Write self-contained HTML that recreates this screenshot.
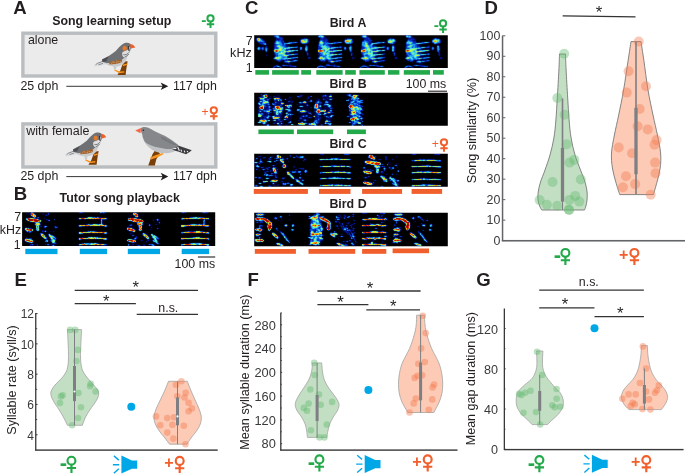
<!DOCTYPE html>
<html lang="en">
<head>
<meta charset="utf-8">
<title>Song learning figure</title>
<style>
html,body{margin:0;padding:0;background:#fff;}
body{width:685px;height:475px;overflow:hidden;font-family:"Liberation Sans", Arial, Helvetica, sans-serif;}
svg{display:block;}
svg text{font-family:"Liberation Sans", Arial, Helvetica, sans-serif;}
</style>
</head>
<body>
<svg width="685" height="475" viewBox="0 0 685 475">
<filter id="jet" filterUnits="userSpaceOnUse" x="0" y="0" width="685" height="475" color-interpolation-filters="sRGB"><feConvolveMatrix in="SourceGraphic" order="3" kernelMatrix="0 1 0 1 10 1 0 1 0" divisor="14" edgeMode="duplicate" preserveAlpha="true" result="i"/><feTurbulence type="fractalNoise" baseFrequency="0.42 0.5" numOctaves="2" seed="4" result="n"/><feColorMatrix in="n" type="matrix" values="1 0 0 0 0 1 0 0 0 0 1 0 0 0 0 0 0 0 0 1" result="ng"/><feComposite in="i" in2="ng" operator="arithmetic" k1="1.7" k2="0.2" k3="0" k4="0" result="t"/><feComponentTransfer><feFuncR type="table" tableValues="0 0 0 0 0.01 0.01 0.02 0.03 0.05 0.06 0.08 0.12 0.16 0.21 0.25 0.34 0.42 0.51 0.6 0.69 0.78 0.86 0.95 0.96 0.97 0.98 0.99 1 0.99 0.98 0.97 0.97 0.96 0.95 0.93 0.91 0.89 0.86 0.84 0.82 0.8 0.78 0.75 0.73 0.7 0.68 0.65 0.63 0.6 0.58 0.55"/><feFuncG type="table" tableValues="0 0 0 0 0.04 0.08 0.12 0.19 0.29 0.4 0.5 0.59 0.69 0.78 0.88 0.91 0.94 0.97 1 0.99 0.97 0.96 0.95 0.88 0.81 0.74 0.67 0.6 0.53 0.47 0.4 0.33 0.27 0.2 0.17 0.14 0.11 0.09 0.06 0.03 0 0 0 0 0 0 0 0 0 0 0"/><feFuncB type="table" tableValues="0 0.07 0.15 0.22 0.37 0.52 0.67 0.78 0.84 0.9 0.96 0.95 0.94 0.93 0.92 0.8 0.69 0.57 0.45 0.36 0.27 0.19 0.1 0.08 0.06 0.04 0.02 0 0 0 0 0 0 0 0 0 0 0 0 0 0 0 0 0 0 0 0 0 0 0 0"/></feComponentTransfer><feConvolveMatrix order="3" kernelMatrix="0 1 0 1 12 1 0 1 0" divisor="16" edgeMode="duplicate" preserveAlpha="true"/></filter><filter id="jets" filterUnits="userSpaceOnUse" x="0" y="0" width="685" height="475" color-interpolation-filters="sRGB"><feConvolveMatrix in="SourceGraphic" order="3" kernelMatrix="0 1 0 1 6 1 0 1 0" divisor="10" edgeMode="duplicate" preserveAlpha="true" result="i"/><feTurbulence type="fractalNoise" baseFrequency="0.35 0.45" numOctaves="2" seed="9" result="n"/><feColorMatrix in="n" type="matrix" values="1 0 0 0 0 1 0 0 0 0 1 0 0 0 0 0 0 0 0 1" result="ng"/><feComposite in="i" in2="ng" operator="arithmetic" k1="1.5" k2="0.3" k3="0" k4="0" result="t"/><feComponentTransfer><feFuncR type="table" tableValues="0 0 0 0 0.01 0.01 0.02 0.03 0.05 0.06 0.08 0.12 0.16 0.21 0.25 0.34 0.42 0.51 0.6 0.69 0.78 0.86 0.95 0.96 0.97 0.98 0.99 1 0.99 0.98 0.97 0.97 0.96 0.95 0.93 0.91 0.89 0.86 0.84 0.82 0.8 0.78 0.75 0.73 0.7 0.68 0.65 0.63 0.6 0.58 0.55"/><feFuncG type="table" tableValues="0 0 0 0 0.04 0.08 0.12 0.19 0.29 0.4 0.5 0.59 0.69 0.78 0.88 0.91 0.94 0.97 1 0.99 0.97 0.96 0.95 0.88 0.81 0.74 0.67 0.6 0.53 0.47 0.4 0.33 0.27 0.2 0.17 0.14 0.11 0.09 0.06 0.03 0 0 0 0 0 0 0 0 0 0 0"/><feFuncB type="table" tableValues="0 0.07 0.15 0.22 0.37 0.52 0.67 0.78 0.84 0.9 0.96 0.95 0.94 0.93 0.92 0.8 0.69 0.57 0.45 0.36 0.27 0.19 0.1 0.08 0.06 0.04 0.02 0 0 0 0 0 0 0 0 0 0 0 0 0 0 0 0 0 0 0 0 0 0 0 0"/></feComponentTransfer><feConvolveMatrix order="3" kernelMatrix="0 1 0 1 8 1 0 1 0" divisor="12" edgeMode="duplicate" preserveAlpha="true"/></filter>
<text x="13.3" y="13.8" font-size="18.6" font-weight="bold" fill="#231f20">A</text>
<text x="52.2" y="24.8" font-size="12.4" font-weight="bold" fill="#231f20">Song learning setup</text>
<rect x="22.9" y="33.2" width="192.9" height="42.8" fill="#ebebeb" stroke="#babdbf" stroke-width="3.4"/>
<rect x="22.9" y="123.9" width="192.9" height="43.1" fill="#ebebeb" stroke="#babdbf" stroke-width="3.4"/>
<text x="27.9" y="44.2" font-size="12.4" fill="#231f20">alone</text>
<text x="26.2" y="135.1" font-size="12.5" fill="#231f20">with female</text>
<text x="20.4" y="90" font-size="12.4" fill="#231f20">25 dph</text>
<text x="173" y="90" font-size="12.4" fill="#231f20">117 dph</text>
<line x1="66.3" y1="86.3" x2="164" y2="86.3" stroke="#231f20" stroke-width="0.9"/>
<path d="M168.3 86.3 l-7.6 -3.8 l1.9 3.8 l-1.9 3.8z" fill="#231f20"/>
<text x="20.4" y="180" font-size="12.4" fill="#231f20">25 dph</text>
<text x="173" y="180" font-size="12.4" fill="#231f20">117 dph</text>
<line x1="66.3" y1="176.6" x2="164" y2="176.6" stroke="#231f20" stroke-width="0.9"/>
<path d="M168.3 176.6 l-7.6 -3.8 l1.9 3.8 l-1.9 3.8z" fill="#231f20"/>
<g transform="translate(0 0)"><path d="M125.2 61.6L127.6 61.2L126.4 68.5L125.6 74.9L117.4 74.9L120.4 70.2L122.4 64.5Z" fill="#7a3f08"/><path d="M114.6 69.4L119.8 71.6L124.2 71.2L124.4 72.6L119.4 73.2L114.2 70.6Z" fill="#f7941d"/><path d="M122.8 64.6L127.4 63.4L127.5 64.8L122.9 66.2Z" fill="#f7941d"/><path d="M104.0 60.6L97.4 62.4L94.6 64.2C93.7 65.2 94.2 66.6 95.6 66.6L100.4 65.8L105.6 64.6Z" fill="#dcdee0"/><path d="M102.6 61.4L97.4 63.4L95.6 64.8M103 63.4L98.4 64.8" stroke="#77787b" stroke-width="0.8" fill="none"/><path d="M103.2 62.6C107 65.6 112 66.8 116.8 66.6C120.8 66.4 124.6 63.6 126.8 58.8L128.6 52.4L122 52L112 60Z" fill="#c9cbcd"/><path d="M113.2 65.4L116.4 65.0L116.0 69.6L114.0 69.2Z" fill="#c9cbcd"/><path d="M102.0 59.6C106.4 57.4 112.0 54.4 116.0 50.8C119.0 47.6 121.6 43.8 125.6 42.8C128.4 42.2 131.0 43.4 131.6 45.8C131.8 48.4 130.4 50.4 129.4 52.2C127.6 54.6 125.8 55.4 124.0 58.0C121.0 61.2 116.0 62.6 110.8 63.0C107.4 63.4 104.2 62.8 102.0 61.6Z" fill="#6f7073"/><path d="M102.0 59.6L108.6 56.4L106.2 61.6L102.8 62Z" fill="#4d4e52"/><path d="M109.2 63.2C110.8 61.2 116.8 60.0 122.2 59.8L121.6 62.2C118.6 63.8 113.0 64.4 109.6 64.4Z" fill="#a5632a"/><path d="M111.4 63.2h0.8M113.6 62.4h0.8M115.8 62.8h0.8M117.8 61.8h0.8M119.8 61.8h0.8M112.6 61.8h0.6M116.6 61.2h0.6" stroke="#e8d6c0" stroke-width="0.7" fill="none"/><path d="M122.6 52.0C121.6 54.0 122.0 56.6 124.6 57.8C126.8 56.8 128.6 54.4 129.6 51.6L128.4 49.6Z" fill="#dcdedf"/><path d="M123.4 54.6C125.4 55.4 127.2 54.4 128.8 52.4M124.6 57.0C126.4 56.4 127.6 55.6 128.8 54.0" stroke="#4d4e52" stroke-width="0.7" fill="none"/><ellipse cx="124.7" cy="48.2" rx="2.2" ry="2.5" fill="#e27a30"/><path d="M128.4 46.0L129.0 51.0" stroke="#2b2b2e" stroke-width="0.9"/><path d="M129.6 47.0L130.2 50.6" stroke="#e8e8e8" stroke-width="0.7"/><path d="M130.0 44.4C132.2 43.6 134.2 45.2 135.2 47.4L130.8 48.6Z" fill="#ee5f2e"/></g>
<g transform="translate(-29 89.8)"><path d="M125.2 61.6L127.6 61.2L126.4 68.5L125.6 74.9L117.4 74.9L120.4 70.2L122.4 64.5Z" fill="#7a3f08"/><path d="M114.6 69.4L119.8 71.6L124.2 71.2L124.4 72.6L119.4 73.2L114.2 70.6Z" fill="#f7941d"/><path d="M122.8 64.6L127.4 63.4L127.5 64.8L122.9 66.2Z" fill="#f7941d"/><path d="M104.0 60.6L97.4 62.4L94.6 64.2C93.7 65.2 94.2 66.6 95.6 66.6L100.4 65.8L105.6 64.6Z" fill="#dcdee0"/><path d="M102.6 61.4L97.4 63.4L95.6 64.8M103 63.4L98.4 64.8" stroke="#77787b" stroke-width="0.8" fill="none"/><path d="M103.2 62.6C107 65.6 112 66.8 116.8 66.6C120.8 66.4 124.6 63.6 126.8 58.8L128.6 52.4L122 52L112 60Z" fill="#c9cbcd"/><path d="M113.2 65.4L116.4 65.0L116.0 69.6L114.0 69.2Z" fill="#c9cbcd"/><path d="M102.0 59.6C106.4 57.4 112.0 54.4 116.0 50.8C119.0 47.6 121.6 43.8 125.6 42.8C128.4 42.2 131.0 43.4 131.6 45.8C131.8 48.4 130.4 50.4 129.4 52.2C127.6 54.6 125.8 55.4 124.0 58.0C121.0 61.2 116.0 62.6 110.8 63.0C107.4 63.4 104.2 62.8 102.0 61.6Z" fill="#6f7073"/><path d="M102.0 59.6L108.6 56.4L106.2 61.6L102.8 62Z" fill="#4d4e52"/><path d="M109.2 63.2C110.8 61.2 116.8 60.0 122.2 59.8L121.6 62.2C118.6 63.8 113.0 64.4 109.6 64.4Z" fill="#a5632a"/><path d="M111.4 63.2h0.8M113.6 62.4h0.8M115.8 62.8h0.8M117.8 61.8h0.8M119.8 61.8h0.8M112.6 61.8h0.6M116.6 61.2h0.6" stroke="#e8d6c0" stroke-width="0.7" fill="none"/><path d="M122.6 52.0C121.6 54.0 122.0 56.6 124.6 57.8C126.8 56.8 128.6 54.4 129.6 51.6L128.4 49.6Z" fill="#dcdedf"/><path d="M123.4 54.6C125.4 55.4 127.2 54.4 128.8 52.4M124.6 57.0C126.4 56.4 127.6 55.6 128.8 54.0" stroke="#4d4e52" stroke-width="0.7" fill="none"/><ellipse cx="124.7" cy="48.2" rx="2.2" ry="2.5" fill="#e27a30"/><path d="M128.4 46.0L129.0 51.0" stroke="#2b2b2e" stroke-width="0.9"/><path d="M129.6 47.0L130.2 50.6" stroke="#e8e8e8" stroke-width="0.7"/><path d="M130.0 44.4C132.2 43.6 134.2 45.2 135.2 47.4L130.8 48.6Z" fill="#ee5f2e"/></g>
<g><path d="M155.0 150.4L158.4 151.2L160.0 154.0L156.4 159.0L154.8 165.6L148.2 165.6L150.4 159.6L152.6 154.0Z" fill="#7a3f08"/><path d="M150.2 157.6L156.0 155.0L162.8 153.0L163.4 154.2L157.6 157.2L151.0 159.4Z" fill="#f7941d"/><path d="M170.0 146.6L178.8 145.8L191.8 150.2L189.6 152.0L186.0 154.2L178.0 151.6L170.4 149.6Z" fill="#3c3d41"/><path d="M172.0 148.6L176.4 148.4M177.6 146.8L179.4 150.8M181.0 149.6L181.6 151.6M184.2 150.6L184.8 152.4M187.2 151.0L187.6 152.2" stroke="#f0f0f0" stroke-width="1.1" fill="none"/><path d="M143.6 140.2C146.4 146.4 152.0 150.6 158.6 152.6C164.0 153.8 170.0 153.2 174.6 151.4L171.0 148.0L150.0 141.0Z" fill="#bfc1c4"/><path d="M140.6 128.4C142.0 126.6 145.4 126.4 148.4 127.8C152.0 129.8 156.4 132.4 160.6 134.0C166.6 136.2 173.6 141.2 178.8 145.4C176.0 148.2 170.6 149.6 165.0 148.8C158.0 147.8 151.0 146.0 147.0 143.6C144.0 141.4 142.4 137.6 142.2 134.2C141.4 132.4 140.6 130.6 140.6 128.4Z" fill="#85878a"/><path d="M160.4 136.0C166.0 138.4 173.0 142.0 178.4 145.6C174.6 145.8 168.0 142.8 162.0 139.0Z" fill="#77797c"/><circle cx="143.4" cy="130.2" r="0.8" fill="#222"/><path d="M140.8 128.0L135.2 130.6L140.4 133.2C141.0 131.4 141.0 129.6 140.8 128.0Z" fill="#f26a4b"/></g>
<text x="201.2" y="25.2" font-size="15.5" font-weight="bold" fill="#22a949">-</text><g fill="none" stroke="#22a949" stroke-width="2"><circle cx="210.5" cy="18.4" r="3.1"/><path d="M210.5 21.5V27.9M206.8 24.35H214.2"/></g>
<text x="205.1" y="116.05" font-size="12.2" text-anchor="middle" fill="#f15f2c">+</text><g fill="none" stroke="#f15f2c" stroke-width="2"><circle cx="213.8" cy="110.35" r="3.1"/><path d="M213.8 113.45V119.85M210.1 116.3H217.5"/></g>
<text x="13.8" y="200.3" font-size="18.6" font-weight="bold" fill="#231f20">B</text>
<text x="59.6" y="201.7" font-size="12.4" font-weight="bold" fill="#231f20">Tutor song playback</text>
<text x="21.2" y="221" font-size="12.4" text-anchor="end" fill="#231f20">7</text>
<text x="21.2" y="234.3" font-size="12.4" text-anchor="end" fill="#231f20">kHz</text>
<text x="20.6" y="249.4" font-size="12.4" text-anchor="end" fill="#231f20">1</text>
<rect x="25.3" y="248.8" width="32.2" height="5.3" fill="#00a7e7"/><rect x="79.8" y="248.8" width="27.2" height="5.3" fill="#00a7e7"/><rect x="127.8" y="248.8" width="32.2" height="5.3" fill="#00a7e7"/><rect x="181.7" y="248.8" width="27.3" height="5.3" fill="#00a7e7"/>
<line x1="197.9" y1="257" x2="215.2" y2="257" stroke="#231f20" stroke-width="1.1"/>
<text x="215.2" y="268.4" font-size="12.4" text-anchor="end" fill="#231f20">100 ms</text>
<clipPath id="c433"><rect x="22.1" y="212.3" width="193.1" height="33.6"/></clipPath><g clip-path="url(#c433)"><g filter="url(#jet)"><rect x="19.1" y="209.3" width="199.1" height="39.6" fill="#000"/><g fill="#fff"><ellipse cx="32.68" cy="229.63" rx="1.04" ry="0.7" opacity="0.2"/><ellipse cx="27.33" cy="213.7" rx="1.6" ry="0.53" opacity="0.14"/><ellipse cx="56.16" cy="227.41" rx="1.6" ry="0.64" opacity="0.2"/><ellipse cx="29.97" cy="232.35" rx="1.64" ry="0.66" opacity="0.22"/><ellipse cx="46.11" cy="215.22" rx="1.51" ry="0.7" opacity="0.15"/><ellipse cx="26.26" cy="239.27" rx="1.17" ry="0.76" opacity="0.24"/><ellipse cx="47.44" cy="240.93" rx="1.07" ry="0.8" opacity="0.17"/><ellipse cx="54.3" cy="239.67" rx="0.72" ry="0.47" opacity="0.13"/><ellipse cx="55.23" cy="226.38" rx="1.35" ry="0.55" opacity="0.18"/><ellipse cx="37.26" cy="223.83" rx="1.3" ry="0.69" opacity="0.24"/><ellipse cx="46.44" cy="241.17" rx="1.63" ry="0.9" opacity="0.21"/><ellipse cx="30.36" cy="239.12" rx="1.76" ry="0.85" opacity="0.19"/><ellipse cx="47.43" cy="219.63" rx="1.6" ry="0.69" opacity="0.15"/><ellipse cx="27.27" cy="238.92" rx="1.79" ry="0.44" opacity="0.23"/><ellipse cx="38.02" cy="217.82" rx="0.95" ry="0.78" opacity="0.24"/><ellipse cx="26.67" cy="231.74" rx="0.65" ry="0.76" opacity="0.15"/><ellipse cx="52.61" cy="242.72" rx="1.21" ry="0.9" opacity="0.15"/><ellipse cx="27.69" cy="231.29" rx="0.64" ry="0.5" opacity="0.17"/><ellipse cx="44.22" cy="217.99" rx="0.65" ry="0.83" opacity="0.15"/><ellipse cx="55.02" cy="240.2" rx="1.05" ry="0.63" opacity="0.18"/><ellipse cx="45.26" cy="231.17" rx="1.27" ry="0.71" opacity="0.25"/><ellipse cx="41.02" cy="226.24" rx="1.46" ry="0.52" opacity="0.15"/><ellipse cx="55.61" cy="228.93" rx="1.26" ry="0.41" opacity="0.17"/><ellipse cx="43.28" cy="213.9" rx="1.34" ry="0.72" opacity="0.11"/><ellipse cx="44.75" cy="227.29" rx="1.42" ry="0.58" opacity="0.21"/><ellipse cx="48.18" cy="213.97" rx="0.67" ry="0.74" opacity="0.25"/><ellipse cx="31.34" cy="244.76" rx="1.19" ry="0.46" opacity="0.2"/><ellipse cx="33.31" cy="244.67" rx="1.2" ry="0.46" opacity="0.2"/><ellipse cx="48.01" cy="244.33" rx="1.17" ry="0.55" opacity="0.19"/><ellipse cx="30.42" cy="245.1" rx="0.84" ry="0.44" opacity="0.22"/><ellipse cx="45.64" cy="244.4" rx="0.92" ry="0.47" opacity="0.3"/><ellipse cx="37.33" cy="245.16" rx="0.77" ry="0.47" opacity="0.26"/><ellipse cx="51.62" cy="244.75" rx="0.83" ry="0.42" opacity="0.24"/><ellipse cx="29.41" cy="245.11" rx="1.44" ry="0.44" opacity="0.18"/><ellipse cx="49.13" cy="244.94" rx="1.41" ry="0.47" opacity="0.15"/><ellipse cx="32.64" cy="245.09" rx="0.87" ry="0.47" opacity="0.21"/><ellipse cx="36.73" cy="244.71" rx="1.52" ry="0.43" opacity="0.12"/><ellipse cx="53.48" cy="245.18" rx="1.59" ry="0.49" opacity="0.33"/><ellipse cx="33.2" cy="214.9" rx="3.36" ry="1.8" opacity="0.17" transform="rotate(36.38 33.2 214.9)"/><ellipse cx="33.2" cy="214.9" rx="2.56" ry="1.1" opacity="0.42" transform="rotate(36.38 33.2 214.9)"/><ellipse cx="32.09" cy="214.45" rx="1.2" ry="0.68" opacity="0.58" transform="rotate(36.38 32.09 214.45)"/><ellipse cx="32.94" cy="214.51" rx="0.74" ry="0.66" opacity="0.48" transform="rotate(36.38 32.94 214.51)"/><ellipse cx="34.43" cy="216.41" rx="1.12" ry="0.77" opacity="0.75" transform="rotate(36.38 34.43 216.41)"/><ellipse cx="33.5" cy="220.25" rx="7.88" ry="2.1" opacity="0.17" transform="rotate(8.78 33.5 220.25)"/><ellipse cx="33.5" cy="220.25" rx="7.08" ry="1.4" opacity="0.44" transform="rotate(8.78 33.5 220.25)"/><ellipse cx="27.75" cy="218.72" rx="1.15" ry="0.66" opacity="0.51" transform="rotate(8.78 27.75 218.72)"/><ellipse cx="28.89" cy="219.42" rx="1.26" ry="0.86" opacity="0.53" transform="rotate(8.78 28.89 219.42)"/><ellipse cx="30.12" cy="219.66" rx="1.17" ry="0.75" opacity="0.46" transform="rotate(8.78 30.12 219.66)"/><ellipse cx="31.68" cy="219.51" rx="1.18" ry="1" opacity="0.75" transform="rotate(8.78 31.68 219.51)"/><ellipse cx="32.79" cy="220.35" rx="1.22" ry="0.61" opacity="0.5" transform="rotate(8.78 32.79 220.35)"/><ellipse cx="34.01" cy="220.23" rx="0.98" ry="0.94" opacity="0.37" transform="rotate(8.78 34.01 220.23)"/><ellipse cx="34.95" cy="220.02" rx="0.74" ry="1.03" opacity="0.77" transform="rotate(8.78 34.95 220.02)"/><ellipse cx="36.56" cy="220.48" rx="0.89" ry="0.74" opacity="0.67" transform="rotate(8.78 36.56 220.48)"/><ellipse cx="38.25" cy="220.59" rx="0.9" ry="0.64" opacity="0.63" transform="rotate(8.78 38.25 220.59)"/><ellipse cx="39.72" cy="220.68" rx="0.81" ry="0.75" opacity="0.65" transform="rotate(8.78 39.72 220.68)"/><ellipse cx="36.9" cy="220.9" rx="3" ry="1.7" opacity="0.18"/><ellipse cx="36.9" cy="220.9" rx="2.3" ry="1.2" opacity="0.46"/><ellipse cx="36.9" cy="220.9" rx="1.8" ry="0.7" opacity="0.83"/><ellipse cx="30.3" cy="219.7" rx="2.6" ry="1.6" opacity="0.18"/><ellipse cx="30.3" cy="219.7" rx="1.9" ry="1.1" opacity="0.38"/><ellipse cx="30.3" cy="219.7" rx="1.4" ry="0.6" opacity="0.68"/><ellipse cx="37.7" cy="224.2" rx="3" ry="1.5" opacity="0.17"/><ellipse cx="37.7" cy="224.2" rx="2.2" ry="0.8" opacity="0.38"/><ellipse cx="36.52" cy="224.41" rx="1.07" ry="0.42" opacity="0.47"/><ellipse cx="37.82" cy="224.14" rx="1.12" ry="0.43" opacity="0.41"/><ellipse cx="39.18" cy="223.9" rx="0.95" ry="0.42" opacity="0.67"/><ellipse cx="37.7" cy="227.1" rx="2" ry="1.8" opacity="0.18"/><ellipse cx="37.7" cy="227.1" rx="1.3" ry="1.3" opacity="0.29"/><ellipse cx="37.7" cy="227.1" rx="0.8" ry="0.8" opacity="0.52"/><ellipse cx="37.7" cy="229.5" rx="1.9" ry="1.6" opacity="0.18"/><ellipse cx="37.7" cy="229.5" rx="1.2" ry="1.1" opacity="0.26"/><ellipse cx="37.7" cy="229.5" rx="0.7" ry="0.6" opacity="0.46"/><ellipse cx="28.8" cy="229.7" rx="4.4" ry="1.8" opacity="0.17" transform="rotate(13.63 28.8 229.7)"/><ellipse cx="28.8" cy="229.7" rx="3.6" ry="1.1" opacity="0.46" transform="rotate(13.63 28.8 229.7)"/><ellipse cx="26.43" cy="229.54" rx="1.17" ry="0.54" opacity="0.61" transform="rotate(13.63 26.43 229.54)"/><ellipse cx="27.37" cy="229.47" rx="1.23" ry="0.73" opacity="0.72" transform="rotate(13.63 27.37 229.47)"/><ellipse cx="29.02" cy="229.35" rx="1.05" ry="0.45" opacity="0.46" transform="rotate(13.63 29.02 229.35)"/><ellipse cx="30.06" cy="229.66" rx="0.76" ry="0.76" opacity="0.47" transform="rotate(13.63 30.06 229.66)"/><ellipse cx="31.27" cy="229.87" rx="1.21" ry="0.69" opacity="0.8" transform="rotate(13.63 31.27 229.87)"/><ellipse cx="29.1" cy="240.8" rx="4.67" ry="1.7" opacity="0.17" transform="rotate(11 29.1 240.8)"/><ellipse cx="29.1" cy="240.8" rx="3.87" ry="1" opacity="0.46" transform="rotate(11 29.1 240.8)"/><ellipse cx="26.66" cy="240.58" rx="0.72" ry="0.65" opacity="0.64" transform="rotate(11 26.66 240.58)"/><ellipse cx="27.61" cy="240.78" rx="1.26" ry="0.42" opacity="0.55" transform="rotate(11 27.61 240.78)"/><ellipse cx="29.35" cy="240.58" rx="0.81" ry="0.48" opacity="0.69" transform="rotate(11 29.35 240.58)"/><ellipse cx="30.7" cy="241" rx="0.94" ry="0.52" opacity="0.59" transform="rotate(11 30.7 241)"/><ellipse cx="31.62" cy="241.72" rx="0.95" ry="0.64" opacity="0.46" transform="rotate(11 31.62 241.72)"/><ellipse cx="43.6" cy="236.2" rx="4.68" ry="1.6" opacity="0.17" transform="rotate(42.8 43.6 236.2)"/><ellipse cx="43.6" cy="236.2" rx="3.88" ry="0.9" opacity="0.29" transform="rotate(42.8 43.6 236.2)"/><ellipse cx="41.72" cy="234.45" rx="1.01" ry="0.5" opacity="0.45" transform="rotate(42.8 41.72 234.45)"/><ellipse cx="42.57" cy="235.12" rx="1.15" ry="0.62" opacity="0.41" transform="rotate(42.8 42.57 235.12)"/><ellipse cx="43.69" cy="235.91" rx="0.86" ry="0.42" opacity="0.43" transform="rotate(42.8 43.69 235.91)"/><ellipse cx="44.4" cy="237.24" rx="1.27" ry="0.44" opacity="0.47" transform="rotate(42.8 44.4 237.24)"/><ellipse cx="45.92" cy="238.22" rx="0.86" ry="0.42" opacity="0.25" transform="rotate(42.8 45.92 238.22)"/><ellipse cx="51.85" cy="238.1" rx="5.53" ry="1.4" opacity="0.17" transform="rotate(52.62 51.85 238.1)"/><ellipse cx="51.85" cy="238.1" rx="4.73" ry="0.7" opacity="0.19" transform="rotate(52.62 51.85 238.1)"/><ellipse cx="49.48" cy="234.89" rx="0.92" ry="0.34" opacity="0.32" transform="rotate(52.62 49.48 234.89)"/><ellipse cx="50.57" cy="236.03" rx="1.06" ry="0.37" opacity="0.33" transform="rotate(52.62 50.57 236.03)"/><ellipse cx="51.6" cy="237.72" rx="1.13" ry="0.45" opacity="0.24" transform="rotate(52.62 51.6 237.72)"/><ellipse cx="52.71" cy="238.85" rx="0.84" ry="0.32" opacity="0.31" transform="rotate(52.62 52.71 238.85)"/><ellipse cx="53.6" cy="240.24" rx="0.85" ry="0.31" opacity="0.21" transform="rotate(52.62 53.6 240.24)"/><ellipse cx="54.09" cy="241.09" rx="1.24" ry="0.32" opacity="0.34" transform="rotate(52.62 54.09 241.09)"/><path d="M51.9 235.7L55.9 238.7" stroke="#fff" stroke-width="1.5" stroke-linecap="round" opacity="0.13" fill="none"/><path d="M51.9 235.7L55.9 238.7" stroke="#fff" stroke-width="0.7" stroke-linecap="round" opacity="0.3" fill="none"/><path d="M50.9 240.9L55.9 243.7" stroke="#fff" stroke-width="1.5" stroke-linecap="round" opacity="0.13" fill="none"/><path d="M50.9 240.9L55.9 243.7" stroke="#fff" stroke-width="0.7" stroke-linecap="round" opacity="0.3" fill="none"/><ellipse cx="46.31" cy="221.92" rx="0.86" ry="0.43" opacity="0.14"/><ellipse cx="54.64" cy="219.55" rx="0.68" ry="0.57" opacity="0.24"/><ellipse cx="41.41" cy="220.33" rx="0.72" ry="0.55" opacity="0.16"/><ellipse cx="50.66" cy="231.5" rx="0.7" ry="0.56" opacity="0.14"/><ellipse cx="45.7" cy="226.28" rx="0.56" ry="0.67" opacity="0.28"/><ellipse cx="42.85" cy="231.24" rx="0.69" ry="0.63" opacity="0.26"/><ellipse cx="46.03" cy="226.47" rx="0.83" ry="0.64" opacity="0.17"/><ellipse cx="53.37" cy="231.6" rx="0.84" ry="0.56" opacity="0.14"/><ellipse cx="49.2" cy="220.64" rx="0.86" ry="0.6" opacity="0.22"/><ellipse cx="44.21" cy="225.92" rx="0.82" ry="0.45" opacity="0.28"/><path d="M79.2 218.84C79.7 218.77 81.2 218.48 82.2 218.44C83.2 218.4 84.2 218.64 85.2 218.59C86.2 218.55 87.2 218.22 88.2 218.15C89.2 218.08 90.2 218.13 91.2 218.16C92.2 218.19 93.2 218.29 94.2 218.32C95.2 218.35 96.2 218.31 97.2 218.33C98.2 218.35 99.2 218.39 100.2 218.44C101.2 218.49 102.2 218.59 103.2 218.65C104.2 218.7 105.7 218.74 106.2 218.76" stroke="#fff" stroke-width="1" stroke-linecap="round" opacity="0.47" fill="none"/><path d="M79.2 218.84L82.2 218.44" stroke="#fff" stroke-width="0.9" stroke-linecap="round" opacity="0.22" fill="none"/><path d="M82.2 218.44L85.2 218.59" stroke="#fff" stroke-width="0.9" stroke-linecap="round" opacity="0.38" fill="none"/><path d="M88.2 218.15L91.2 218.16" stroke="#fff" stroke-width="0.9" stroke-linecap="round" opacity="0.39" fill="none"/><path d="M91.2 218.16L94.2 218.32" stroke="#fff" stroke-width="0.9" stroke-linecap="round" opacity="0.25" fill="none"/><path d="M94.2 218.32L97.2 218.33" stroke="#fff" stroke-width="0.9" stroke-linecap="round" opacity="0.43" fill="none"/><path d="M97.2 218.33L100.2 218.44" stroke="#fff" stroke-width="0.9" stroke-linecap="round" opacity="0.32" fill="none"/><path d="M100.2 218.44L103.2 218.65" stroke="#fff" stroke-width="0.9" stroke-linecap="round" opacity="0.4" fill="none"/><path d="M103.2 218.65L106.2 218.76" stroke="#fff" stroke-width="0.9" stroke-linecap="round" opacity="0.27" fill="none"/><path d="M79.2 225.74C79.7 225.72 81.2 225.64 82.2 225.61C83.2 225.57 84.2 225.59 85.2 225.53C86.2 225.47 87.2 225.26 88.2 225.24C89.2 225.21 90.2 225.39 91.2 225.37C92.2 225.34 93.2 225.1 94.2 225.07C95.2 225.05 96.2 225.17 97.2 225.2C98.2 225.23 99.2 225.22 100.2 225.26C101.2 225.3 102.2 225.33 103.2 225.43C104.2 225.54 105.7 225.82 106.2 225.89" stroke="#fff" stroke-width="1" stroke-linecap="round" opacity="0.47" fill="none"/><path d="M79.2 225.74L82.2 225.61" stroke="#fff" stroke-width="0.9" stroke-linecap="round" opacity="0.22" fill="none"/><path d="M82.2 225.61L85.2 225.53" stroke="#fff" stroke-width="0.9" stroke-linecap="round" opacity="0.29" fill="none"/><path d="M85.2 225.53L88.2 225.24" stroke="#fff" stroke-width="0.9" stroke-linecap="round" opacity="0.41" fill="none"/><path d="M88.2 225.24L91.2 225.37" stroke="#fff" stroke-width="0.9" stroke-linecap="round" opacity="0.35" fill="none"/><path d="M91.2 225.37L94.2 225.07" stroke="#fff" stroke-width="0.9" stroke-linecap="round" opacity="0.29" fill="none"/><path d="M94.2 225.07L97.2 225.2" stroke="#fff" stroke-width="0.9" stroke-linecap="round" opacity="0.33" fill="none"/><path d="M97.2 225.2L100.2 225.26" stroke="#fff" stroke-width="0.9" stroke-linecap="round" opacity="0.23" fill="none"/><path d="M100.2 225.26L103.2 225.43" stroke="#fff" stroke-width="0.9" stroke-linecap="round" opacity="0.4" fill="none"/><path d="M103.2 225.43L106.2 225.89" stroke="#fff" stroke-width="0.9" stroke-linecap="round" opacity="0.41" fill="none"/><path d="M79.2 232.94C79.7 232.91 81.2 232.86 82.2 232.77C83.2 232.67 84.2 232.45 85.2 232.37C86.2 232.3 87.2 232.33 88.2 232.32C89.2 232.3 90.2 232.27 91.2 232.26C92.2 232.26 93.2 232.24 94.2 232.28C95.2 232.32 96.2 232.45 97.2 232.49C98.2 232.52 99.2 232.49 100.2 232.49C101.2 232.5 102.2 232.44 103.2 232.51C104.2 232.58 105.7 232.85 106.2 232.92" stroke="#fff" stroke-width="1" stroke-linecap="round" opacity="0.47" fill="none"/><path d="M79.2 232.94L82.2 232.77" stroke="#fff" stroke-width="0.9" stroke-linecap="round" opacity="0.35" fill="none"/><path d="M82.2 232.77L85.2 232.37" stroke="#fff" stroke-width="0.9" stroke-linecap="round" opacity="0.17" fill="none"/><path d="M88.2 232.32L91.2 232.26" stroke="#fff" stroke-width="0.9" stroke-linecap="round" opacity="0.32" fill="none"/><path d="M91.2 232.26L94.2 232.28" stroke="#fff" stroke-width="0.9" stroke-linecap="round" opacity="0.31" fill="none"/><path d="M94.2 232.28L97.2 232.49" stroke="#fff" stroke-width="0.9" stroke-linecap="round" opacity="0.33" fill="none"/><path d="M97.2 232.49L100.2 232.49" stroke="#fff" stroke-width="0.9" stroke-linecap="round" opacity="0.32" fill="none"/><path d="M100.2 232.49L103.2 232.51" stroke="#fff" stroke-width="0.9" stroke-linecap="round" opacity="0.3" fill="none"/><path d="M103.2 232.51L106.2 232.92" stroke="#fff" stroke-width="0.9" stroke-linecap="round" opacity="0.46" fill="none"/><path d="M79.2 238.94C79.7 238.85 81.2 238.51 82.2 238.44C83.2 238.38 84.2 238.55 85.2 238.54C86.2 238.52 87.2 238.43 88.2 238.34C89.2 238.26 90.2 238.08 91.2 238.05C92.2 238.02 93.2 238.15 94.2 238.17C95.2 238.2 96.2 238.18 97.2 238.19C98.2 238.2 99.2 238.18 100.2 238.25C101.2 238.32 102.2 238.49 103.2 238.6C104.2 238.72 105.7 238.89 106.2 238.95" stroke="#fff" stroke-width="1" stroke-linecap="round" opacity="0.47" fill="none"/><path d="M79.2 238.94L82.2 238.44" stroke="#fff" stroke-width="0.9" stroke-linecap="round" opacity="0.43" fill="none"/><path d="M82.2 238.44L85.2 238.54" stroke="#fff" stroke-width="0.9" stroke-linecap="round" opacity="0.21" fill="none"/><path d="M88.2 238.34L91.2 238.05" stroke="#fff" stroke-width="0.9" stroke-linecap="round" opacity="0.45" fill="none"/><path d="M91.2 238.05L94.2 238.17" stroke="#fff" stroke-width="0.9" stroke-linecap="round" opacity="0.39" fill="none"/><path d="M94.2 238.17L97.2 238.19" stroke="#fff" stroke-width="0.9" stroke-linecap="round" opacity="0.41" fill="none"/><path d="M103.2 238.6L106.2 238.95" stroke="#fff" stroke-width="0.9" stroke-linecap="round" opacity="0.4" fill="none"/><path d="M79.2 244.77C79.7 244.72 81.2 244.52 82.2 244.43C83.2 244.34 84.2 244.29 85.2 244.24C86.2 244.19 87.2 244.15 88.2 244.13C89.2 244.1 90.2 244.11 91.2 244.11C92.2 244.1 93.2 244.06 94.2 244.09C95.2 244.12 96.2 244.23 97.2 244.29C98.2 244.36 99.2 244.45 100.2 244.5C101.2 244.55 102.2 244.56 103.2 244.6C104.2 244.64 105.7 244.72 106.2 244.75" stroke="#fff" stroke-width="1" stroke-linecap="round" opacity="0.47" fill="none"/><path d="M79.2 244.77L82.2 244.43" stroke="#fff" stroke-width="0.9" stroke-linecap="round" opacity="0.26" fill="none"/><path d="M82.2 244.43L85.2 244.24" stroke="#fff" stroke-width="0.9" stroke-linecap="round" opacity="0.4" fill="none"/><path d="M85.2 244.24L88.2 244.13" stroke="#fff" stroke-width="0.9" stroke-linecap="round" opacity="0.22" fill="none"/><path d="M91.2 244.11L94.2 244.09" stroke="#fff" stroke-width="0.9" stroke-linecap="round" opacity="0.28" fill="none"/><path d="M94.2 244.09L97.2 244.29" stroke="#fff" stroke-width="0.9" stroke-linecap="round" opacity="0.33" fill="none"/><path d="M97.2 244.29L100.2 244.5" stroke="#fff" stroke-width="0.9" stroke-linecap="round" opacity="0.24" fill="none"/><path d="M100.2 244.5L103.2 244.6" stroke="#fff" stroke-width="0.9" stroke-linecap="round" opacity="0.23" fill="none"/><path d="M79.2 212.8C79.87 212.77 82.53 212.63 83.2 212.6" stroke="#fff" stroke-width="1" stroke-linecap="round" opacity="0.22" fill="none"/><path d="M100.2 212.7C101.03 212.72 104.37 212.78 105.2 212.8" stroke="#fff" stroke-width="1" stroke-linecap="round" opacity="0.22" fill="none"/><path d="M101.6 220.1L101.6 225.1" stroke="#fff" stroke-width="1.5" stroke-linecap="round" opacity="0.13" fill="none"/><path d="M101.6 220.1L101.6 225.1" stroke="#fff" stroke-width="0.7" stroke-linecap="round" opacity="0.3" fill="none"/><ellipse cx="132.25" cy="227.1" rx="0.83" ry="0.5" opacity="0.13"/><ellipse cx="140.32" cy="218.35" rx="0.63" ry="0.46" opacity="0.13"/><ellipse cx="143" cy="215.09" rx="0.63" ry="0.62" opacity="0.17"/><ellipse cx="149.61" cy="214.83" rx="1.08" ry="0.6" opacity="0.1"/><ellipse cx="157.73" cy="219.87" rx="0.71" ry="0.64" opacity="0.13"/><ellipse cx="147.1" cy="223.69" rx="0.75" ry="0.43" opacity="0.22"/><ellipse cx="136.33" cy="236.94" rx="1.16" ry="0.87" opacity="0.15"/><ellipse cx="135.55" cy="221.27" rx="1.58" ry="0.71" opacity="0.16"/><ellipse cx="130.71" cy="233.77" rx="1.76" ry="0.7" opacity="0.1"/><ellipse cx="128.74" cy="216.02" rx="0.8" ry="0.42" opacity="0.11"/><ellipse cx="148.08" cy="240.31" rx="0.84" ry="0.89" opacity="0.18"/><ellipse cx="152.71" cy="240.82" rx="1.73" ry="0.42" opacity="0.15"/><ellipse cx="146.61" cy="241.7" rx="0.71" ry="0.55" opacity="0.24"/><ellipse cx="131.35" cy="225" rx="1" ry="0.74" opacity="0.25"/><ellipse cx="133.21" cy="235.49" rx="1.48" ry="0.82" opacity="0.19"/><ellipse cx="156.43" cy="224.18" rx="1.1" ry="0.51" opacity="0.22"/><ellipse cx="142.7" cy="221.38" rx="0.8" ry="0.76" opacity="0.2"/><ellipse cx="149.83" cy="224.9" rx="1.18" ry="0.48" opacity="0.21"/><ellipse cx="128.51" cy="227.31" rx="1.51" ry="0.74" opacity="0.12"/><ellipse cx="135.15" cy="238.61" rx="1.37" ry="0.84" opacity="0.24"/><ellipse cx="141.75" cy="240.21" rx="1.48" ry="0.57" opacity="0.16"/><ellipse cx="130.03" cy="225.28" rx="1.75" ry="0.45" opacity="0.19"/><ellipse cx="131.21" cy="215.73" rx="1.38" ry="0.52" opacity="0.11"/><ellipse cx="132.53" cy="232.64" rx="1.3" ry="0.41" opacity="0.14"/><ellipse cx="157.78" cy="219.9" rx="1.27" ry="0.61" opacity="0.22"/><ellipse cx="146.53" cy="236.96" rx="1.24" ry="0.49" opacity="0.13"/><ellipse cx="128.33" cy="245.13" rx="0.71" ry="0.4" opacity="0.33"/><ellipse cx="132.18" cy="245.19" rx="0.69" ry="0.49" opacity="0.17"/><ellipse cx="152.34" cy="244.92" rx="1.24" ry="0.55" opacity="0.31"/><ellipse cx="136.87" cy="244.9" rx="1.05" ry="0.42" opacity="0.3"/><ellipse cx="144.82" cy="245.11" rx="0.81" ry="0.51" opacity="0.22"/><ellipse cx="149.1" cy="244.38" rx="0.95" ry="0.5" opacity="0.14"/><ellipse cx="143.49" cy="245.04" rx="1.02" ry="0.53" opacity="0.25"/><ellipse cx="132.65" cy="244.65" rx="1.6" ry="0.47" opacity="0.21"/><ellipse cx="128.49" cy="244.52" rx="0.77" ry="0.59" opacity="0.28"/><ellipse cx="153.79" cy="245.29" rx="1.21" ry="0.59" opacity="0.24"/><ellipse cx="139.2" cy="245.25" rx="1.5" ry="0.59" opacity="0.23"/><ellipse cx="150.55" cy="244.71" rx="1.6" ry="0.58" opacity="0.18"/><ellipse cx="135.7" cy="214.9" rx="3.36" ry="1.8" opacity="0.17" transform="rotate(36.38 135.7 214.9)"/><ellipse cx="135.7" cy="214.9" rx="2.56" ry="1.1" opacity="0.42" transform="rotate(36.38 135.7 214.9)"/><ellipse cx="134.57" cy="213.81" rx="1.13" ry="0.55" opacity="0.58" transform="rotate(36.38 134.57 213.81)"/><ellipse cx="135.53" cy="215.22" rx="0.87" ry="0.6" opacity="0.51" transform="rotate(36.38 135.53 215.22)"/><ellipse cx="137.3" cy="215.76" rx="0.76" ry="0.55" opacity="0.53" transform="rotate(36.38 137.3 215.76)"/><ellipse cx="136" cy="220.25" rx="7.88" ry="2.1" opacity="0.17" transform="rotate(8.78 136 220.25)"/><ellipse cx="136" cy="220.25" rx="7.08" ry="1.4" opacity="0.44" transform="rotate(8.78 136 220.25)"/><ellipse cx="129.33" cy="219.59" rx="1.12" ry="1.03" opacity="0.83" transform="rotate(8.78 129.33 219.59)"/><ellipse cx="131.47" cy="219.12" rx="0.89" ry="0.8" opacity="0.62" transform="rotate(8.78 131.47 219.12)"/><ellipse cx="132.55" cy="220.19" rx="0.87" ry="0.8" opacity="0.79" transform="rotate(8.78 132.55 220.19)"/><ellipse cx="134.09" cy="219.64" rx="1.18" ry="0.59" opacity="0.43" transform="rotate(8.78 134.09 219.64)"/><ellipse cx="135.37" cy="219.71" rx="0.73" ry="0.68" opacity="0.73" transform="rotate(8.78 135.37 219.71)"/><ellipse cx="136.94" cy="220.72" rx="1.29" ry="0.6" opacity="0.45" transform="rotate(8.78 136.94 220.72)"/><ellipse cx="137.6" cy="220.29" rx="0.73" ry="0.83" opacity="0.41" transform="rotate(8.78 137.6 220.29)"/><ellipse cx="139.09" cy="221.14" rx="0.95" ry="0.7" opacity="0.39" transform="rotate(8.78 139.09 221.14)"/><ellipse cx="140.78" cy="221.2" rx="1.25" ry="0.95" opacity="0.48" transform="rotate(8.78 140.78 221.2)"/><ellipse cx="141.98" cy="221.53" rx="1.01" ry="0.96" opacity="0.63" transform="rotate(8.78 141.98 221.53)"/><ellipse cx="139.4" cy="220.9" rx="3" ry="1.7" opacity="0.18"/><ellipse cx="139.4" cy="220.9" rx="2.3" ry="1.2" opacity="0.46"/><ellipse cx="139.4" cy="220.9" rx="1.8" ry="0.7" opacity="0.83"/><ellipse cx="132.8" cy="219.7" rx="2.6" ry="1.6" opacity="0.18"/><ellipse cx="132.8" cy="219.7" rx="1.9" ry="1.1" opacity="0.38"/><ellipse cx="132.8" cy="219.7" rx="1.4" ry="0.6" opacity="0.68"/><ellipse cx="140.2" cy="224.2" rx="3" ry="1.5" opacity="0.17"/><ellipse cx="140.2" cy="224.2" rx="2.2" ry="0.8" opacity="0.38"/><ellipse cx="138.49" cy="223.86" rx="1.09" ry="0.53" opacity="0.68"/><ellipse cx="140.27" cy="224.5" rx="1.19" ry="0.46" opacity="0.48"/><ellipse cx="141.35" cy="223.98" rx="1.11" ry="0.56" opacity="0.54"/><ellipse cx="140.2" cy="227.1" rx="2" ry="1.8" opacity="0.18"/><ellipse cx="140.2" cy="227.1" rx="1.3" ry="1.3" opacity="0.29"/><ellipse cx="140.2" cy="227.1" rx="0.8" ry="0.8" opacity="0.52"/><ellipse cx="140.2" cy="229.5" rx="1.9" ry="1.6" opacity="0.18"/><ellipse cx="140.2" cy="229.5" rx="1.2" ry="1.1" opacity="0.26"/><ellipse cx="140.2" cy="229.5" rx="0.7" ry="0.6" opacity="0.46"/><ellipse cx="131.3" cy="229.7" rx="4.4" ry="1.8" opacity="0.17" transform="rotate(13.63 131.3 229.7)"/><ellipse cx="131.3" cy="229.7" rx="3.6" ry="1.1" opacity="0.46" transform="rotate(13.63 131.3 229.7)"/><ellipse cx="128.5" cy="229" rx="1.18" ry="0.61" opacity="0.86" transform="rotate(13.63 128.5 229)"/><ellipse cx="129.6" cy="229.34" rx="0.95" ry="0.75" opacity="0.79" transform="rotate(13.63 129.6 229.34)"/><ellipse cx="131.71" cy="229.31" rx="1.04" ry="0.64" opacity="0.63" transform="rotate(13.63 131.71 229.31)"/><ellipse cx="132.57" cy="230.39" rx="0.76" ry="0.68" opacity="0.57" transform="rotate(13.63 132.57 230.39)"/><ellipse cx="134.19" cy="230.8" rx="1.09" ry="0.52" opacity="0.84" transform="rotate(13.63 134.19 230.8)"/><ellipse cx="131.6" cy="240.8" rx="4.67" ry="1.7" opacity="0.17" transform="rotate(11 131.6 240.8)"/><ellipse cx="131.6" cy="240.8" rx="3.87" ry="1" opacity="0.46" transform="rotate(11 131.6 240.8)"/><ellipse cx="128.37" cy="240.48" rx="0.89" ry="0.49" opacity="0.86" transform="rotate(11 128.37 240.48)"/><ellipse cx="130.43" cy="240.5" rx="0.87" ry="0.45" opacity="0.51" transform="rotate(11 130.43 240.5)"/><ellipse cx="131.76" cy="240.64" rx="0.82" ry="0.43" opacity="0.65" transform="rotate(11 131.76 240.64)"/><ellipse cx="133.45" cy="241.24" rx="1.19" ry="0.41" opacity="0.52" transform="rotate(11 133.45 241.24)"/><ellipse cx="134.62" cy="241.23" rx="0.99" ry="0.49" opacity="0.66" transform="rotate(11 134.62 241.23)"/><ellipse cx="146.1" cy="236.2" rx="4.68" ry="1.6" opacity="0.17" transform="rotate(42.8 146.1 236.2)"/><ellipse cx="146.1" cy="236.2" rx="3.88" ry="0.9" opacity="0.29" transform="rotate(42.8 146.1 236.2)"/><ellipse cx="143.49" cy="234.29" rx="0.79" ry="0.61" opacity="0.3" transform="rotate(42.8 143.49 234.29)"/><ellipse cx="145.44" cy="235.61" rx="0.79" ry="0.38" opacity="0.48" transform="rotate(42.8 145.44 235.61)"/><ellipse cx="145.7" cy="236.26" rx="1.22" ry="0.37" opacity="0.55" transform="rotate(42.8 145.7 236.26)"/><ellipse cx="147.13" cy="236.91" rx="0.93" ry="0.64" opacity="0.33" transform="rotate(42.8 147.13 236.91)"/><ellipse cx="147.81" cy="237.68" rx="0.91" ry="0.62" opacity="0.27" transform="rotate(42.8 147.81 237.68)"/><ellipse cx="154.35" cy="238.1" rx="5.53" ry="1.4" opacity="0.17" transform="rotate(52.62 154.35 238.1)"/><ellipse cx="154.35" cy="238.1" rx="4.73" ry="0.7" opacity="0.19" transform="rotate(52.62 154.35 238.1)"/><ellipse cx="152.15" cy="235.18" rx="1.29" ry="0.32" opacity="0.23" transform="rotate(52.62 152.15 235.18)"/><ellipse cx="153.21" cy="236.75" rx="0.89" ry="0.27" opacity="0.23" transform="rotate(52.62 153.21 236.75)"/><ellipse cx="154.2" cy="237.72" rx="0.98" ry="0.38" opacity="0.25" transform="rotate(52.62 154.2 237.72)"/><ellipse cx="155.03" cy="238.55" rx="1.06" ry="0.47" opacity="0.34" transform="rotate(52.62 155.03 238.55)"/><ellipse cx="155.83" cy="239.87" rx="0.8" ry="0.33" opacity="0.2" transform="rotate(52.62 155.83 239.87)"/><ellipse cx="156.68" cy="240.72" rx="1.22" ry="0.29" opacity="0.16" transform="rotate(52.62 156.68 240.72)"/><path d="M154.4 235.7L158.4 238.7" stroke="#fff" stroke-width="1.5" stroke-linecap="round" opacity="0.13" fill="none"/><path d="M154.4 235.7L158.4 238.7" stroke="#fff" stroke-width="0.7" stroke-linecap="round" opacity="0.3" fill="none"/><path d="M153.4 240.9L158.4 243.7" stroke="#fff" stroke-width="1.5" stroke-linecap="round" opacity="0.13" fill="none"/><path d="M153.4 240.9L158.4 243.7" stroke="#fff" stroke-width="0.7" stroke-linecap="round" opacity="0.3" fill="none"/><ellipse cx="157.72" cy="228.59" rx="1" ry="0.61" opacity="0.21"/><ellipse cx="156.06" cy="215.97" rx="0.77" ry="0.53" opacity="0.15"/><ellipse cx="153.41" cy="220.12" rx="0.75" ry="0.51" opacity="0.18"/><ellipse cx="149.54" cy="225.12" rx="0.99" ry="0.68" opacity="0.28"/><ellipse cx="157.16" cy="219.46" rx="0.99" ry="0.48" opacity="0.14"/><ellipse cx="151.81" cy="227.48" rx="0.67" ry="0.59" opacity="0.17"/><ellipse cx="159.27" cy="222.45" rx="0.74" ry="0.56" opacity="0.28"/><ellipse cx="159.58" cy="223.81" rx="0.72" ry="0.59" opacity="0.13"/><ellipse cx="150.61" cy="229.55" rx="0.89" ry="0.42" opacity="0.27"/><ellipse cx="149.94" cy="231.96" rx="0.68" ry="0.46" opacity="0.22"/><path d="M181.7 218.93C182.2 218.87 183.7 218.62 184.7 218.56C185.7 218.5 186.7 218.6 187.7 218.57C188.7 218.54 189.7 218.45 190.7 218.38C191.7 218.31 192.7 218.21 193.7 218.17C194.7 218.13 195.7 218.13 196.7 218.15C197.7 218.17 198.7 218.26 199.7 218.3C200.7 218.34 201.7 218.34 202.7 218.38C203.7 218.42 204.7 218.46 205.7 218.54C206.7 218.61 208.2 218.79 208.7 218.84" stroke="#fff" stroke-width="1" stroke-linecap="round" opacity="0.47" fill="none"/><path d="M184.7 218.56L187.7 218.57" stroke="#fff" stroke-width="0.9" stroke-linecap="round" opacity="0.21" fill="none"/><path d="M187.7 218.57L190.7 218.38" stroke="#fff" stroke-width="0.9" stroke-linecap="round" opacity="0.28" fill="none"/><path d="M190.7 218.38L193.7 218.17" stroke="#fff" stroke-width="0.9" stroke-linecap="round" opacity="0.21" fill="none"/><path d="M193.7 218.17L196.7 218.15" stroke="#fff" stroke-width="0.9" stroke-linecap="round" opacity="0.27" fill="none"/><path d="M196.7 218.15L199.7 218.3" stroke="#fff" stroke-width="0.9" stroke-linecap="round" opacity="0.18" fill="none"/><path d="M199.7 218.3L202.7 218.38" stroke="#fff" stroke-width="0.9" stroke-linecap="round" opacity="0.44" fill="none"/><path d="M202.7 218.38L205.7 218.54" stroke="#fff" stroke-width="0.9" stroke-linecap="round" opacity="0.39" fill="none"/><path d="M181.7 225.92C182.2 225.89 183.7 225.84 184.7 225.75C185.7 225.67 186.7 225.46 187.7 225.4C188.7 225.33 189.7 225.42 190.7 225.37C191.7 225.31 192.7 225.07 193.7 225.08C194.7 225.08 195.7 225.35 196.7 225.38C197.7 225.41 198.7 225.24 199.7 225.25C200.7 225.25 201.7 225.33 202.7 225.41C203.7 225.49 204.7 225.7 205.7 225.74C206.7 225.79 208.2 225.7 208.7 225.69" stroke="#fff" stroke-width="1" stroke-linecap="round" opacity="0.47" fill="none"/><path d="M181.7 225.92L184.7 225.75" stroke="#fff" stroke-width="0.9" stroke-linecap="round" opacity="0.42" fill="none"/><path d="M184.7 225.75L187.7 225.4" stroke="#fff" stroke-width="0.9" stroke-linecap="round" opacity="0.2" fill="none"/><path d="M187.7 225.4L190.7 225.37" stroke="#fff" stroke-width="0.9" stroke-linecap="round" opacity="0.27" fill="none"/><path d="M190.7 225.37L193.7 225.08" stroke="#fff" stroke-width="0.9" stroke-linecap="round" opacity="0.42" fill="none"/><path d="M193.7 225.08L196.7 225.38" stroke="#fff" stroke-width="0.9" stroke-linecap="round" opacity="0.25" fill="none"/><path d="M196.7 225.38L199.7 225.25" stroke="#fff" stroke-width="0.9" stroke-linecap="round" opacity="0.32" fill="none"/><path d="M199.7 225.25L202.7 225.41" stroke="#fff" stroke-width="0.9" stroke-linecap="round" opacity="0.36" fill="none"/><path d="M202.7 225.41L205.7 225.74" stroke="#fff" stroke-width="0.9" stroke-linecap="round" opacity="0.3" fill="none"/><path d="M205.7 225.74L208.7 225.69" stroke="#fff" stroke-width="0.9" stroke-linecap="round" opacity="0.46" fill="none"/><path d="M181.7 232.86C182.2 232.78 183.7 232.5 184.7 232.42C185.7 232.35 186.7 232.4 187.7 232.4C188.7 232.39 189.7 232.39 190.7 232.4C191.7 232.4 192.7 232.48 193.7 232.43C194.7 232.37 195.7 232.11 196.7 232.05C197.7 232 198.7 232.04 199.7 232.1C200.7 232.16 201.7 232.34 202.7 232.41C203.7 232.49 204.7 232.47 205.7 232.56C206.7 232.64 208.2 232.87 208.7 232.94" stroke="#fff" stroke-width="1" stroke-linecap="round" opacity="0.47" fill="none"/><path d="M184.7 232.42L187.7 232.4" stroke="#fff" stroke-width="0.9" stroke-linecap="round" opacity="0.29" fill="none"/><path d="M187.7 232.4L190.7 232.4" stroke="#fff" stroke-width="0.9" stroke-linecap="round" opacity="0.43" fill="none"/><path d="M190.7 232.4L193.7 232.43" stroke="#fff" stroke-width="0.9" stroke-linecap="round" opacity="0.29" fill="none"/><path d="M193.7 232.43L196.7 232.05" stroke="#fff" stroke-width="0.9" stroke-linecap="round" opacity="0.36" fill="none"/><path d="M196.7 232.05L199.7 232.1" stroke="#fff" stroke-width="0.9" stroke-linecap="round" opacity="0.45" fill="none"/><path d="M199.7 232.1L202.7 232.41" stroke="#fff" stroke-width="0.9" stroke-linecap="round" opacity="0.34" fill="none"/><path d="M202.7 232.41L205.7 232.56" stroke="#fff" stroke-width="0.9" stroke-linecap="round" opacity="0.24" fill="none"/><path d="M205.7 232.56L208.7 232.94" stroke="#fff" stroke-width="0.9" stroke-linecap="round" opacity="0.43" fill="none"/><path d="M181.7 238.8C182.2 238.75 183.7 238.53 184.7 238.5C185.7 238.47 186.7 238.64 187.7 238.61C188.7 238.59 189.7 238.42 190.7 238.36C191.7 238.3 192.7 238.28 193.7 238.24C194.7 238.2 195.7 238.11 196.7 238.11C197.7 238.11 198.7 238.14 199.7 238.21C200.7 238.29 201.7 238.54 202.7 238.58C203.7 238.62 204.7 238.41 205.7 238.44C206.7 238.48 208.2 238.73 208.7 238.79" stroke="#fff" stroke-width="1" stroke-linecap="round" opacity="0.47" fill="none"/><path d="M181.7 238.8L184.7 238.5" stroke="#fff" stroke-width="0.9" stroke-linecap="round" opacity="0.28" fill="none"/><path d="M193.7 238.24L196.7 238.11" stroke="#fff" stroke-width="0.9" stroke-linecap="round" opacity="0.23" fill="none"/><path d="M196.7 238.11L199.7 238.21" stroke="#fff" stroke-width="0.9" stroke-linecap="round" opacity="0.3" fill="none"/><path d="M199.7 238.21L202.7 238.58" stroke="#fff" stroke-width="0.9" stroke-linecap="round" opacity="0.23" fill="none"/><path d="M205.7 238.44L208.7 238.79" stroke="#fff" stroke-width="0.9" stroke-linecap="round" opacity="0.41" fill="none"/><path d="M181.7 244.96C182.2 244.87 183.7 244.5 184.7 244.44C185.7 244.37 186.7 244.62 187.7 244.59C188.7 244.56 189.7 244.33 190.7 244.25C191.7 244.18 192.7 244.14 193.7 244.11C194.7 244.09 195.7 244.1 196.7 244.1C197.7 244.1 198.7 244.06 199.7 244.11C200.7 244.16 201.7 244.35 202.7 244.42C203.7 244.49 204.7 244.46 205.7 244.54C206.7 244.63 208.2 244.86 208.7 244.92" stroke="#fff" stroke-width="1" stroke-linecap="round" opacity="0.47" fill="none"/><path d="M184.7 244.44L187.7 244.59" stroke="#fff" stroke-width="0.9" stroke-linecap="round" opacity="0.29" fill="none"/><path d="M187.7 244.59L190.7 244.25" stroke="#fff" stroke-width="0.9" stroke-linecap="round" opacity="0.22" fill="none"/><path d="M190.7 244.25L193.7 244.11" stroke="#fff" stroke-width="0.9" stroke-linecap="round" opacity="0.25" fill="none"/><path d="M193.7 244.11L196.7 244.1" stroke="#fff" stroke-width="0.9" stroke-linecap="round" opacity="0.27" fill="none"/><path d="M196.7 244.1L199.7 244.11" stroke="#fff" stroke-width="0.9" stroke-linecap="round" opacity="0.24" fill="none"/><path d="M199.7 244.11L202.7 244.42" stroke="#fff" stroke-width="0.9" stroke-linecap="round" opacity="0.34" fill="none"/><path d="M202.7 244.42L205.7 244.54" stroke="#fff" stroke-width="0.9" stroke-linecap="round" opacity="0.38" fill="none"/><path d="M205.7 244.54L208.7 244.92" stroke="#fff" stroke-width="0.9" stroke-linecap="round" opacity="0.37" fill="none"/><path d="M181.7 212.8C182.37 212.77 185.03 212.63 185.7 212.6" stroke="#fff" stroke-width="1" stroke-linecap="round" opacity="0.22" fill="none"/><path d="M202.7 212.7C203.53 212.72 206.87 212.78 207.7 212.8" stroke="#fff" stroke-width="1" stroke-linecap="round" opacity="0.22" fill="none"/><path d="M204.1 220.1L204.1 225.1" stroke="#fff" stroke-width="1.5" stroke-linecap="round" opacity="0.13" fill="none"/><path d="M204.1 220.1L204.1 225.1" stroke="#fff" stroke-width="0.7" stroke-linecap="round" opacity="0.3" fill="none"/></g></g></g>
<text x="244.9" y="13.9" font-size="18.6" font-weight="bold" fill="#231f20">C</text>
<text x="348" y="26.8" font-size="12.4" font-weight="bold" text-anchor="middle" fill="#231f20">Bird A</text>
<text x="348" y="88" font-size="12.4" font-weight="bold" text-anchor="middle" fill="#231f20">Bird B</text>
<text x="348" y="147.9" font-size="12.4" font-weight="bold" text-anchor="middle" fill="#231f20">Bird C</text>
<text x="348" y="208.3" font-size="12.4" font-weight="bold" text-anchor="middle" fill="#231f20">Bird D</text>
<text x="252.6" y="45" font-size="12.4" text-anchor="end" fill="#231f20">7</text>
<text x="251.8" y="57.1" font-size="12.6" text-anchor="end" fill="#231f20">kHz</text>
<text x="252.6" y="72.2" font-size="12.4" text-anchor="end" fill="#231f20">1</text>
<rect x="255.3" y="70.1" width="13.7" height="4.6" fill="#22a949"/><rect x="272.1" y="70.1" width="26.7" height="4.6" fill="#22a949"/><rect x="301.2" y="70.1" width="9.8" height="4.6" fill="#22a949"/><rect x="316.3" y="70.1" width="26.3" height="4.6" fill="#22a949"/><rect x="345.2" y="70.1" width="10.6" height="4.6" fill="#22a949"/><rect x="359.4" y="70.1" width="25.4" height="4.6" fill="#22a949"/><rect x="388" y="70.1" width="11.4" height="4.6" fill="#22a949"/><rect x="403.8" y="70.1" width="26.2" height="4.6" fill="#22a949"/><rect x="433" y="70.1" width="10.8" height="4.6" fill="#22a949"/>
<rect x="258.4" y="129.5" width="35.4" height="4.6" fill="#22a949"/><rect x="297" y="129.5" width="36.2" height="4.6" fill="#22a949"/><rect x="347" y="129.5" width="18.9" height="4.6" fill="#22a949"/>
<rect x="253.8" y="189" width="54.1" height="4.9" fill="#f15f2c"/><rect x="319" y="189" width="31.5" height="4.9" fill="#f15f2c"/><rect x="362.1" y="189" width="40" height="4.9" fill="#f15f2c"/><rect x="411.6" y="189" width="30.5" height="4.9" fill="#f15f2c"/>
<rect x="254.8" y="249" width="41.1" height="4.8" fill="#f15f2c"/><rect x="308.5" y="249" width="46.7" height="4.8" fill="#f15f2c"/><rect x="362.1" y="249" width="24.2" height="4.8" fill="#f15f2c"/>
<rect x="392.6" y="248.5" width="36.4" height="4.7" fill="#f15f2c"/>
<line x1="428" y1="91.2" x2="447" y2="91.2" stroke="#231f20" stroke-width="1.1"/>
<text x="446.3" y="88" font-size="12.4" text-anchor="end" fill="#231f20">100 ms</text>
<clipPath id="c2577"><rect x="254.2" y="35.2" width="193.6" height="32.7"/></clipPath><g clip-path="url(#c2577)"><g filter="url(#jets)"><rect x="251.2" y="32.2" width="199.6" height="38.7" fill="#000"/><g fill="#fff"><ellipse cx="260.8" cy="41.2" rx="5.6" ry="2.8" opacity="0.13" transform="rotate(32 260.8 41.2)"/><ellipse cx="259.5" cy="39.8" rx="2.6" ry="1.6" opacity="0.16" transform="rotate(30 259.5 39.8)"/><ellipse cx="258.9" cy="39.5" rx="1.6" ry="1" opacity="0.2" transform="rotate(30 258.9 39.5)"/><ellipse cx="258.9" cy="39.5" rx="1" ry="0.6" opacity="0.22" transform="rotate(30 258.9 39.5)"/><ellipse cx="261.5" cy="41.2" rx="1.2" ry="0.7" opacity="0.2" transform="rotate(30 261.5 41.2)"/><ellipse cx="264.9" cy="43.8" rx="1.8" ry="1" opacity="0.2" transform="rotate(30 264.9 43.8)"/><ellipse cx="259" cy="48.4" rx="1.6" ry="1.8" opacity="0.22"/><ellipse cx="262.7" cy="48.6" rx="1.4" ry="2" opacity="0.2"/><ellipse cx="266.3" cy="49.1" rx="1.2" ry="3" opacity="0.24"/><ellipse cx="266.9" cy="55.2" rx="1" ry="1.2" opacity="0.1"/><ellipse cx="279.6" cy="49.2" rx="6" ry="13" opacity="0.11"/><ellipse cx="283.1" cy="52.2" rx="6.5" ry="9" opacity="0.08" transform="rotate(35 283.1 52.2)"/><ellipse cx="278.1" cy="44.2" rx="3.6" ry="3.4" opacity="0.08"/><ellipse cx="276.8" cy="50.8" rx="3.31" ry="1.4" opacity="0.17" transform="rotate(-4.97 276.8 50.8)"/><ellipse cx="276.8" cy="50.8" rx="2.51" ry="0.7" opacity="0.25" transform="rotate(-4.97 276.8 50.8)"/><ellipse cx="275.52" cy="51.1" rx="1.27" ry="0.43" opacity="0.46" transform="rotate(-4.97 275.52 51.1)"/><ellipse cx="276.35" cy="51.1" rx="1.09" ry="0.46" opacity="0.24" transform="rotate(-4.97 276.35 51.1)"/><ellipse cx="278.15" cy="50.7" rx="1.04" ry="0.27" opacity="0.27" transform="rotate(-4.97 278.15 50.7)"/><ellipse cx="276.5" cy="50.8" rx="2.4" ry="1.3" opacity="0.18"/><ellipse cx="276.5" cy="50.8" rx="1.7" ry="0.8" opacity="0.34"/><ellipse cx="276.5" cy="50.8" rx="1.2" ry="0.4" opacity="0.6"/><ellipse cx="277.1" cy="58.2" rx="4.01" ry="1.3" opacity="0.17" transform="rotate(-3.81 277.1 58.2)"/><ellipse cx="277.1" cy="58.2" rx="3.21" ry="0.6" opacity="0.13" transform="rotate(-3.81 277.1 58.2)"/><ellipse cx="274.9" cy="58.5" rx="0.8" ry="0.44" opacity="0.12" transform="rotate(-3.81 274.9 58.5)"/><ellipse cx="276.23" cy="57.99" rx="1.22" ry="0.31" opacity="0.13" transform="rotate(-3.81 276.23 57.99)"/><ellipse cx="278.51" cy="58.02" rx="1.28" ry="0.38" opacity="0.2" transform="rotate(-3.81 278.51 58.02)"/><ellipse cx="279.35" cy="58.16" rx="1.28" ry="0.46" opacity="0.15" transform="rotate(-3.81 279.35 58.16)"/><ellipse cx="277.1" cy="42.8" rx="2.6" ry="1" opacity="0.16"/><ellipse cx="278.9" cy="46.6" rx="2.4" ry="1" opacity="0.14"/><ellipse cx="281.1" cy="53.6" rx="2.4" ry="1.2" opacity="0.13"/><ellipse cx="280.1" cy="48.8" rx="2" ry="1" opacity="0.13"/><path d="M273.1 67.6C273.7 67.33 275.37 66.03 276.7 66C278.03 65.97 280.37 67.17 281.1 67.4" stroke="#fff" stroke-width="1" stroke-linecap="round" opacity="0.3" fill="none"/><ellipse cx="276.7" cy="36.4" rx="3" ry="1.3" opacity="0.17"/><ellipse cx="276.7" cy="36.4" rx="2.2" ry="0.6" opacity="0.13"/><ellipse cx="275.06" cy="36.22" rx="0.74" ry="0.33" opacity="0.2"/><ellipse cx="276.41" cy="36.32" rx="0.89" ry="0.44" opacity="0.18"/><ellipse cx="277.87" cy="36.5" rx="0.73" ry="0.47" opacity="0.12"/><path d="M284.6 43.7L297.6 42.3" stroke="#fff" stroke-width="0.9" stroke-linecap="round" opacity="0.3" fill="none"/><path d="M287.1 43.4L293.1 42.8" stroke="#fff" stroke-width="0.8" stroke-linecap="round" opacity="0.12" fill="none"/><path d="M284.6 48.4L297.6 47" stroke="#fff" stroke-width="0.9" stroke-linecap="round" opacity="0.34" fill="none"/><path d="M287.1 48.1L293.1 47.5" stroke="#fff" stroke-width="0.8" stroke-linecap="round" opacity="0.14" fill="none"/><path d="M284.6 51.7L297.6 50.3" stroke="#fff" stroke-width="0.9" stroke-linecap="round" opacity="0.42" fill="none"/><path d="M287.1 51.4L293.1 50.8" stroke="#fff" stroke-width="0.8" stroke-linecap="round" opacity="0.17" fill="none"/><path d="M284.6 55.4L297.6 54" stroke="#fff" stroke-width="0.9" stroke-linecap="round" opacity="0.36" fill="none"/><path d="M287.1 55.1L293.1 54.5" stroke="#fff" stroke-width="0.8" stroke-linecap="round" opacity="0.14" fill="none"/><path d="M284.6 58.9L297.6 57.5" stroke="#fff" stroke-width="0.9" stroke-linecap="round" opacity="0.34" fill="none"/><path d="M287.1 58.6L293.1 58" stroke="#fff" stroke-width="0.8" stroke-linecap="round" opacity="0.14" fill="none"/><path d="M284.6 62L297.6 60.6" stroke="#fff" stroke-width="0.9" stroke-linecap="round" opacity="0.3" fill="none"/><path d="M287.1 61.7L293.1 61.1" stroke="#fff" stroke-width="0.8" stroke-linecap="round" opacity="0.12" fill="none"/><path d="M277.1 41.2L284.1 59.2" stroke="#fff" stroke-width="0.8" stroke-linecap="round" opacity="0.12" fill="none"/><path d="M278.7 43.2L285.7 60.8" stroke="#fff" stroke-width="0.8" stroke-linecap="round" opacity="0.12" fill="none"/><path d="M280.3 45.2L287.3 62.4" stroke="#fff" stroke-width="0.8" stroke-linecap="round" opacity="0.12" fill="none"/><path d="M281.9 47.2L288.9 64" stroke="#fff" stroke-width="0.8" stroke-linecap="round" opacity="0.12" fill="none"/><path d="M283.5 49.2L290.5 65.6" stroke="#fff" stroke-width="0.8" stroke-linecap="round" opacity="0.12" fill="none"/><path d="M282.1 65.2L296.1 66.6" stroke="#fff" stroke-width="0.8" stroke-linecap="round" opacity="0.28" fill="none"/><ellipse cx="284.6" cy="60.86" rx="0.62" ry="0.79" opacity="0.09"/><ellipse cx="282.2" cy="37.45" rx="0.65" ry="0.49" opacity="0.15"/><ellipse cx="276.85" cy="58.36" rx="1.53" ry="0.87" opacity="0.09"/><ellipse cx="279.07" cy="51.89" rx="1.38" ry="0.45" opacity="0.13"/><ellipse cx="285.26" cy="61.27" rx="0.64" ry="0.87" opacity="0.07"/><ellipse cx="278.87" cy="54.3" rx="1.52" ry="0.57" opacity="0.14"/><ellipse cx="281.73" cy="45.95" rx="0.92" ry="0.49" opacity="0.07"/><ellipse cx="276.18" cy="56.5" rx="1.6" ry="0.48" opacity="0.06"/><ellipse cx="287.91" cy="52.14" rx="1.01" ry="0.52" opacity="0.11"/><ellipse cx="285.67" cy="49.96" rx="1.02" ry="0.43" opacity="0.14"/><ellipse cx="323.8" cy="49.2" rx="6" ry="13" opacity="0.11"/><ellipse cx="327.3" cy="52.2" rx="6.5" ry="9" opacity="0.08" transform="rotate(35 327.3 52.2)"/><ellipse cx="322.3" cy="44.2" rx="3.6" ry="3.4" opacity="0.08"/><ellipse cx="321" cy="50.8" rx="3.31" ry="1.4" opacity="0.17" transform="rotate(-4.97 321 50.8)"/><ellipse cx="321" cy="50.8" rx="2.51" ry="0.7" opacity="0.25" transform="rotate(-4.97 321 50.8)"/><ellipse cx="319.03" cy="51.17" rx="0.78" ry="0.42" opacity="0.47" transform="rotate(-4.97 319.03 51.17)"/><ellipse cx="321.29" cy="50.55" rx="0.96" ry="0.3" opacity="0.44" transform="rotate(-4.97 321.29 50.55)"/><ellipse cx="322.32" cy="50.98" rx="1.21" ry="0.47" opacity="0.33" transform="rotate(-4.97 322.32 50.98)"/><ellipse cx="320.7" cy="50.8" rx="2.4" ry="1.3" opacity="0.18"/><ellipse cx="320.7" cy="50.8" rx="1.7" ry="0.8" opacity="0.34"/><ellipse cx="320.7" cy="50.8" rx="1.2" ry="0.4" opacity="0.6"/><ellipse cx="321.3" cy="58.2" rx="4.01" ry="1.3" opacity="0.17" transform="rotate(-3.81 321.3 58.2)"/><ellipse cx="321.3" cy="58.2" rx="3.21" ry="0.6" opacity="0.13" transform="rotate(-3.81 321.3 58.2)"/><ellipse cx="319.18" cy="58.34" rx="0.87" ry="0.35" opacity="0.12" transform="rotate(-3.81 319.18 58.34)"/><ellipse cx="320.73" cy="58.49" rx="1.08" ry="0.37" opacity="0.15" transform="rotate(-3.81 320.73 58.49)"/><ellipse cx="321.54" cy="58.32" rx="1.22" ry="0.35" opacity="0.21" transform="rotate(-3.81 321.54 58.32)"/><ellipse cx="323.91" cy="58.12" rx="1.16" ry="0.35" opacity="0.2" transform="rotate(-3.81 323.91 58.12)"/><ellipse cx="321.3" cy="42.8" rx="2.6" ry="1" opacity="0.16"/><ellipse cx="323.1" cy="46.6" rx="2.4" ry="1" opacity="0.14"/><ellipse cx="325.3" cy="53.6" rx="2.4" ry="1.2" opacity="0.13"/><ellipse cx="324.3" cy="48.8" rx="2" ry="1" opacity="0.13"/><path d="M317.3 67.6C317.9 67.33 319.57 66.03 320.9 66C322.23 65.97 324.57 67.17 325.3 67.4" stroke="#fff" stroke-width="1" stroke-linecap="round" opacity="0.3" fill="none"/><ellipse cx="320.9" cy="36.4" rx="3" ry="1.3" opacity="0.17"/><ellipse cx="320.9" cy="36.4" rx="2.2" ry="0.6" opacity="0.13"/><ellipse cx="319.38" cy="36.53" rx="1.11" ry="0.33" opacity="0.25"/><ellipse cx="321.07" cy="36.16" rx="1.03" ry="0.32" opacity="0.21"/><ellipse cx="322.39" cy="36.47" rx="1.18" ry="0.34" opacity="0.2"/><path d="M328.8 43.7L341.8 42.3" stroke="#fff" stroke-width="0.9" stroke-linecap="round" opacity="0.3" fill="none"/><path d="M331.3 43.4L337.3 42.8" stroke="#fff" stroke-width="0.8" stroke-linecap="round" opacity="0.12" fill="none"/><path d="M328.8 48.4L341.8 47" stroke="#fff" stroke-width="0.9" stroke-linecap="round" opacity="0.34" fill="none"/><path d="M331.3 48.1L337.3 47.5" stroke="#fff" stroke-width="0.8" stroke-linecap="round" opacity="0.14" fill="none"/><path d="M328.8 51.7L341.8 50.3" stroke="#fff" stroke-width="0.9" stroke-linecap="round" opacity="0.42" fill="none"/><path d="M331.3 51.4L337.3 50.8" stroke="#fff" stroke-width="0.8" stroke-linecap="round" opacity="0.17" fill="none"/><path d="M328.8 55.4L341.8 54" stroke="#fff" stroke-width="0.9" stroke-linecap="round" opacity="0.36" fill="none"/><path d="M331.3 55.1L337.3 54.5" stroke="#fff" stroke-width="0.8" stroke-linecap="round" opacity="0.14" fill="none"/><path d="M328.8 58.9L341.8 57.5" stroke="#fff" stroke-width="0.9" stroke-linecap="round" opacity="0.34" fill="none"/><path d="M331.3 58.6L337.3 58" stroke="#fff" stroke-width="0.8" stroke-linecap="round" opacity="0.14" fill="none"/><path d="M328.8 62L341.8 60.6" stroke="#fff" stroke-width="0.9" stroke-linecap="round" opacity="0.3" fill="none"/><path d="M331.3 61.7L337.3 61.1" stroke="#fff" stroke-width="0.8" stroke-linecap="round" opacity="0.12" fill="none"/><path d="M321.3 41.2L328.3 59.2" stroke="#fff" stroke-width="0.8" stroke-linecap="round" opacity="0.12" fill="none"/><path d="M322.9 43.2L329.9 60.8" stroke="#fff" stroke-width="0.8" stroke-linecap="round" opacity="0.12" fill="none"/><path d="M324.5 45.2L331.5 62.4" stroke="#fff" stroke-width="0.8" stroke-linecap="round" opacity="0.12" fill="none"/><path d="M326.1 47.2L333.1 64" stroke="#fff" stroke-width="0.8" stroke-linecap="round" opacity="0.12" fill="none"/><path d="M327.7 49.2L334.7 65.6" stroke="#fff" stroke-width="0.8" stroke-linecap="round" opacity="0.12" fill="none"/><path d="M326.3 65.2L340.3 66.6" stroke="#fff" stroke-width="0.8" stroke-linecap="round" opacity="0.28" fill="none"/><ellipse cx="328.63" cy="60.39" rx="0.95" ry="0.82" opacity="0.14"/><ellipse cx="327.94" cy="64.53" rx="1.56" ry="0.66" opacity="0.11"/><ellipse cx="320.63" cy="60.63" rx="1.54" ry="0.64" opacity="0.12"/><ellipse cx="328.38" cy="57.65" rx="0.77" ry="0.79" opacity="0.11"/><ellipse cx="327.62" cy="48.98" rx="1.22" ry="0.79" opacity="0.12"/><ellipse cx="328.39" cy="37.97" rx="0.76" ry="0.62" opacity="0.12"/><ellipse cx="321.37" cy="56.41" rx="1.23" ry="0.42" opacity="0.1"/><ellipse cx="321.47" cy="38.72" rx="0.73" ry="0.56" opacity="0.08"/><ellipse cx="321.01" cy="38.2" rx="1.07" ry="0.59" opacity="0.12"/><ellipse cx="326.56" cy="43.86" rx="1.5" ry="0.4" opacity="0.1"/><ellipse cx="366.9" cy="49.2" rx="6" ry="13" opacity="0.11"/><ellipse cx="370.4" cy="52.2" rx="6.5" ry="9" opacity="0.08" transform="rotate(35 370.4 52.2)"/><ellipse cx="365.4" cy="44.2" rx="3.6" ry="3.4" opacity="0.08"/><ellipse cx="364.1" cy="50.8" rx="3.31" ry="1.4" opacity="0.17" transform="rotate(-4.97 364.1 50.8)"/><ellipse cx="364.1" cy="50.8" rx="2.51" ry="0.7" opacity="0.25" transform="rotate(-4.97 364.1 50.8)"/><ellipse cx="362.31" cy="50.72" rx="1.2" ry="0.35" opacity="0.22" transform="rotate(-4.97 362.31 50.72)"/><ellipse cx="363.96" cy="50.82" rx="0.9" ry="0.39" opacity="0.47" transform="rotate(-4.97 363.96 50.82)"/><ellipse cx="365.88" cy="50.83" rx="1.09" ry="0.35" opacity="0.25" transform="rotate(-4.97 365.88 50.83)"/><ellipse cx="363.8" cy="50.8" rx="2.4" ry="1.3" opacity="0.18"/><ellipse cx="363.8" cy="50.8" rx="1.7" ry="0.8" opacity="0.34"/><ellipse cx="363.8" cy="50.8" rx="1.2" ry="0.4" opacity="0.6"/><ellipse cx="364.4" cy="58.2" rx="4.01" ry="1.3" opacity="0.17" transform="rotate(-3.81 364.4 58.2)"/><ellipse cx="364.4" cy="58.2" rx="3.21" ry="0.6" opacity="0.13" transform="rotate(-3.81 364.4 58.2)"/><ellipse cx="362.27" cy="58.57" rx="1.28" ry="0.4" opacity="0.15" transform="rotate(-3.81 362.27 58.57)"/><ellipse cx="363.7" cy="58.03" rx="1.04" ry="0.4" opacity="0.12" transform="rotate(-3.81 363.7 58.03)"/><ellipse cx="365.5" cy="58.08" rx="0.96" ry="0.32" opacity="0.14" transform="rotate(-3.81 365.5 58.08)"/><ellipse cx="367" cy="58.25" rx="1.25" ry="0.4" opacity="0.14" transform="rotate(-3.81 367 58.25)"/><ellipse cx="364.4" cy="42.8" rx="2.6" ry="1" opacity="0.16"/><ellipse cx="366.2" cy="46.6" rx="2.4" ry="1" opacity="0.14"/><ellipse cx="368.4" cy="53.6" rx="2.4" ry="1.2" opacity="0.13"/><ellipse cx="367.4" cy="48.8" rx="2" ry="1" opacity="0.13"/><path d="M360.4 67.6C361 67.33 362.67 66.03 364 66C365.33 65.97 367.67 67.17 368.4 67.4" stroke="#fff" stroke-width="1" stroke-linecap="round" opacity="0.3" fill="none"/><ellipse cx="364" cy="36.4" rx="3" ry="1.3" opacity="0.17"/><ellipse cx="364" cy="36.4" rx="2.2" ry="0.6" opacity="0.13"/><ellipse cx="363.05" cy="36.36" rx="0.89" ry="0.48" opacity="0.18"/><ellipse cx="363.82" cy="36.21" rx="1.07" ry="0.36" opacity="0.15"/><ellipse cx="365.75" cy="36.16" rx="1.02" ry="0.33" opacity="0.25"/><path d="M371.9 43.7L384.9 42.3" stroke="#fff" stroke-width="0.9" stroke-linecap="round" opacity="0.3" fill="none"/><path d="M374.4 43.4L380.4 42.8" stroke="#fff" stroke-width="0.8" stroke-linecap="round" opacity="0.12" fill="none"/><path d="M371.9 48.4L384.9 47" stroke="#fff" stroke-width="0.9" stroke-linecap="round" opacity="0.34" fill="none"/><path d="M374.4 48.1L380.4 47.5" stroke="#fff" stroke-width="0.8" stroke-linecap="round" opacity="0.14" fill="none"/><path d="M371.9 51.7L384.9 50.3" stroke="#fff" stroke-width="0.9" stroke-linecap="round" opacity="0.42" fill="none"/><path d="M374.4 51.4L380.4 50.8" stroke="#fff" stroke-width="0.8" stroke-linecap="round" opacity="0.17" fill="none"/><path d="M371.9 55.4L384.9 54" stroke="#fff" stroke-width="0.9" stroke-linecap="round" opacity="0.36" fill="none"/><path d="M374.4 55.1L380.4 54.5" stroke="#fff" stroke-width="0.8" stroke-linecap="round" opacity="0.14" fill="none"/><path d="M371.9 58.9L384.9 57.5" stroke="#fff" stroke-width="0.9" stroke-linecap="round" opacity="0.34" fill="none"/><path d="M374.4 58.6L380.4 58" stroke="#fff" stroke-width="0.8" stroke-linecap="round" opacity="0.14" fill="none"/><path d="M371.9 62L384.9 60.6" stroke="#fff" stroke-width="0.9" stroke-linecap="round" opacity="0.3" fill="none"/><path d="M374.4 61.7L380.4 61.1" stroke="#fff" stroke-width="0.8" stroke-linecap="round" opacity="0.12" fill="none"/><path d="M364.4 41.2L371.4 59.2" stroke="#fff" stroke-width="0.8" stroke-linecap="round" opacity="0.12" fill="none"/><path d="M366 43.2L373 60.8" stroke="#fff" stroke-width="0.8" stroke-linecap="round" opacity="0.12" fill="none"/><path d="M367.6 45.2L374.6 62.4" stroke="#fff" stroke-width="0.8" stroke-linecap="round" opacity="0.12" fill="none"/><path d="M369.2 47.2L376.2 64" stroke="#fff" stroke-width="0.8" stroke-linecap="round" opacity="0.12" fill="none"/><path d="M370.8 49.2L377.8 65.6" stroke="#fff" stroke-width="0.8" stroke-linecap="round" opacity="0.12" fill="none"/><path d="M369.4 65.2L383.4 66.6" stroke="#fff" stroke-width="0.8" stroke-linecap="round" opacity="0.28" fill="none"/><ellipse cx="372.35" cy="44.08" rx="0.87" ry="0.48" opacity="0.15"/><ellipse cx="365.5" cy="54.23" rx="1.07" ry="0.72" opacity="0.11"/><ellipse cx="371.81" cy="40.51" rx="1.36" ry="0.55" opacity="0.11"/><ellipse cx="366.11" cy="45.51" rx="1.13" ry="0.63" opacity="0.09"/><ellipse cx="371.83" cy="53.74" rx="0.64" ry="0.53" opacity="0.1"/><ellipse cx="374.23" cy="62.06" rx="1.15" ry="0.41" opacity="0.13"/><ellipse cx="367.39" cy="53.32" rx="1.31" ry="0.72" opacity="0.1"/><ellipse cx="374.16" cy="47.99" rx="0.99" ry="0.83" opacity="0.08"/><ellipse cx="365.55" cy="60.44" rx="0.67" ry="0.82" opacity="0.12"/><ellipse cx="367.46" cy="45.22" rx="1.38" ry="0.86" opacity="0.07"/><ellipse cx="411.3" cy="49.2" rx="6" ry="13" opacity="0.11"/><ellipse cx="414.8" cy="52.2" rx="6.5" ry="9" opacity="0.08" transform="rotate(35 414.8 52.2)"/><ellipse cx="409.8" cy="44.2" rx="3.6" ry="3.4" opacity="0.08"/><ellipse cx="408.5" cy="50.8" rx="3.31" ry="1.4" opacity="0.17" transform="rotate(-4.97 408.5 50.8)"/><ellipse cx="408.5" cy="50.8" rx="2.51" ry="0.7" opacity="0.25" transform="rotate(-4.97 408.5 50.8)"/><ellipse cx="406.98" cy="50.93" rx="0.9" ry="0.3" opacity="0.37" transform="rotate(-4.97 406.98 50.93)"/><ellipse cx="408.53" cy="50.61" rx="1.19" ry="0.44" opacity="0.39" transform="rotate(-4.97 408.53 50.61)"/><ellipse cx="409.73" cy="50.99" rx="1.3" ry="0.42" opacity="0.22" transform="rotate(-4.97 409.73 50.99)"/><ellipse cx="408.2" cy="50.8" rx="2.4" ry="1.3" opacity="0.18"/><ellipse cx="408.2" cy="50.8" rx="1.7" ry="0.8" opacity="0.34"/><ellipse cx="408.2" cy="50.8" rx="1.2" ry="0.4" opacity="0.6"/><ellipse cx="408.8" cy="58.2" rx="4.01" ry="1.3" opacity="0.17" transform="rotate(-3.81 408.8 58.2)"/><ellipse cx="408.8" cy="58.2" rx="3.21" ry="0.6" opacity="0.13" transform="rotate(-3.81 408.8 58.2)"/><ellipse cx="406.69" cy="58.4" rx="1.27" ry="0.42" opacity="0.12" transform="rotate(-3.81 406.69 58.4)"/><ellipse cx="408.11" cy="58.09" rx="1.07" ry="0.36" opacity="0.13" transform="rotate(-3.81 408.11 58.09)"/><ellipse cx="409.39" cy="57.95" rx="0.93" ry="0.29" opacity="0.11" transform="rotate(-3.81 409.39 57.95)"/><ellipse cx="411.26" cy="58.23" rx="0.78" ry="0.36" opacity="0.15" transform="rotate(-3.81 411.26 58.23)"/><ellipse cx="408.8" cy="42.8" rx="2.6" ry="1" opacity="0.16"/><ellipse cx="410.6" cy="46.6" rx="2.4" ry="1" opacity="0.14"/><ellipse cx="412.8" cy="53.6" rx="2.4" ry="1.2" opacity="0.13"/><ellipse cx="411.8" cy="48.8" rx="2" ry="1" opacity="0.13"/><path d="M404.8 67.6C405.4 67.33 407.07 66.03 408.4 66C409.73 65.97 412.07 67.17 412.8 67.4" stroke="#fff" stroke-width="1" stroke-linecap="round" opacity="0.3" fill="none"/><ellipse cx="408.4" cy="36.4" rx="3" ry="1.3" opacity="0.17"/><ellipse cx="408.4" cy="36.4" rx="2.2" ry="0.6" opacity="0.13"/><ellipse cx="407.14" cy="36.62" rx="0.92" ry="0.28" opacity="0.21"/><ellipse cx="408.2" cy="36.4" rx="1.25" ry="0.39" opacity="0.2"/><ellipse cx="409.57" cy="36.28" rx="1.15" ry="0.38" opacity="0.13"/><path d="M416.3 43.7L429.3 42.3" stroke="#fff" stroke-width="0.9" stroke-linecap="round" opacity="0.3" fill="none"/><path d="M418.8 43.4L424.8 42.8" stroke="#fff" stroke-width="0.8" stroke-linecap="round" opacity="0.12" fill="none"/><path d="M416.3 48.4L429.3 47" stroke="#fff" stroke-width="0.9" stroke-linecap="round" opacity="0.34" fill="none"/><path d="M418.8 48.1L424.8 47.5" stroke="#fff" stroke-width="0.8" stroke-linecap="round" opacity="0.14" fill="none"/><path d="M416.3 51.7L429.3 50.3" stroke="#fff" stroke-width="0.9" stroke-linecap="round" opacity="0.42" fill="none"/><path d="M418.8 51.4L424.8 50.8" stroke="#fff" stroke-width="0.8" stroke-linecap="round" opacity="0.17" fill="none"/><path d="M416.3 55.4L429.3 54" stroke="#fff" stroke-width="0.9" stroke-linecap="round" opacity="0.36" fill="none"/><path d="M418.8 55.1L424.8 54.5" stroke="#fff" stroke-width="0.8" stroke-linecap="round" opacity="0.14" fill="none"/><path d="M416.3 58.9L429.3 57.5" stroke="#fff" stroke-width="0.9" stroke-linecap="round" opacity="0.34" fill="none"/><path d="M418.8 58.6L424.8 58" stroke="#fff" stroke-width="0.8" stroke-linecap="round" opacity="0.14" fill="none"/><path d="M416.3 62L429.3 60.6" stroke="#fff" stroke-width="0.9" stroke-linecap="round" opacity="0.3" fill="none"/><path d="M418.8 61.7L424.8 61.1" stroke="#fff" stroke-width="0.8" stroke-linecap="round" opacity="0.12" fill="none"/><path d="M408.8 41.2L415.8 59.2" stroke="#fff" stroke-width="0.8" stroke-linecap="round" opacity="0.12" fill="none"/><path d="M410.4 43.2L417.4 60.8" stroke="#fff" stroke-width="0.8" stroke-linecap="round" opacity="0.12" fill="none"/><path d="M412 45.2L419 62.4" stroke="#fff" stroke-width="0.8" stroke-linecap="round" opacity="0.12" fill="none"/><path d="M413.6 47.2L420.6 64" stroke="#fff" stroke-width="0.8" stroke-linecap="round" opacity="0.12" fill="none"/><path d="M415.2 49.2L422.2 65.6" stroke="#fff" stroke-width="0.8" stroke-linecap="round" opacity="0.12" fill="none"/><path d="M413.8 65.2L427.8 66.6" stroke="#fff" stroke-width="0.8" stroke-linecap="round" opacity="0.28" fill="none"/><ellipse cx="409.08" cy="47.59" rx="1.34" ry="0.49" opacity="0.12"/><ellipse cx="414.97" cy="39.59" rx="1.27" ry="0.45" opacity="0.07"/><ellipse cx="414.12" cy="43.88" rx="1.48" ry="0.64" opacity="0.09"/><ellipse cx="416.95" cy="38.02" rx="1.33" ry="0.43" opacity="0.07"/><ellipse cx="419.13" cy="56.27" rx="0.82" ry="0.46" opacity="0.15"/><ellipse cx="415.11" cy="60.18" rx="0.74" ry="0.71" opacity="0.09"/><ellipse cx="409.09" cy="46.53" rx="1.21" ry="0.57" opacity="0.09"/><ellipse cx="407.71" cy="60.47" rx="1.25" ry="0.8" opacity="0.1"/><ellipse cx="417.72" cy="51.69" rx="1.19" ry="0.69" opacity="0.13"/><ellipse cx="411.34" cy="39.92" rx="0.63" ry="0.5" opacity="0.06"/><ellipse cx="304.6" cy="41.2" rx="4.6" ry="3" opacity="0.16"/><ellipse cx="304.2" cy="41.4" rx="3" ry="1.8" opacity="0.16"/><ellipse cx="303.4" cy="41.6" rx="1.8" ry="1" opacity="0.22"/><ellipse cx="303.4" cy="41.6" rx="1.1" ry="0.6" opacity="0.28"/><ellipse cx="306.6" cy="40" rx="1.2" ry="0.8" opacity="0.2"/><ellipse cx="301" cy="48.6" rx="1.3" ry="1.8" opacity="0.22"/><ellipse cx="306.4" cy="48.6" rx="1.4" ry="3.4" opacity="0.24"/><ellipse cx="307.6" cy="54" rx="1" ry="2" opacity="0.16"/><ellipse cx="309.2" cy="58" rx="1.6" ry="1.2" opacity="0.12"/><ellipse cx="348.6" cy="41.2" rx="4.6" ry="3" opacity="0.16"/><ellipse cx="348.2" cy="41.4" rx="3" ry="1.8" opacity="0.16"/><ellipse cx="347.4" cy="41.6" rx="1.8" ry="1" opacity="0.22"/><ellipse cx="347.4" cy="41.6" rx="1.1" ry="0.6" opacity="0.28"/><ellipse cx="350.6" cy="40" rx="1.2" ry="0.8" opacity="0.2"/><ellipse cx="345" cy="48.6" rx="1.3" ry="1.8" opacity="0.22"/><ellipse cx="350.4" cy="48.6" rx="1.4" ry="3.4" opacity="0.24"/><ellipse cx="351.6" cy="54" rx="1" ry="2" opacity="0.16"/><ellipse cx="353.2" cy="58" rx="1.6" ry="1.2" opacity="0.12"/><ellipse cx="391.4" cy="41.2" rx="4.6" ry="3" opacity="0.16"/><ellipse cx="391" cy="41.4" rx="3" ry="1.8" opacity="0.16"/><ellipse cx="390.2" cy="41.6" rx="1.8" ry="1" opacity="0.22"/><ellipse cx="390.2" cy="41.6" rx="1.1" ry="0.6" opacity="0.28"/><ellipse cx="393.4" cy="40" rx="1.2" ry="0.8" opacity="0.2"/><ellipse cx="387.8" cy="48.6" rx="1.3" ry="1.8" opacity="0.22"/><ellipse cx="393.2" cy="48.6" rx="1.4" ry="3.4" opacity="0.24"/><ellipse cx="394.4" cy="54" rx="1" ry="2" opacity="0.16"/><ellipse cx="396" cy="58" rx="1.6" ry="1.2" opacity="0.12"/><ellipse cx="436.4" cy="41.2" rx="4.6" ry="3" opacity="0.16"/><ellipse cx="436" cy="41.4" rx="3" ry="1.8" opacity="0.16"/><ellipse cx="435.2" cy="41.6" rx="1.8" ry="1" opacity="0.22"/><ellipse cx="435.2" cy="41.6" rx="1.1" ry="0.6" opacity="0.28"/><ellipse cx="438.4" cy="40" rx="1.2" ry="0.8" opacity="0.2"/><ellipse cx="432.8" cy="48.6" rx="1.3" ry="1.8" opacity="0.22"/><ellipse cx="438.2" cy="48.6" rx="1.4" ry="3.4" opacity="0.24"/><ellipse cx="439.4" cy="54" rx="1" ry="2" opacity="0.16"/><ellipse cx="441" cy="58" rx="1.6" ry="1.2" opacity="0.12"/></g></g></g>
<clipPath id="c2634"><rect x="254.2" y="92.7" width="193.6" height="33.1"/></clipPath><g clip-path="url(#c2634)"><g filter="url(#jet)"><rect x="251.2" y="89.7" width="199.6" height="39.1" fill="#000"/><g fill="#fff"><ellipse cx="264" cy="109.7" rx="6" ry="15" opacity="0.08"/><ellipse cx="278" cy="109.7" rx="5" ry="15" opacity="0.08"/><ellipse cx="289" cy="110.7" rx="3.5" ry="14" opacity="0.05"/><ellipse cx="262.29" cy="99.35" rx="1.55" ry="0.37" opacity="0.3"/><ellipse cx="262.77" cy="96.49" rx="1.36" ry="0.36" opacity="0.27"/><ellipse cx="259.4" cy="97.49" rx="1.25" ry="0.6" opacity="0.18"/><ellipse cx="261.14" cy="114.02" rx="1.93" ry="0.52" opacity="0.26"/><ellipse cx="269.73" cy="96.13" rx="1.82" ry="0.44" opacity="0.18"/><ellipse cx="259.94" cy="104.2" rx="1.76" ry="0.4" opacity="0.31"/><ellipse cx="265.88" cy="106.17" rx="1.41" ry="0.37" opacity="0.16"/><ellipse cx="260.95" cy="115.66" rx="1.26" ry="0.44" opacity="0.32"/><ellipse cx="263.77" cy="103.93" rx="1.73" ry="0.56" opacity="0.21"/><ellipse cx="265.15" cy="110.88" rx="1.84" ry="0.57" opacity="0.23"/><ellipse cx="269.77" cy="98.34" rx="1.24" ry="0.58" opacity="0.19"/><ellipse cx="264.17" cy="95.91" rx="1.57" ry="0.58" opacity="0.31"/><ellipse cx="268.58" cy="104.36" rx="1.6" ry="0.53" opacity="0.31"/><ellipse cx="263.8" cy="120.57" rx="1.93" ry="0.49" opacity="0.34"/><ellipse cx="259.29" cy="116.31" rx="1.54" ry="0.65" opacity="0.39"/><ellipse cx="261.84" cy="106.58" rx="1.57" ry="0.36" opacity="0.28"/><ellipse cx="260.52" cy="98.31" rx="0.78" ry="0.58" opacity="0.18"/><ellipse cx="261.42" cy="106.74" rx="1.83" ry="0.37" opacity="0.27"/><ellipse cx="264.86" cy="121.91" rx="1.77" ry="0.61" opacity="0.22"/><ellipse cx="263.33" cy="105.75" rx="1.85" ry="0.64" opacity="0.19"/><ellipse cx="260.61" cy="101.84" rx="1" ry="0.5" opacity="0.32"/><ellipse cx="261.6" cy="94.83" rx="1.24" ry="0.46" opacity="0.31"/><ellipse cx="269.47" cy="115.97" rx="1.37" ry="0.54" opacity="0.34"/><ellipse cx="259.22" cy="122.41" rx="1.71" ry="0.61" opacity="0.38"/><ellipse cx="263.07" cy="106.99" rx="0.83" ry="0.54" opacity="0.16"/><ellipse cx="259.37" cy="101.13" rx="0.91" ry="0.45" opacity="0.16"/><ellipse cx="258.6" cy="99.36" rx="0.83" ry="0.46" opacity="0.15"/><ellipse cx="268.57" cy="113.61" rx="0.89" ry="0.43" opacity="0.24"/><ellipse cx="262.75" cy="98.48" rx="1.8" ry="0.65" opacity="0.28"/><ellipse cx="264.12" cy="97.35" rx="0.83" ry="0.45" opacity="0.22"/><ellipse cx="268.05" cy="99.67" rx="0.73" ry="0.64" opacity="0.3"/><ellipse cx="260.27" cy="111.43" rx="0.74" ry="0.51" opacity="0.43"/><ellipse cx="268.44" cy="116.14" rx="1.04" ry="0.46" opacity="0.19"/><ellipse cx="267.4" cy="111.1" rx="1.71" ry="0.45" opacity="0.21"/><ellipse cx="267.85" cy="125.04" rx="1.81" ry="0.59" opacity="0.39"/><ellipse cx="267.03" cy="101.68" rx="1.37" ry="0.46" opacity="0.15"/><ellipse cx="258.92" cy="103.31" rx="1.04" ry="0.56" opacity="0.43"/><ellipse cx="263.7" cy="123.56" rx="1.98" ry="0.64" opacity="0.25"/><ellipse cx="261.11" cy="101.69" rx="0.96" ry="0.41" opacity="0.33"/><ellipse cx="268.86" cy="120.59" rx="1.32" ry="0.55" opacity="0.38"/><ellipse cx="259.57" cy="115.05" rx="1.88" ry="0.58" opacity="0.37"/><ellipse cx="264.05" cy="100.2" rx="1.73" ry="0.45" opacity="0.38"/><ellipse cx="269.68" cy="106.89" rx="1.22" ry="0.63" opacity="0.36"/><ellipse cx="260.54" cy="98.61" rx="0.9" ry="0.62" opacity="0.38"/><ellipse cx="274.03" cy="120.5" rx="1.97" ry="0.55" opacity="0.25"/><ellipse cx="278.26" cy="100.47" rx="0.72" ry="0.64" opacity="0.33"/><ellipse cx="278.03" cy="123.59" rx="1.26" ry="0.61" opacity="0.39"/><ellipse cx="274.72" cy="103.95" rx="1.08" ry="0.42" opacity="0.32"/><ellipse cx="275.22" cy="108.77" rx="0.87" ry="0.62" opacity="0.25"/><ellipse cx="277.31" cy="113.5" rx="1.88" ry="0.48" opacity="0.42"/><ellipse cx="277.77" cy="112.02" rx="1.38" ry="0.36" opacity="0.27"/><ellipse cx="274.42" cy="96.81" rx="1.74" ry="0.4" opacity="0.28"/><ellipse cx="280.11" cy="112.73" rx="1.12" ry="0.51" opacity="0.31"/><ellipse cx="280.73" cy="99.76" rx="1.43" ry="0.42" opacity="0.22"/><ellipse cx="280.61" cy="111.32" rx="1.43" ry="0.58" opacity="0.41"/><ellipse cx="277.15" cy="114.34" rx="1.36" ry="0.5" opacity="0.35"/><ellipse cx="277.25" cy="112.06" rx="1.32" ry="0.63" opacity="0.35"/><ellipse cx="281.7" cy="123.83" rx="1.04" ry="0.52" opacity="0.42"/><ellipse cx="281.32" cy="100.65" rx="0.86" ry="0.48" opacity="0.16"/><ellipse cx="275.03" cy="98.81" rx="1.57" ry="0.59" opacity="0.41"/><ellipse cx="274.12" cy="117.32" rx="1.56" ry="0.39" opacity="0.4"/><ellipse cx="282.66" cy="103.02" rx="1.94" ry="0.47" opacity="0.29"/><ellipse cx="282.89" cy="120.67" rx="0.91" ry="0.48" opacity="0.29"/><ellipse cx="276.06" cy="102.34" rx="1.11" ry="0.57" opacity="0.15"/><ellipse cx="278.32" cy="109.39" rx="0.72" ry="0.45" opacity="0.33"/><ellipse cx="277.88" cy="98.55" rx="1.98" ry="0.59" opacity="0.43"/><ellipse cx="273.6" cy="104.35" rx="0.75" ry="0.58" opacity="0.22"/><ellipse cx="273.86" cy="108.86" rx="1.88" ry="0.6" opacity="0.22"/><ellipse cx="274.07" cy="123.17" rx="1.44" ry="0.56" opacity="0.17"/><ellipse cx="273.1" cy="116.52" rx="1.25" ry="0.37" opacity="0.42"/><ellipse cx="279.16" cy="119.79" rx="0.81" ry="0.61" opacity="0.16"/><ellipse cx="281.56" cy="109.77" rx="1.14" ry="0.52" opacity="0.42"/><ellipse cx="275.31" cy="100.42" rx="1.38" ry="0.42" opacity="0.17"/><ellipse cx="274.2" cy="98.15" rx="0.96" ry="0.44" opacity="0.23"/><ellipse cx="280.47" cy="105.05" rx="1.35" ry="0.4" opacity="0.24"/><ellipse cx="272.69" cy="103.91" rx="0.72" ry="0.57" opacity="0.31"/><ellipse cx="274.49" cy="110.37" rx="1.92" ry="0.38" opacity="0.39"/><ellipse cx="277.04" cy="110.96" rx="1.78" ry="0.47" opacity="0.29"/><ellipse cx="279.72" cy="124.99" rx="1.15" ry="0.6" opacity="0.35"/><ellipse cx="279.18" cy="108.36" rx="1.15" ry="0.37" opacity="0.18"/><ellipse cx="273.24" cy="118.04" rx="1.03" ry="0.4" opacity="0.17"/><ellipse cx="281.33" cy="121.77" rx="1.57" ry="0.43" opacity="0.21"/><ellipse cx="287.34" cy="109.39" rx="0.9" ry="0.48" opacity="0.22"/><ellipse cx="292.69" cy="124.68" rx="1.41" ry="0.42" opacity="0.43"/><ellipse cx="287.48" cy="106.33" rx="0.7" ry="0.46" opacity="0.28"/><ellipse cx="289.02" cy="101.69" rx="1.36" ry="0.35" opacity="0.22"/><ellipse cx="285.72" cy="107.61" rx="0.75" ry="0.36" opacity="0.23"/><ellipse cx="286.86" cy="113.15" rx="1.39" ry="0.58" opacity="0.34"/><ellipse cx="290.73" cy="121.9" rx="1.21" ry="0.45" opacity="0.44"/><ellipse cx="286.2" cy="117.28" rx="1.54" ry="0.36" opacity="0.39"/><ellipse cx="292.14" cy="114.39" rx="1.65" ry="0.59" opacity="0.18"/><ellipse cx="289.19" cy="110.73" rx="1.79" ry="0.59" opacity="0.39"/><ellipse cx="289.67" cy="122.31" rx="1.59" ry="0.56" opacity="0.21"/><ellipse cx="285.25" cy="99.67" rx="1.17" ry="0.38" opacity="0.39"/><ellipse cx="289.47" cy="114.41" rx="1.51" ry="0.55" opacity="0.29"/><ellipse cx="285.03" cy="119.47" rx="1.67" ry="0.5" opacity="0.3"/><ellipse cx="290.27" cy="97.67" rx="1.66" ry="0.43" opacity="0.16"/><ellipse cx="287.12" cy="117.43" rx="0.97" ry="0.57" opacity="0.43"/><ellipse cx="288.95" cy="107.1" rx="1.32" ry="0.56" opacity="0.37"/><ellipse cx="289.94" cy="114.85" rx="0.8" ry="0.39" opacity="0.22"/><ellipse cx="290.95" cy="104.77" rx="1.44" ry="0.35" opacity="0.16"/><ellipse cx="287.15" cy="115.73" rx="1.6" ry="0.55" opacity="0.23"/><ellipse cx="289.13" cy="109.55" rx="1.31" ry="0.39" opacity="0.41"/><ellipse cx="286.59" cy="124.85" rx="1.92" ry="0.36" opacity="0.28"/><ellipse cx="291.56" cy="124.55" rx="1.28" ry="0.43" opacity="0.2"/><ellipse cx="292.56" cy="101.98" rx="1.46" ry="0.39" opacity="0.3"/><ellipse cx="290.44" cy="105.72" rx="1.77" ry="0.5" opacity="0.53"/><ellipse cx="282.21" cy="107.98" rx="1.87" ry="0.5" opacity="0.4"/><ellipse cx="259.12" cy="113.91" rx="1.29" ry="0.44" opacity="0.42"/><ellipse cx="270.35" cy="109.91" rx="1.79" ry="0.35" opacity="0.51"/><ellipse cx="286.69" cy="105.44" rx="1.9" ry="0.56" opacity="0.54"/><ellipse cx="268.56" cy="111.19" rx="1.21" ry="0.65" opacity="0.49"/><ellipse cx="270.9" cy="112.46" rx="1.06" ry="0.36" opacity="0.42"/><ellipse cx="286.54" cy="109.21" rx="1.92" ry="0.42" opacity="0.44"/><ellipse cx="275.86" cy="107.03" rx="1.19" ry="0.64" opacity="0.53"/><ellipse cx="285.79" cy="117.08" rx="1.89" ry="0.63" opacity="0.48"/><ellipse cx="282.75" cy="103.83" rx="1.65" ry="0.49" opacity="0.51"/><ellipse cx="280.27" cy="109.23" rx="0.76" ry="0.63" opacity="0.42"/><ellipse cx="274.58" cy="110.54" rx="1.09" ry="0.57" opacity="0.55"/><ellipse cx="267.59" cy="117.66" rx="1.09" ry="0.52" opacity="0.46"/><ellipse cx="261.6" cy="107.8" rx="2.5" ry="2" opacity="0.18"/><ellipse cx="261.6" cy="107.8" rx="1.8" ry="1.5" opacity="0.42"/><ellipse cx="261.6" cy="107.8" rx="1.3" ry="1" opacity="0.75"/><ellipse cx="278" cy="107.8" rx="2.5" ry="2" opacity="0.18"/><ellipse cx="278" cy="107.8" rx="1.8" ry="1.5" opacity="0.38"/><ellipse cx="278" cy="107.8" rx="1.3" ry="1" opacity="0.68"/><ellipse cx="265.8" cy="96.1" rx="2" ry="2.1" opacity="0.18"/><ellipse cx="265.8" cy="96.1" rx="1.3" ry="1.6" opacity="0.29"/><ellipse cx="265.8" cy="96.1" rx="0.8" ry="1.1" opacity="0.52"/><ellipse cx="263" cy="120.9" rx="4.01" ry="1.4" opacity="0.17" transform="rotate(3.81 263 120.9)"/><ellipse cx="263" cy="120.9" rx="3.21" ry="0.7" opacity="0.25" transform="rotate(3.81 263 120.9)"/><ellipse cx="260.25" cy="120.55" rx="1.24" ry="0.37" opacity="0.27" transform="rotate(3.81 260.25 120.55)"/><ellipse cx="262.91" cy="120.84" rx="0.78" ry="0.31" opacity="0.23" transform="rotate(3.81 262.91 120.84)"/><ellipse cx="263.36" cy="120.78" rx="0.86" ry="0.39" opacity="0.45" transform="rotate(3.81 263.36 120.78)"/><ellipse cx="265.42" cy="121.01" rx="1.01" ry="0.35" opacity="0.3" transform="rotate(3.81 265.42 121.01)"/><ellipse cx="276" cy="117.7" rx="4" ry="1.4" opacity="0.17"/><ellipse cx="276" cy="117.7" rx="3.2" ry="0.7" opacity="0.25"/><ellipse cx="273.22" cy="117.98" rx="0.78" ry="0.38" opacity="0.38"/><ellipse cx="275.41" cy="117.56" rx="0.85" ry="0.35" opacity="0.33"/><ellipse cx="277.37" cy="117.92" rx="0.71" ry="0.28" opacity="0.4"/><ellipse cx="278.59" cy="117.75" rx="0.7" ry="0.35" opacity="0.46"/><ellipse cx="265.5" cy="102.3" rx="3.5" ry="1.3" opacity="0.17"/><ellipse cx="265.5" cy="102.3" rx="2.7" ry="0.6" opacity="0.19"/><ellipse cx="264.37" cy="102.54" rx="0.85" ry="0.29" opacity="0.19"/><ellipse cx="265.63" cy="102.52" rx="1.13" ry="0.41" opacity="0.31"/><ellipse cx="267.15" cy="102.07" rx="1.17" ry="0.32" opacity="0.34"/><ellipse cx="318" cy="110.7" rx="4" ry="13" opacity="0.08"/><ellipse cx="328" cy="109.7" rx="4.5" ry="15" opacity="0.06"/><ellipse cx="304" cy="112.7" rx="6" ry="12" opacity="0.04"/><ellipse cx="306.68" cy="104.75" rx="0.87" ry="0.43" opacity="0.24"/><ellipse cx="307.48" cy="99.04" rx="0.79" ry="0.51" opacity="0.23"/><ellipse cx="302.82" cy="102.36" rx="1.48" ry="0.35" opacity="0.17"/><ellipse cx="303.91" cy="124.28" rx="1.54" ry="0.62" opacity="0.2"/><ellipse cx="300.52" cy="103.06" rx="1.95" ry="0.56" opacity="0.17"/><ellipse cx="297.33" cy="110.55" rx="1.58" ry="0.48" opacity="0.16"/><ellipse cx="307.01" cy="123.27" rx="0.99" ry="0.36" opacity="0.17"/><ellipse cx="303.31" cy="116.04" rx="0.96" ry="0.59" opacity="0.26"/><ellipse cx="304.57" cy="101.82" rx="1.96" ry="0.44" opacity="0.28"/><ellipse cx="300.46" cy="102.3" rx="1.69" ry="0.44" opacity="0.31"/><ellipse cx="304.44" cy="101.28" rx="0.99" ry="0.48" opacity="0.25"/><ellipse cx="311.23" cy="100.06" rx="1.21" ry="0.41" opacity="0.31"/><ellipse cx="299.13" cy="97.24" rx="0.78" ry="0.47" opacity="0.3"/><ellipse cx="310.25" cy="117.54" rx="2" ry="0.63" opacity="0.17"/><ellipse cx="299.78" cy="123.59" rx="1.67" ry="0.36" opacity="0.25"/><ellipse cx="302.68" cy="106.84" rx="1.13" ry="0.4" opacity="0.1"/><ellipse cx="301.2" cy="106.17" rx="1.94" ry="0.39" opacity="0.31"/><ellipse cx="300.11" cy="106.33" rx="1.77" ry="0.6" opacity="0.2"/><ellipse cx="297.74" cy="109.81" rx="1.18" ry="0.63" opacity="0.14"/><ellipse cx="302.46" cy="122.43" rx="0.74" ry="0.47" opacity="0.28"/><ellipse cx="308.5" cy="96.91" rx="0.75" ry="0.37" opacity="0.3"/><ellipse cx="300.86" cy="117.97" rx="1.87" ry="0.45" opacity="0.16"/><ellipse cx="311.37" cy="114.09" rx="1.04" ry="0.56" opacity="0.17"/><ellipse cx="301.13" cy="95.81" rx="1.68" ry="0.62" opacity="0.24"/><ellipse cx="311.15" cy="96.42" rx="1" ry="0.49" opacity="0.31"/><ellipse cx="311.31" cy="107.22" rx="1.03" ry="0.48" opacity="0.21"/><ellipse cx="310.92" cy="101.15" rx="1.74" ry="0.57" opacity="0.28"/><ellipse cx="308.59" cy="113.8" rx="1.13" ry="0.45" opacity="0.18"/><ellipse cx="308.73" cy="98.05" rx="0.96" ry="0.58" opacity="0.15"/><ellipse cx="297.97" cy="96.71" rx="1.42" ry="0.45" opacity="0.32"/><ellipse cx="310.25" cy="125.14" rx="1.04" ry="0.38" opacity="0.12"/><ellipse cx="304.48" cy="116.85" rx="1.28" ry="0.42" opacity="0.19"/><ellipse cx="306.3" cy="115.79" rx="1.67" ry="0.6" opacity="0.25"/><ellipse cx="298.82" cy="120.76" rx="1.08" ry="0.52" opacity="0.18"/><ellipse cx="308.07" cy="101.64" rx="1.02" ry="0.42" opacity="0.13"/><ellipse cx="310.26" cy="112.93" rx="1.12" ry="0.47" opacity="0.32"/><ellipse cx="304.61" cy="102.6" rx="1.75" ry="0.55" opacity="0.32"/><ellipse cx="298.53" cy="109.85" rx="1.76" ry="0.6" opacity="0.3"/><ellipse cx="297.61" cy="104.45" rx="0.85" ry="0.41" opacity="0.31"/><ellipse cx="305.75" cy="123.42" rx="1.18" ry="0.61" opacity="0.2"/><ellipse cx="300.9" cy="118.88" rx="1.93" ry="0.38" opacity="0.23"/><ellipse cx="306.3" cy="102.19" rx="1.18" ry="0.39" opacity="0.14"/><ellipse cx="300.82" cy="113.56" rx="1.55" ry="0.41" opacity="0.1"/><ellipse cx="301.91" cy="115.91" rx="0.94" ry="0.44" opacity="0.14"/><ellipse cx="320.36" cy="114.29" rx="0.78" ry="0.38" opacity="0.26"/><ellipse cx="318.4" cy="116.55" rx="0.82" ry="0.4" opacity="0.35"/><ellipse cx="317.28" cy="107.73" rx="1.1" ry="0.64" opacity="0.23"/><ellipse cx="318.53" cy="109.56" rx="1.24" ry="0.61" opacity="0.44"/><ellipse cx="316.91" cy="105.59" rx="1.65" ry="0.41" opacity="0.14"/><ellipse cx="321.21" cy="111.21" rx="1.77" ry="0.47" opacity="0.4"/><ellipse cx="317.69" cy="104.73" rx="0.72" ry="0.52" opacity="0.33"/><ellipse cx="321.28" cy="102.91" rx="1.51" ry="0.46" opacity="0.29"/><ellipse cx="315.17" cy="107.73" rx="1.38" ry="0.63" opacity="0.17"/><ellipse cx="317.92" cy="120.66" rx="1.96" ry="0.41" opacity="0.18"/><ellipse cx="321.54" cy="124.89" rx="1.33" ry="0.37" opacity="0.42"/><ellipse cx="317.1" cy="123.12" rx="1.51" ry="0.6" opacity="0.19"/><ellipse cx="320.29" cy="106.21" rx="1.23" ry="0.6" opacity="0.39"/><ellipse cx="315.46" cy="106.11" rx="1.22" ry="0.51" opacity="0.26"/><ellipse cx="314.98" cy="106.83" rx="1.64" ry="0.62" opacity="0.15"/><ellipse cx="318.5" cy="119.49" rx="0.75" ry="0.6" opacity="0.18"/><ellipse cx="318.8" cy="114.34" rx="1.52" ry="0.44" opacity="0.27"/><ellipse cx="318.66" cy="111.26" rx="1.56" ry="0.48" opacity="0.27"/><ellipse cx="314.19" cy="116.05" rx="1.34" ry="0.42" opacity="0.37"/><ellipse cx="320.24" cy="112.07" rx="0.93" ry="0.49" opacity="0.17"/><ellipse cx="315.03" cy="111.38" rx="0.82" ry="0.48" opacity="0.29"/><ellipse cx="314.33" cy="116.48" rx="0.81" ry="0.57" opacity="0.37"/><ellipse cx="318.09" cy="102.05" rx="1.36" ry="0.46" opacity="0.43"/><ellipse cx="315.09" cy="121.96" rx="1.99" ry="0.57" opacity="0.38"/><ellipse cx="315.55" cy="125.05" rx="1.34" ry="0.64" opacity="0.41"/><ellipse cx="315.32" cy="120.25" rx="1.91" ry="0.37" opacity="0.25"/><ellipse cx="330.68" cy="99.59" rx="1.87" ry="0.43" opacity="0.38"/><ellipse cx="324.86" cy="110.17" rx="1.9" ry="0.41" opacity="0.22"/><ellipse cx="328.31" cy="104.53" rx="0.75" ry="0.4" opacity="0.19"/><ellipse cx="332.4" cy="115.63" rx="1.86" ry="0.4" opacity="0.38"/><ellipse cx="324.59" cy="111.05" rx="1.53" ry="0.46" opacity="0.4"/><ellipse cx="328.77" cy="112.57" rx="1.85" ry="0.38" opacity="0.44"/><ellipse cx="329.48" cy="106.84" rx="1.74" ry="0.43" opacity="0.44"/><ellipse cx="328.98" cy="105.8" rx="1.69" ry="0.48" opacity="0.19"/><ellipse cx="330.56" cy="96.19" rx="1.77" ry="0.43" opacity="0.33"/><ellipse cx="332.85" cy="112.74" rx="1.56" ry="0.44" opacity="0.14"/><ellipse cx="323.82" cy="99.3" rx="1.5" ry="0.48" opacity="0.29"/><ellipse cx="332.01" cy="98.77" rx="1" ry="0.55" opacity="0.15"/><ellipse cx="323.52" cy="105.63" rx="0.84" ry="0.46" opacity="0.21"/><ellipse cx="329.04" cy="112.84" rx="0.97" ry="0.54" opacity="0.28"/><ellipse cx="324.78" cy="123.55" rx="1.02" ry="0.39" opacity="0.17"/><ellipse cx="329.56" cy="121.54" rx="1.72" ry="0.47" opacity="0.22"/><ellipse cx="323.61" cy="114.56" rx="1.43" ry="0.46" opacity="0.33"/><ellipse cx="327.72" cy="123.56" rx="1.65" ry="0.42" opacity="0.41"/><ellipse cx="323.92" cy="111.07" rx="1.23" ry="0.42" opacity="0.16"/><ellipse cx="330.9" cy="95.08" rx="1.42" ry="0.63" opacity="0.18"/><ellipse cx="325.4" cy="113.43" rx="1.36" ry="0.54" opacity="0.38"/><ellipse cx="325.16" cy="104.23" rx="1.09" ry="0.36" opacity="0.41"/><ellipse cx="330.94" cy="116.73" rx="0.71" ry="0.6" opacity="0.36"/><ellipse cx="327.92" cy="117.55" rx="1.29" ry="0.42" opacity="0.17"/><ellipse cx="325.71" cy="95.9" rx="1.14" ry="0.57" opacity="0.35"/><ellipse cx="331.53" cy="116.62" rx="1.05" ry="0.52" opacity="0.27"/><ellipse cx="330.99" cy="110.82" rx="1.04" ry="0.54" opacity="0.43"/><ellipse cx="325.56" cy="121.81" rx="0.72" ry="0.43" opacity="0.21"/><ellipse cx="330.57" cy="123.8" rx="1.67" ry="0.45" opacity="0.4"/><ellipse cx="326.62" cy="102.07" rx="1.88" ry="0.54" opacity="0.35"/><ellipse cx="329.82" cy="124.85" rx="1.31" ry="0.6" opacity="0.35"/><ellipse cx="331.65" cy="108.17" rx="1.64" ry="0.52" opacity="0.23"/><ellipse cx="325.51" cy="113.88" rx="0.8" ry="0.62" opacity="0.18"/><ellipse cx="323.76" cy="97.99" rx="1.91" ry="0.45" opacity="0.18"/><ellipse cx="323.77" cy="95.98" rx="1.6" ry="0.54" opacity="0.35"/><ellipse cx="330.5" cy="96.73" rx="1.47" ry="0.46" opacity="0.39"/><ellipse cx="325.87" cy="123.02" rx="0.79" ry="0.61" opacity="0.54"/><ellipse cx="330.11" cy="105.14" rx="0.97" ry="0.38" opacity="0.41"/><ellipse cx="326.82" cy="121.21" rx="1.52" ry="0.6" opacity="0.49"/><ellipse cx="307.77" cy="104.98" rx="0.83" ry="0.58" opacity="0.43"/><ellipse cx="308.85" cy="112.36" rx="0.73" ry="0.43" opacity="0.44"/><ellipse cx="322.34" cy="111.09" rx="1.12" ry="0.64" opacity="0.48"/><ellipse cx="326.95" cy="116.8" rx="0.74" ry="0.47" opacity="0.47"/><ellipse cx="324.28" cy="110.61" rx="1.62" ry="0.51" opacity="0.43"/><ellipse cx="327.32" cy="104.77" rx="1.77" ry="0.4" opacity="0.4"/><ellipse cx="304.87" cy="120.08" rx="1.97" ry="0.35" opacity="0.47"/><ellipse cx="318.4" cy="111.5" rx="2.3" ry="1.9" opacity="0.18"/><ellipse cx="318.4" cy="111.5" rx="1.6" ry="1.4" opacity="0.42"/><ellipse cx="318.4" cy="111.5" rx="1.1" ry="0.9" opacity="0.75"/><ellipse cx="316.4" cy="106.1" rx="1.9" ry="2.6" opacity="0.18"/><ellipse cx="316.4" cy="106.1" rx="1.2" ry="2.1" opacity="0.27"/><ellipse cx="316.4" cy="106.1" rx="0.7" ry="1.6" opacity="0.49"/><ellipse cx="303.2" cy="111.3" rx="3.8" ry="1.3" opacity="0.17"/><ellipse cx="303.2" cy="111.3" rx="3" ry="0.6" opacity="0.23"/><ellipse cx="301.27" cy="111.14" rx="1" ry="0.34" opacity="0.4"/><ellipse cx="302.57" cy="111.19" rx="0.83" ry="0.42" opacity="0.32"/><ellipse cx="303.65" cy="111.09" rx="1.17" ry="0.42" opacity="0.39"/><ellipse cx="305.32" cy="111.25" rx="0.94" ry="0.46" opacity="0.21"/><ellipse cx="301.3" cy="123.7" rx="3.7" ry="1.3" opacity="0.17"/><ellipse cx="301.3" cy="123.7" rx="2.9" ry="0.6" opacity="0.25"/><ellipse cx="299.3" cy="123.55" rx="0.86" ry="0.46" opacity="0.35"/><ellipse cx="300.76" cy="123.57" rx="0.98" ry="0.38" opacity="0.41"/><ellipse cx="302.27" cy="123.62" rx="0.9" ry="0.3" opacity="0.44"/><ellipse cx="303.6" cy="123.53" rx="0.96" ry="0.43" opacity="0.37"/><ellipse cx="312" cy="124.1" rx="4" ry="1.3" opacity="0.17"/><ellipse cx="312" cy="124.1" rx="3.2" ry="0.6" opacity="0.21"/><ellipse cx="309.39" cy="124.29" rx="0.84" ry="0.31" opacity="0.24"/><ellipse cx="311.64" cy="123.93" rx="0.79" ry="0.32" opacity="0.25"/><ellipse cx="312.57" cy="124.01" rx="0.81" ry="0.47" opacity="0.34"/><ellipse cx="314.17" cy="123.9" rx="0.93" ry="0.48" opacity="0.35"/><ellipse cx="355" cy="109.7" rx="6" ry="15" opacity="0.12"/><ellipse cx="358.87" cy="108.1" rx="0.96" ry="0.54" opacity="0.15"/><ellipse cx="350.7" cy="106.66" rx="0.74" ry="0.47" opacity="0.31"/><ellipse cx="358.25" cy="110.11" rx="1.52" ry="0.49" opacity="0.15"/><ellipse cx="356.86" cy="107.17" rx="1.66" ry="0.62" opacity="0.22"/><ellipse cx="356.4" cy="117.77" rx="1.25" ry="0.42" opacity="0.29"/><ellipse cx="361.14" cy="118.54" rx="1.61" ry="0.61" opacity="0.28"/><ellipse cx="357.44" cy="108.68" rx="1.11" ry="0.54" opacity="0.14"/><ellipse cx="354" cy="118.8" rx="1.63" ry="0.54" opacity="0.18"/><ellipse cx="354.07" cy="108.72" rx="1.51" ry="0.47" opacity="0.28"/><ellipse cx="361.92" cy="100.34" rx="1.55" ry="0.58" opacity="0.21"/><ellipse cx="355.09" cy="124.72" rx="0.75" ry="0.51" opacity="0.16"/><ellipse cx="359.62" cy="123.67" rx="1.37" ry="0.38" opacity="0.26"/><ellipse cx="355.89" cy="116.79" rx="1.37" ry="0.54" opacity="0.32"/><ellipse cx="355.59" cy="107.34" rx="1.93" ry="0.41" opacity="0.28"/><ellipse cx="353.58" cy="118.19" rx="0.86" ry="0.65" opacity="0.21"/><ellipse cx="348.38" cy="103.15" rx="1.22" ry="0.35" opacity="0.22"/><ellipse cx="354.02" cy="116.21" rx="1.16" ry="0.43" opacity="0.17"/><ellipse cx="358.99" cy="123.65" rx="1.39" ry="0.42" opacity="0.31"/><ellipse cx="353.58" cy="101.23" rx="0.87" ry="0.58" opacity="0.31"/><ellipse cx="357.33" cy="109.15" rx="1.43" ry="0.42" opacity="0.35"/><ellipse cx="352.97" cy="114.37" rx="1.76" ry="0.59" opacity="0.23"/><ellipse cx="352.06" cy="111.59" rx="0.86" ry="0.6" opacity="0.21"/><ellipse cx="360.69" cy="102.94" rx="1.19" ry="0.43" opacity="0.22"/><ellipse cx="350.38" cy="94.78" rx="1.64" ry="0.43" opacity="0.18"/><ellipse cx="352.18" cy="109.47" rx="1.26" ry="0.54" opacity="0.28"/><ellipse cx="353.12" cy="123.3" rx="1.81" ry="0.37" opacity="0.32"/><ellipse cx="361.54" cy="118.85" rx="0.88" ry="0.6" opacity="0.27"/><ellipse cx="347.73" cy="95.05" rx="1.94" ry="0.55" opacity="0.18"/><ellipse cx="349.07" cy="99.1" rx="1" ry="0.58" opacity="0.2"/><ellipse cx="349.87" cy="122.55" rx="1.73" ry="0.4" opacity="0.33"/><ellipse cx="356.93" cy="118.76" rx="1.57" ry="0.62" opacity="0.31"/><ellipse cx="360.5" cy="100.78" rx="1.6" ry="0.51" opacity="0.3"/><ellipse cx="354.3" cy="121.89" rx="1.42" ry="0.43" opacity="0.18"/><ellipse cx="349.66" cy="109.89" rx="0.78" ry="0.49" opacity="0.15"/><ellipse cx="355.12" cy="110.04" rx="1.4" ry="0.61" opacity="0.12"/><ellipse cx="360.53" cy="109.11" rx="1.43" ry="0.55" opacity="0.32"/><ellipse cx="353.31" cy="107.6" rx="1.95" ry="0.37" opacity="0.27"/><ellipse cx="357.36" cy="95.58" rx="1.49" ry="0.55" opacity="0.34"/><ellipse cx="352.62" cy="124.94" rx="1.36" ry="0.5" opacity="0.34"/><ellipse cx="348.03" cy="116.82" rx="1.51" ry="0.45" opacity="0.33"/><ellipse cx="353.18" cy="109.32" rx="1.38" ry="0.58" opacity="0.17"/><ellipse cx="354.25" cy="107.71" rx="1.42" ry="0.6" opacity="0.19"/><ellipse cx="360.33" cy="107.13" rx="1.35" ry="0.43" opacity="0.24"/><ellipse cx="362.61" cy="114.86" rx="1.73" ry="0.45" opacity="0.2"/><ellipse cx="352.14" cy="112.76" rx="1.53" ry="0.59" opacity="0.13"/><ellipse cx="358.7" cy="121.98" rx="1.41" ry="0.36" opacity="0.19"/><ellipse cx="347.6" cy="100.55" rx="1.9" ry="0.53" opacity="0.28"/><ellipse cx="359.73" cy="122.72" rx="1.5" ry="0.54" opacity="0.27"/><ellipse cx="358.29" cy="113.07" rx="1.59" ry="0.41" opacity="0.28"/><ellipse cx="354.6" cy="118.19" rx="0.83" ry="0.4" opacity="0.13"/><ellipse cx="359.51" cy="122.85" rx="1.55" ry="0.46" opacity="0.32"/><ellipse cx="359.69" cy="112.01" rx="1.04" ry="0.44" opacity="0.22"/><ellipse cx="352.44" cy="107.96" rx="1.53" ry="0.63" opacity="0.13"/><ellipse cx="356.3" cy="95.91" rx="0.85" ry="0.59" opacity="0.26"/><ellipse cx="361.74" cy="108.45" rx="0.72" ry="0.47" opacity="0.26"/><ellipse cx="362.03" cy="124.91" rx="1.32" ry="0.47" opacity="0.14"/><ellipse cx="357.49" cy="101.24" rx="0.9" ry="0.35" opacity="0.12"/><ellipse cx="358.1" cy="98.45" rx="1.96" ry="0.38" opacity="0.33"/><ellipse cx="349.5" cy="95.25" rx="1.64" ry="0.42" opacity="0.3"/><ellipse cx="350.4" cy="96.24" rx="1.71" ry="0.56" opacity="0.33"/><path d="M351 98.7L363 102.7" stroke="#fff" stroke-width="0.7" stroke-linecap="round" opacity="0.26" fill="none"/><path d="M351.5 102.3L363 106.5" stroke="#fff" stroke-width="0.7" stroke-linecap="round" opacity="0.26" fill="none"/><path d="M352 105.9L363 110.3" stroke="#fff" stroke-width="0.7" stroke-linecap="round" opacity="0.26" fill="none"/><path d="M352.5 109.5L363 114.1" stroke="#fff" stroke-width="0.7" stroke-linecap="round" opacity="0.26" fill="none"/><path d="M353 113.1L363 117.9" stroke="#fff" stroke-width="0.7" stroke-linecap="round" opacity="0.26" fill="none"/><path d="M353.5 116.7L363 121.7" stroke="#fff" stroke-width="0.7" stroke-linecap="round" opacity="0.26" fill="none"/><path d="M354 120.3L363 125.5" stroke="#fff" stroke-width="0.7" stroke-linecap="round" opacity="0.26" fill="none"/><ellipse cx="350.8" cy="106.3" rx="2.7" ry="2.1" opacity="0.18"/><ellipse cx="350.8" cy="106.3" rx="2" ry="1.6" opacity="0.4"/><ellipse cx="350.8" cy="106.3" rx="1.5" ry="1.1" opacity="0.71"/><ellipse cx="352.6" cy="119.3" rx="2.7" ry="1.7" opacity="0.18"/><ellipse cx="352.6" cy="119.3" rx="2" ry="1.2" opacity="0.36"/><ellipse cx="352.6" cy="119.3" rx="1.5" ry="0.7" opacity="0.64"/><ellipse cx="353.5" cy="112.3" rx="2.3" ry="1.7" opacity="0.18"/><ellipse cx="353.5" cy="112.3" rx="1.6" ry="1.2" opacity="0.27"/><ellipse cx="353.5" cy="112.3" rx="1.1" ry="0.7" opacity="0.49"/><ellipse cx="354.5" cy="96.7" rx="2" ry="2.2" opacity="0.18"/><ellipse cx="354.5" cy="96.7" rx="1.3" ry="1.7" opacity="0.19"/><ellipse cx="354.5" cy="96.7" rx="0.8" ry="1.2" opacity="0.34"/></g></g></g>
<clipPath id="c2695"><rect x="254.2" y="153.7" width="193.6" height="33.1"/></clipPath><g clip-path="url(#c2695)"><g filter="url(#jet)"><rect x="251.2" y="150.7" width="199.6" height="39.1" fill="#000"/><g fill="#fff"><ellipse cx="265.4" cy="172.89" rx="1.9" ry="0.49" opacity="0.24"/><ellipse cx="268.51" cy="161.37" rx="1.37" ry="0.54" opacity="0.31"/><ellipse cx="257.16" cy="165.01" rx="0.82" ry="0.59" opacity="0.29"/><ellipse cx="255.96" cy="185.85" rx="1.95" ry="0.55" opacity="0.27"/><ellipse cx="258.62" cy="156.16" rx="1.39" ry="0.37" opacity="0.17"/><ellipse cx="260.56" cy="156.62" rx="1.3" ry="0.48" opacity="0.32"/><ellipse cx="266.94" cy="175.36" rx="1.35" ry="0.55" opacity="0.23"/><ellipse cx="261.4" cy="186.33" rx="1.99" ry="0.6" opacity="0.29"/><ellipse cx="262.25" cy="162.75" rx="1.08" ry="0.37" opacity="0.3"/><ellipse cx="264.21" cy="181.69" rx="1.2" ry="0.64" opacity="0.32"/><ellipse cx="255.01" cy="162.14" rx="1.88" ry="0.49" opacity="0.36"/><ellipse cx="264.14" cy="157.94" rx="1.52" ry="0.58" opacity="0.18"/><ellipse cx="257" cy="165.91" rx="1.95" ry="0.58" opacity="0.15"/><ellipse cx="260.67" cy="158.8" rx="0.78" ry="0.59" opacity="0.16"/><ellipse cx="267.86" cy="169.44" rx="0.95" ry="0.57" opacity="0.15"/><ellipse cx="269.81" cy="159.28" rx="1.25" ry="0.41" opacity="0.18"/><ellipse cx="277.33" cy="180.36" rx="1.1" ry="0.62" opacity="0.17"/><ellipse cx="264.07" cy="181.93" rx="1.53" ry="0.38" opacity="0.36"/><ellipse cx="259.9" cy="163.63" rx="1.7" ry="0.45" opacity="0.19"/><ellipse cx="256.69" cy="158.47" rx="1.46" ry="0.42" opacity="0.26"/><ellipse cx="263.55" cy="169.61" rx="1.95" ry="0.5" opacity="0.26"/><ellipse cx="274.93" cy="161.31" rx="0.9" ry="0.62" opacity="0.32"/><ellipse cx="260.74" cy="161.53" rx="1.66" ry="0.63" opacity="0.17"/><ellipse cx="276.85" cy="182.78" rx="1.48" ry="0.48" opacity="0.14"/><ellipse cx="255.89" cy="185.25" rx="1.01" ry="0.56" opacity="0.18"/><ellipse cx="273.95" cy="174.01" rx="1.08" ry="0.4" opacity="0.29"/><ellipse cx="256.58" cy="162.71" rx="1.43" ry="0.61" opacity="0.27"/><ellipse cx="261.45" cy="183.86" rx="0.97" ry="0.35" opacity="0.18"/><ellipse cx="265.25" cy="157.56" rx="0.93" ry="0.46" opacity="0.26"/><ellipse cx="258.03" cy="166.82" rx="1.86" ry="0.64" opacity="0.28"/><ellipse cx="270.9" cy="173.64" rx="0.88" ry="0.36" opacity="0.12"/><ellipse cx="275.93" cy="177.22" rx="1.95" ry="0.36" opacity="0.27"/><ellipse cx="266.09" cy="178.13" rx="1.11" ry="0.65" opacity="0.14"/><ellipse cx="267.56" cy="178.33" rx="1.87" ry="0.57" opacity="0.29"/><ellipse cx="273.25" cy="183.79" rx="1.16" ry="0.56" opacity="0.34"/><ellipse cx="275.04" cy="168.51" rx="1.73" ry="0.61" opacity="0.26"/><ellipse cx="269.37" cy="167.44" rx="1.46" ry="0.53" opacity="0.14"/><ellipse cx="269.71" cy="186.19" rx="1.84" ry="0.57" opacity="0.21"/><ellipse cx="271.91" cy="173.54" rx="1.27" ry="0.6" opacity="0.14"/><ellipse cx="272.25" cy="156.61" rx="1.48" ry="0.49" opacity="0.18"/><ellipse cx="271.06" cy="170.97" rx="1.5" ry="0.63" opacity="0.18"/><ellipse cx="255.26" cy="164.94" rx="1.58" ry="0.41" opacity="0.16"/><ellipse cx="275.83" cy="175.96" rx="1.27" ry="0.62" opacity="0.2"/><ellipse cx="270.32" cy="161.79" rx="1.26" ry="0.59" opacity="0.34"/><ellipse cx="275.25" cy="167.5" rx="1.46" ry="0.44" opacity="0.15"/><ellipse cx="266.42" cy="181.4" rx="1.8" ry="0.56" opacity="0.35"/><ellipse cx="261.37" cy="160.89" rx="1.29" ry="0.43" opacity="0.17"/><ellipse cx="264.52" cy="174.91" rx="1.34" ry="0.44" opacity="0.32"/><ellipse cx="277.59" cy="169.59" rx="0.8" ry="0.36" opacity="0.33"/><ellipse cx="255.95" cy="177.45" rx="1.44" ry="0.44" opacity="0.31"/><ellipse cx="255.44" cy="159.87" rx="1.29" ry="0.36" opacity="0.32"/><ellipse cx="260.46" cy="160.02" rx="0.76" ry="0.54" opacity="0.23"/><ellipse cx="269.49" cy="175.81" rx="1.75" ry="0.64" opacity="0.28"/><ellipse cx="259.58" cy="170.29" rx="0.93" ry="0.35" opacity="0.23"/><ellipse cx="271.43" cy="161.2" rx="1.05" ry="0.45" opacity="0.29"/><ellipse cx="266.97" cy="174.56" rx="1.68" ry="0.47" opacity="0.31"/><ellipse cx="275.84" cy="158.38" rx="1.91" ry="0.57" opacity="0.15"/><ellipse cx="265.43" cy="174.9" rx="1.88" ry="0.46" opacity="0.26"/><ellipse cx="275.22" cy="180.16" rx="1.93" ry="0.49" opacity="0.28"/><ellipse cx="259.71" cy="177.86" rx="1.76" ry="0.54" opacity="0.29"/><ellipse cx="259.91" cy="183.33" rx="1.97" ry="0.64" opacity="0.25"/><ellipse cx="273.19" cy="165.54" rx="1.88" ry="0.61" opacity="0.2"/><ellipse cx="256.9" cy="169.24" rx="1.42" ry="0.58" opacity="0.24"/><ellipse cx="255.65" cy="180.54" rx="0.78" ry="0.59" opacity="0.16"/><ellipse cx="262.71" cy="179.89" rx="0.88" ry="0.39" opacity="0.24"/><ellipse cx="271.64" cy="181.49" rx="1.6" ry="0.63" opacity="0.24"/><ellipse cx="276.83" cy="158.34" rx="0.99" ry="0.51" opacity="0.19"/><ellipse cx="271.76" cy="175.31" rx="1.38" ry="0.6" opacity="0.25"/><ellipse cx="262.17" cy="167.4" rx="1.8" ry="0.62" opacity="0.17"/><ellipse cx="274.57" cy="185.43" rx="1.38" ry="0.52" opacity="0.17"/><ellipse cx="267.33" cy="171.15" rx="1.49" ry="0.36" opacity="0.35"/><ellipse cx="266.87" cy="168" rx="1.74" ry="0.52" opacity="0.24"/><ellipse cx="270.89" cy="157.72" rx="1.4" ry="0.47" opacity="0.35"/><ellipse cx="276.24" cy="163.96" rx="1.32" ry="0.39" opacity="0.22"/><ellipse cx="273.76" cy="183.35" rx="1.32" ry="0.45" opacity="0.17"/><ellipse cx="269.21" cy="184.11" rx="0.87" ry="0.58" opacity="0.13"/><ellipse cx="259.46" cy="162.68" rx="1.59" ry="0.45" opacity="0.21"/><ellipse cx="269.25" cy="158.92" rx="1.65" ry="0.39" opacity="0.24"/><ellipse cx="260.76" cy="161.77" rx="1.39" ry="0.48" opacity="0.21"/><ellipse cx="264.51" cy="171.95" rx="0.91" ry="0.41" opacity="0.27"/><ellipse cx="295.15" cy="171.96" rx="1.62" ry="0.71" opacity="0.27"/><ellipse cx="282.98" cy="178.44" rx="1.57" ry="0.85" opacity="0.16"/><ellipse cx="285.45" cy="184.03" rx="0.86" ry="0.9" opacity="0.28"/><ellipse cx="280.02" cy="163.05" rx="1.47" ry="0.53" opacity="0.12"/><ellipse cx="300.97" cy="168.64" rx="1.55" ry="0.46" opacity="0.18"/><ellipse cx="296.56" cy="156.25" rx="0.84" ry="0.74" opacity="0.28"/><ellipse cx="305.05" cy="159.24" rx="1.21" ry="0.78" opacity="0.2"/><ellipse cx="296.57" cy="161.5" rx="0.68" ry="0.45" opacity="0.11"/><ellipse cx="292.55" cy="171.51" rx="1.28" ry="0.47" opacity="0.14"/><ellipse cx="282.12" cy="181.49" rx="1.79" ry="0.86" opacity="0.12"/><ellipse cx="277.86" cy="184.91" rx="1.15" ry="0.78" opacity="0.17"/><ellipse cx="290.01" cy="171.52" rx="1.12" ry="0.7" opacity="0.1"/><ellipse cx="297.03" cy="181.62" rx="0.82" ry="0.63" opacity="0.25"/><ellipse cx="288.16" cy="161.69" rx="0.8" ry="0.66" opacity="0.1"/><ellipse cx="302.8" cy="180.31" rx="1.45" ry="0.83" opacity="0.23"/><ellipse cx="288.14" cy="174.11" rx="1.21" ry="0.89" opacity="0.26"/><ellipse cx="283.75" cy="183.68" rx="1.49" ry="0.79" opacity="0.26"/><ellipse cx="288.17" cy="183.22" rx="1.66" ry="0.75" opacity="0.25"/><ellipse cx="298.96" cy="168.16" rx="1.47" ry="0.44" opacity="0.17"/><ellipse cx="290.07" cy="156.03" rx="1.03" ry="0.72" opacity="0.22"/><ellipse cx="282.96" cy="184.7" rx="1.4" ry="0.57" opacity="0.23"/><ellipse cx="293.09" cy="172.07" rx="1.07" ry="0.9" opacity="0.23"/><ellipse cx="297.04" cy="179.09" rx="1.78" ry="0.41" opacity="0.22"/><ellipse cx="298.16" cy="163.58" rx="1.08" ry="0.43" opacity="0.14"/><ellipse cx="287.27" cy="158.72" rx="0.9" ry="0.85" opacity="0.21"/><ellipse cx="291.23" cy="185.39" rx="1.28" ry="0.9" opacity="0.23"/><ellipse cx="300.29" cy="158.04" rx="1.32" ry="0.78" opacity="0.11"/><ellipse cx="303.9" cy="160.61" rx="1.17" ry="0.48" opacity="0.2"/><ellipse cx="294.34" cy="157.5" rx="1.73" ry="0.61" opacity="0.21"/><ellipse cx="293.93" cy="166.92" rx="0.94" ry="0.73" opacity="0.21"/><ellipse cx="284.51" cy="177.7" rx="0.96" ry="0.41" opacity="0.15"/><ellipse cx="277.28" cy="160.51" rx="1.51" ry="0.59" opacity="0.28"/><ellipse cx="298.45" cy="157.24" rx="1.79" ry="0.87" opacity="0.11"/><ellipse cx="303.17" cy="168.89" rx="1.17" ry="0.89" opacity="0.15"/><ellipse cx="291.7" cy="184.47" rx="1.47" ry="0.63" opacity="0.3"/><ellipse cx="300.5" cy="174.23" rx="0.74" ry="0.71" opacity="0.19"/><ellipse cx="282.11" cy="157.3" rx="1.23" ry="0.46" opacity="0.19"/><ellipse cx="296.04" cy="169.69" rx="0.91" ry="0.69" opacity="0.18"/><ellipse cx="299.34" cy="171.99" rx="1.8" ry="0.88" opacity="0.25"/><ellipse cx="283.15" cy="159.2" rx="1.67" ry="0.79" opacity="0.22"/><ellipse cx="278.8" cy="156.7" rx="2.52" ry="1.7" opacity="0.17" transform="rotate(23.2 278.8 156.7)"/><ellipse cx="278.8" cy="156.7" rx="1.72" ry="1" opacity="0.42" transform="rotate(23.2 278.8 156.7)"/><ellipse cx="277.84" cy="156.52" rx="1.04" ry="0.59" opacity="0.63" transform="rotate(23.2 277.84 156.52)"/><ellipse cx="279.53" cy="156.87" rx="1.29" ry="0.69" opacity="0.75" transform="rotate(23.2 279.53 156.87)"/><ellipse cx="282" cy="161.2" rx="3.05" ry="1.6" opacity="0.17" transform="rotate(46.97 282 161.2)"/><ellipse cx="282" cy="161.2" rx="2.25" ry="0.9" opacity="0.23" transform="rotate(46.97 282 161.2)"/><ellipse cx="280.55" cy="159.74" rx="0.96" ry="0.53" opacity="0.22" transform="rotate(46.97 280.55 159.74)"/><ellipse cx="281.77" cy="160.89" rx="1.11" ry="0.51" opacity="0.35" transform="rotate(46.97 281.77 160.89)"/><ellipse cx="282.85" cy="161.89" rx="0.91" ry="0.57" opacity="0.4" transform="rotate(46.97 282.85 161.89)"/><ellipse cx="284.4" cy="166.1" rx="2.3" ry="2.1" opacity="0.18"/><ellipse cx="284.4" cy="166.1" rx="1.6" ry="1.6" opacity="0.29"/><ellipse cx="284.4" cy="166.1" rx="1.1" ry="1.1" opacity="0.52"/><ellipse cx="274.7" cy="170.6" rx="3.82" ry="1.7" opacity="0.17" transform="rotate(62.53 274.7 170.6)"/><ellipse cx="274.7" cy="170.6" rx="3.02" ry="1" opacity="0.21" transform="rotate(62.53 274.7 170.6)"/><ellipse cx="273.33" cy="168.68" rx="1.07" ry="0.65" opacity="0.22" transform="rotate(62.53 273.33 168.68)"/><ellipse cx="274.2" cy="170.2" rx="0.92" ry="0.61" opacity="0.4" transform="rotate(62.53 274.2 170.2)"/><ellipse cx="274.99" cy="171.32" rx="1.25" ry="0.54" opacity="0.26" transform="rotate(62.53 274.99 171.32)"/><ellipse cx="275.74" cy="171.79" rx="0.75" ry="0.58" opacity="0.28" transform="rotate(62.53 275.74 171.79)"/><ellipse cx="274.1" cy="180.8" rx="3.5" ry="1.3" opacity="0.17" transform="rotate(2.29 274.1 180.8)"/><ellipse cx="274.1" cy="180.8" rx="2.7" ry="0.6" opacity="0.27" transform="rotate(2.29 274.1 180.8)"/><ellipse cx="272.5" cy="180.88" rx="0.75" ry="0.31" opacity="0.42" transform="rotate(2.29 272.5 180.88)"/><ellipse cx="273.56" cy="180.9" rx="1.12" ry="0.33" opacity="0.27" transform="rotate(2.29 273.56 180.9)"/><ellipse cx="275.76" cy="180.79" rx="0.77" ry="0.42" opacity="0.39" transform="rotate(2.29 275.76 180.79)"/><ellipse cx="290.5" cy="175.2" rx="5.95" ry="1.3" opacity="0.17" transform="rotate(45 290.5 175.2)"/><ellipse cx="290.5" cy="175.2" rx="5.15" ry="0.6" opacity="0.17" transform="rotate(45 290.5 175.2)"/><ellipse cx="288.02" cy="172.66" rx="0.96" ry="0.44" opacity="0.19" transform="rotate(45 288.02 172.66)"/><ellipse cx="288.33" cy="173.31" rx="1.24" ry="0.32" opacity="0.21" transform="rotate(45 288.33 173.31)"/><ellipse cx="289.34" cy="174.07" rx="0.93" ry="0.31" opacity="0.24" transform="rotate(45 289.34 174.07)"/><ellipse cx="290.7" cy="175.55" rx="1.04" ry="0.31" opacity="0.28" transform="rotate(45 290.7 175.55)"/><ellipse cx="291.6" cy="176.19" rx="1.01" ry="0.38" opacity="0.24" transform="rotate(45 291.6 176.19)"/><ellipse cx="292.87" cy="177.63" rx="0.74" ry="0.38" opacity="0.28" transform="rotate(45 292.87 177.63)"/><ellipse cx="293" cy="178.07" rx="1.24" ry="0.29" opacity="0.25" transform="rotate(45 293 178.07)"/><ellipse cx="299.5" cy="182.2" rx="5.3" ry="1.2" opacity="0.17" transform="rotate(35.54 299.5 182.2)"/><ellipse cx="299.5" cy="182.2" rx="4.5" ry="0.5" opacity="0.15" transform="rotate(35.54 299.5 182.2)"/><ellipse cx="296.48" cy="180" rx="0.85" ry="0.32" opacity="0.25" transform="rotate(35.54 296.48 180)"/><ellipse cx="297.92" cy="180.92" rx="0.9" ry="0.47" opacity="0.23" transform="rotate(35.54 297.92 180.92)"/><ellipse cx="298.93" cy="181.87" rx="1.12" ry="0.46" opacity="0.19" transform="rotate(35.54 298.93 181.87)"/><ellipse cx="300.41" cy="182.92" rx="1.18" ry="0.45" opacity="0.27" transform="rotate(35.54 300.41 182.92)"/><ellipse cx="301.65" cy="183.69" rx="1.13" ry="0.44" opacity="0.19" transform="rotate(35.54 301.65 183.69)"/><ellipse cx="302.15" cy="184.34" rx="1.29" ry="0.35" opacity="0.15" transform="rotate(35.54 302.15 184.34)"/><ellipse cx="302" cy="156.9" rx="2.2" ry="1" opacity="0.26"/><ellipse cx="305.6" cy="171.3" rx="1.2" ry="1.6" opacity="0.26"/><ellipse cx="300" cy="177.7" rx="1.4" ry="0.9" opacity="0.24"/><path d="M320 159.66C320.5 159.65 322.02 159.63 323.03 159.58C324.04 159.53 325.05 159.38 326.06 159.37C327.07 159.36 328.08 159.56 329.09 159.51C330.1 159.47 331.11 159.13 332.12 159.07C333.13 159.01 334.14 159.14 335.15 159.14C336.16 159.15 337.17 159.05 338.18 159.09C339.19 159.13 340.2 159.31 341.21 159.39C342.22 159.46 343.23 159.55 344.24 159.56C345.25 159.58 346.26 159.47 347.27 159.48C348.28 159.49 349.8 159.58 350.3 159.6" stroke="#fff" stroke-width="1" stroke-linecap="round" opacity="0.29" fill="none"/><path d="M320 159.66L323.03 159.58" stroke="#fff" stroke-width="0.9" stroke-linecap="round" opacity="0.21" fill="none"/><path d="M326.06 159.37L329.09 159.51" stroke="#fff" stroke-width="0.9" stroke-linecap="round" opacity="0.12" fill="none"/><path d="M329.09 159.51L332.12 159.07" stroke="#fff" stroke-width="0.9" stroke-linecap="round" opacity="0.14" fill="none"/><path d="M332.12 159.07L335.15 159.14" stroke="#fff" stroke-width="0.9" stroke-linecap="round" opacity="0.23" fill="none"/><path d="M335.15 159.14L338.18 159.09" stroke="#fff" stroke-width="0.9" stroke-linecap="round" opacity="0.14" fill="none"/><path d="M338.18 159.09L341.21 159.39" stroke="#fff" stroke-width="0.9" stroke-linecap="round" opacity="0.16" fill="none"/><path d="M341.21 159.39L344.24 159.56" stroke="#fff" stroke-width="0.9" stroke-linecap="round" opacity="0.24" fill="none"/><path d="M344.24 159.56L347.27 159.48" stroke="#fff" stroke-width="0.9" stroke-linecap="round" opacity="0.2" fill="none"/><path d="M320 166.77C320.5 166.73 322.02 166.54 323.03 166.51C324.04 166.48 325.05 166.61 326.06 166.61C327.07 166.6 328.08 166.56 329.09 166.49C330.1 166.42 331.11 166.23 332.12 166.18C333.13 166.14 334.14 166.2 335.15 166.24C336.16 166.28 337.17 166.42 338.18 166.43C339.19 166.44 340.2 166.34 341.21 166.32C342.22 166.3 343.23 166.32 344.24 166.34C345.25 166.36 346.26 166.32 347.27 166.43C348.28 166.53 349.8 166.87 350.3 166.96" stroke="#fff" stroke-width="1" stroke-linecap="round" opacity="0.29" fill="none"/><path d="M323.03 166.51L326.06 166.61" stroke="#fff" stroke-width="0.9" stroke-linecap="round" opacity="0.2" fill="none"/><path d="M326.06 166.61L329.09 166.49" stroke="#fff" stroke-width="0.9" stroke-linecap="round" opacity="0.15" fill="none"/><path d="M332.12 166.18L335.15 166.24" stroke="#fff" stroke-width="0.9" stroke-linecap="round" opacity="0.15" fill="none"/><path d="M335.15 166.24L338.18 166.43" stroke="#fff" stroke-width="0.9" stroke-linecap="round" opacity="0.19" fill="none"/><path d="M338.18 166.43L341.21 166.32" stroke="#fff" stroke-width="0.9" stroke-linecap="round" opacity="0.25" fill="none"/><path d="M341.21 166.32L344.24 166.34" stroke="#fff" stroke-width="0.9" stroke-linecap="round" opacity="0.21" fill="none"/><path d="M344.24 166.34L347.27 166.43" stroke="#fff" stroke-width="0.9" stroke-linecap="round" opacity="0.13" fill="none"/><path d="M347.27 166.43L350.3 166.96" stroke="#fff" stroke-width="0.9" stroke-linecap="round" opacity="0.15" fill="none"/><path d="M320 172.93C320.5 172.88 322.02 172.68 323.03 172.61C324.04 172.54 325.05 172.52 326.06 172.51C327.07 172.49 328.08 172.58 329.09 172.52C330.1 172.47 331.11 172.2 332.12 172.15C333.13 172.11 334.14 172.24 335.15 172.23C336.16 172.23 337.17 172.07 338.18 172.11C339.19 172.14 340.2 172.41 341.21 172.44C342.22 172.46 343.23 172.2 344.24 172.25C345.25 172.3 346.26 172.62 347.27 172.74C348.28 172.85 349.8 172.89 350.3 172.92" stroke="#fff" stroke-width="1" stroke-linecap="round" opacity="0.29" fill="none"/><path d="M323.03 172.61L326.06 172.51" stroke="#fff" stroke-width="0.9" stroke-linecap="round" opacity="0.15" fill="none"/><path d="M326.06 172.51L329.09 172.52" stroke="#fff" stroke-width="0.9" stroke-linecap="round" opacity="0.12" fill="none"/><path d="M329.09 172.52L332.12 172.15" stroke="#fff" stroke-width="0.9" stroke-linecap="round" opacity="0.19" fill="none"/><path d="M335.15 172.23L338.18 172.11" stroke="#fff" stroke-width="0.9" stroke-linecap="round" opacity="0.26" fill="none"/><path d="M338.18 172.11L341.21 172.44" stroke="#fff" stroke-width="0.9" stroke-linecap="round" opacity="0.25" fill="none"/><path d="M341.21 172.44L344.24 172.25" stroke="#fff" stroke-width="0.9" stroke-linecap="round" opacity="0.27" fill="none"/><path d="M344.24 172.25L347.27 172.74" stroke="#fff" stroke-width="0.9" stroke-linecap="round" opacity="0.25" fill="none"/><path d="M347.27 172.74L350.3 172.92" stroke="#fff" stroke-width="0.9" stroke-linecap="round" opacity="0.2" fill="none"/><path d="M320 178.79C320.5 178.74 322.02 178.5 323.03 178.47C324.04 178.44 325.05 178.62 326.06 178.58C327.07 178.55 328.08 178.32 329.09 178.25C330.1 178.18 331.11 178.21 332.12 178.17C333.13 178.14 334.14 178.05 335.15 178.05C336.16 178.05 337.17 178.13 338.18 178.17C339.19 178.21 340.2 178.25 341.21 178.31C342.22 178.38 343.23 178.5 344.24 178.54C345.25 178.58 346.26 178.5 347.27 178.55C348.28 178.6 349.8 178.8 350.3 178.85" stroke="#fff" stroke-width="1" stroke-linecap="round" opacity="0.29" fill="none"/><path d="M320 178.79L323.03 178.47" stroke="#fff" stroke-width="0.9" stroke-linecap="round" opacity="0.18" fill="none"/><path d="M323.03 178.47L326.06 178.58" stroke="#fff" stroke-width="0.9" stroke-linecap="round" opacity="0.28" fill="none"/><path d="M329.09 178.25L332.12 178.17" stroke="#fff" stroke-width="0.9" stroke-linecap="round" opacity="0.11" fill="none"/><path d="M332.12 178.17L335.15 178.05" stroke="#fff" stroke-width="0.9" stroke-linecap="round" opacity="0.23" fill="none"/><path d="M335.15 178.05L338.18 178.17" stroke="#fff" stroke-width="0.9" stroke-linecap="round" opacity="0.21" fill="none"/><path d="M338.18 178.17L341.21 178.31" stroke="#fff" stroke-width="0.9" stroke-linecap="round" opacity="0.11" fill="none"/><path d="M347.27 178.55L350.3 178.85" stroke="#fff" stroke-width="0.9" stroke-linecap="round" opacity="0.22" fill="none"/><path d="M320 185.7C320.5 185.67 322.02 185.6 323.03 185.56C324.04 185.52 325.05 185.52 326.06 185.47C327.07 185.41 328.08 185.29 329.09 185.25C330.1 185.2 331.11 185.19 332.12 185.18C333.13 185.17 334.14 185.15 335.15 185.18C336.16 185.2 337.17 185.31 338.18 185.31C339.19 185.32 340.2 185.23 341.21 185.23C342.22 185.23 343.23 185.25 344.24 185.33C345.25 185.41 346.26 185.64 347.27 185.7C348.28 185.76 349.8 185.71 350.3 185.71" stroke="#fff" stroke-width="1" stroke-linecap="round" opacity="0.29" fill="none"/><path d="M323.03 185.56L326.06 185.47" stroke="#fff" stroke-width="0.9" stroke-linecap="round" opacity="0.24" fill="none"/><path d="M326.06 185.47L329.09 185.25" stroke="#fff" stroke-width="0.9" stroke-linecap="round" opacity="0.25" fill="none"/><path d="M329.09 185.25L332.12 185.18" stroke="#fff" stroke-width="0.9" stroke-linecap="round" opacity="0.13" fill="none"/><path d="M332.12 185.18L335.15 185.18" stroke="#fff" stroke-width="0.9" stroke-linecap="round" opacity="0.23" fill="none"/><path d="M335.15 185.18L338.18 185.31" stroke="#fff" stroke-width="0.9" stroke-linecap="round" opacity="0.14" fill="none"/><path d="M338.18 185.31L341.21 185.23" stroke="#fff" stroke-width="0.9" stroke-linecap="round" opacity="0.26" fill="none"/><path d="M341.21 185.23L344.24 185.33" stroke="#fff" stroke-width="0.9" stroke-linecap="round" opacity="0.12" fill="none"/><path d="M344.24 185.33L347.27 185.7" stroke="#fff" stroke-width="0.9" stroke-linecap="round" opacity="0.13" fill="none"/><path d="M347.27 185.7L350.3 185.71" stroke="#fff" stroke-width="0.9" stroke-linecap="round" opacity="0.18" fill="none"/><path d="M320 154.2C320.67 154.17 323.33 154.03 324 154" stroke="#fff" stroke-width="1" stroke-linecap="round" opacity="0.22" fill="none"/><path d="M344.3 154.1C345.13 154.12 348.47 154.18 349.3 154.2" stroke="#fff" stroke-width="1" stroke-linecap="round" opacity="0.22" fill="none"/><ellipse cx="366.12" cy="183.52" rx="1.11" ry="0.66" opacity="0.2"/><ellipse cx="390.23" cy="180.53" rx="1.06" ry="0.57" opacity="0.17"/><ellipse cx="364.14" cy="167.92" rx="1.44" ry="0.89" opacity="0.23"/><ellipse cx="386.52" cy="174.16" rx="0.62" ry="0.57" opacity="0.15"/><ellipse cx="386.19" cy="159.09" rx="1.05" ry="0.65" opacity="0.23"/><ellipse cx="392.25" cy="174.24" rx="0.79" ry="0.78" opacity="0.24"/><ellipse cx="382.64" cy="166.48" rx="1.2" ry="0.47" opacity="0.21"/><ellipse cx="397.86" cy="171.38" rx="1.46" ry="0.82" opacity="0.13"/><ellipse cx="396.41" cy="174.71" rx="0.84" ry="0.44" opacity="0.14"/><ellipse cx="383.62" cy="176.81" rx="1" ry="0.86" opacity="0.16"/><ellipse cx="379.68" cy="159.62" rx="1.77" ry="0.47" opacity="0.24"/><ellipse cx="382.47" cy="172.72" rx="1.27" ry="0.53" opacity="0.25"/><ellipse cx="398.05" cy="180.43" rx="1.32" ry="0.46" opacity="0.23"/><ellipse cx="373.62" cy="182.81" rx="0.89" ry="0.69" opacity="0.23"/><ellipse cx="370.04" cy="172.34" rx="0.69" ry="0.42" opacity="0.13"/><ellipse cx="397.87" cy="184.08" rx="1.39" ry="0.55" opacity="0.21"/><ellipse cx="389.21" cy="167.35" rx="1.31" ry="0.8" opacity="0.1"/><ellipse cx="370.53" cy="169.94" rx="0.77" ry="0.59" opacity="0.19"/><ellipse cx="369.63" cy="171.49" rx="0.92" ry="0.68" opacity="0.15"/><ellipse cx="385.88" cy="157.04" rx="1.41" ry="0.47" opacity="0.25"/><ellipse cx="384.44" cy="170" rx="1.09" ry="0.71" opacity="0.21"/><ellipse cx="389.92" cy="178.45" rx="1.18" ry="0.9" opacity="0.23"/><ellipse cx="393.29" cy="168.17" rx="1.12" ry="0.68" opacity="0.24"/><ellipse cx="381.86" cy="171.65" rx="1.12" ry="0.85" opacity="0.15"/><ellipse cx="365.5" cy="177.67" rx="1.68" ry="0.77" opacity="0.2"/><ellipse cx="389.71" cy="165.04" rx="1.31" ry="0.43" opacity="0.12"/><ellipse cx="377.38" cy="187.4" rx="1" ry="0.41" opacity="0.27"/><ellipse cx="380.22" cy="187.14" rx="0.91" ry="0.48" opacity="0.17"/><ellipse cx="363.81" cy="187.81" rx="1.57" ry="0.53" opacity="0.31"/><ellipse cx="376.46" cy="187.71" rx="0.82" ry="0.55" opacity="0.24"/><ellipse cx="393.74" cy="187" rx="1.39" ry="0.42" opacity="0.24"/><ellipse cx="395.44" cy="186.9" rx="0.84" ry="0.46" opacity="0.19"/><ellipse cx="363.6" cy="187.8" rx="1.42" ry="0.48" opacity="0.2"/><ellipse cx="382.34" cy="186.95" rx="0.63" ry="0.58" opacity="0.19"/><ellipse cx="379.22" cy="187.83" rx="1.58" ry="0.49" opacity="0.17"/><ellipse cx="371.95" cy="187.82" rx="1.5" ry="0.44" opacity="0.3"/><ellipse cx="374.05" cy="187.37" rx="0.77" ry="0.58" opacity="0.34"/><ellipse cx="368.6" cy="187.53" rx="0.79" ry="0.58" opacity="0.13"/><ellipse cx="372.45" cy="157.5" rx="3.55" ry="1.8" opacity="0.17" transform="rotate(33.34 372.45 157.5)"/><ellipse cx="372.45" cy="157.5" rx="2.75" ry="1.1" opacity="0.26" transform="rotate(33.34 372.45 157.5)"/><ellipse cx="370.83" cy="156.16" rx="1.24" ry="0.75" opacity="0.42" transform="rotate(33.34 370.83 156.16)"/><ellipse cx="372.25" cy="157.73" rx="0.97" ry="0.48" opacity="0.28" transform="rotate(33.34 372.25 157.73)"/><ellipse cx="373.83" cy="158.02" rx="0.81" ry="0.53" opacity="0.4" transform="rotate(33.34 373.83 158.02)"/><ellipse cx="372.78" cy="162.85" rx="8.69" ry="2.1" opacity="0.17" transform="rotate(7.85 372.78 162.85)"/><ellipse cx="372.78" cy="162.85" rx="7.89" ry="1.4" opacity="0.27" transform="rotate(7.85 372.78 162.85)"/><ellipse cx="366.03" cy="162.14" rx="1.23" ry="0.85" opacity="0.29" transform="rotate(7.85 366.03 162.14)"/><ellipse cx="367.34" cy="162.28" rx="0.87" ry="0.88" opacity="0.25" transform="rotate(7.85 367.34 162.28)"/><ellipse cx="369" cy="162.37" rx="1.02" ry="0.61" opacity="0.4" transform="rotate(7.85 369 162.37)"/><ellipse cx="369.69" cy="162.84" rx="0.75" ry="0.71" opacity="0.45" transform="rotate(7.85 369.69 162.84)"/><ellipse cx="371.06" cy="162.69" rx="0.81" ry="0.99" opacity="0.52" transform="rotate(7.85 371.06 162.69)"/><ellipse cx="372.37" cy="163.12" rx="0.93" ry="1.01" opacity="0.37" transform="rotate(7.85 372.37 163.12)"/><ellipse cx="373.94" cy="163.19" rx="0.92" ry="0.88" opacity="0.46" transform="rotate(7.85 373.94 163.19)"/><ellipse cx="375.57" cy="163.68" rx="1.11" ry="0.82" opacity="0.51" transform="rotate(7.85 375.57 163.68)"/><ellipse cx="376.84" cy="162.95" rx="1.06" ry="0.69" opacity="0.36" transform="rotate(7.85 376.84 162.95)"/><ellipse cx="378.72" cy="164.02" rx="0.84" ry="0.81" opacity="0.29" transform="rotate(7.85 378.72 164.02)"/><ellipse cx="379.77" cy="163.21" rx="1.06" ry="0.91" opacity="0.4" transform="rotate(7.85 379.77 163.21)"/><ellipse cx="376.59" cy="163.5" rx="3" ry="1.7" opacity="0.18"/><ellipse cx="376.59" cy="163.5" rx="2.3" ry="1.2" opacity="0.29"/><ellipse cx="376.59" cy="163.5" rx="1.8" ry="0.7" opacity="0.51"/><ellipse cx="369.2" cy="162.3" rx="2.6" ry="1.6" opacity="0.18"/><ellipse cx="369.2" cy="162.3" rx="1.9" ry="1.1" opacity="0.23"/><ellipse cx="369.2" cy="162.3" rx="1.4" ry="0.6" opacity="0.42"/><ellipse cx="377.49" cy="166.8" rx="3.24" ry="1.5" opacity="0.17"/><ellipse cx="377.49" cy="166.8" rx="2.44" ry="0.8" opacity="0.23"/><ellipse cx="376.14" cy="166.56" rx="0.71" ry="0.44" opacity="0.3"/><ellipse cx="377.29" cy="167.01" rx="0.74" ry="0.54" opacity="0.34"/><ellipse cx="379.2" cy="166.62" rx="0.79" ry="0.39" opacity="0.21"/><ellipse cx="377.49" cy="169.7" rx="2" ry="1.8" opacity="0.18"/><ellipse cx="377.49" cy="169.7" rx="1.3" ry="1.3" opacity="0.18"/><ellipse cx="377.49" cy="169.7" rx="0.8" ry="0.8" opacity="0.33"/><ellipse cx="377.49" cy="172.1" rx="1.9" ry="1.6" opacity="0.18"/><ellipse cx="377.49" cy="172.1" rx="1.2" ry="1.1" opacity="0.16"/><ellipse cx="377.49" cy="172.1" rx="0.7" ry="0.6" opacity="0.29"/><ellipse cx="367.52" cy="172.3" rx="4.78" ry="1.8" opacity="0.17" transform="rotate(12.21 367.52 172.3)"/><ellipse cx="367.52" cy="172.3" rx="3.98" ry="1.1" opacity="0.29" transform="rotate(12.21 367.52 172.3)"/><ellipse cx="364.47" cy="171.65" rx="0.86" ry="0.66" opacity="0.27" transform="rotate(12.21 364.47 171.65)"/><ellipse cx="366.13" cy="171.8" rx="0.8" ry="0.69" opacity="0.49" transform="rotate(12.21 366.13 171.8)"/><ellipse cx="367.51" cy="172.27" rx="0.92" ry="0.53" opacity="0.54" transform="rotate(12.21 367.51 172.27)"/><ellipse cx="368.59" cy="172.79" rx="1.29" ry="0.5" opacity="0.38" transform="rotate(12.21 368.59 172.79)"/><ellipse cx="370.42" cy="172.73" rx="1.23" ry="0.5" opacity="0.36" transform="rotate(12.21 370.42 172.73)"/><ellipse cx="367.86" cy="183.4" rx="5.09" ry="1.7" opacity="0.17" transform="rotate(9.85 367.86 183.4)"/><ellipse cx="367.86" cy="183.4" rx="4.29" ry="1" opacity="0.29" transform="rotate(9.85 367.86 183.4)"/><ellipse cx="364.29" cy="182.41" rx="0.72" ry="0.72" opacity="0.47" transform="rotate(9.85 364.29 182.41)"/><ellipse cx="365.87" cy="182.86" rx="1.03" ry="0.48" opacity="0.38" transform="rotate(9.85 365.87 182.86)"/><ellipse cx="367.45" cy="183.2" rx="1.29" ry="0.6" opacity="0.25" transform="rotate(9.85 367.45 183.2)"/><ellipse cx="368.54" cy="183.11" rx="0.91" ry="0.62" opacity="0.5" transform="rotate(9.85 368.54 183.11)"/><ellipse cx="370.18" cy="183.73" rx="0.94" ry="0.67" opacity="0.36" transform="rotate(9.85 370.18 183.73)"/><ellipse cx="371.27" cy="183.89" rx="0.81" ry="0.58" opacity="0.29" transform="rotate(9.85 371.27 183.89)"/><ellipse cx="384.1" cy="178.8" rx="4.92" ry="1.6" opacity="0.17" transform="rotate(39.58 384.1 178.8)"/><ellipse cx="384.1" cy="178.8" rx="4.12" ry="0.9" opacity="0.18" transform="rotate(39.58 384.1 178.8)"/><ellipse cx="381.23" cy="176.54" rx="0.89" ry="0.49" opacity="0.35" transform="rotate(39.58 381.23 176.54)"/><ellipse cx="382.91" cy="177.4" rx="0.93" ry="0.38" opacity="0.29" transform="rotate(39.58 382.91 177.4)"/><ellipse cx="383.37" cy="177.93" rx="0.81" ry="0.43" opacity="0.23" transform="rotate(39.58 383.37 177.93)"/><ellipse cx="384.99" cy="179.24" rx="0.92" ry="0.4" opacity="0.33" transform="rotate(39.58 384.99 179.24)"/><ellipse cx="385.68" cy="180.16" rx="1.24" ry="0.37" opacity="0.21" transform="rotate(39.58 385.68 180.16)"/><ellipse cx="386.3" cy="181.13" rx="0.9" ry="0.58" opacity="0.25" transform="rotate(39.58 386.3 181.13)"/><ellipse cx="393.34" cy="180.7" rx="5.74" ry="1.4" opacity="0.17" transform="rotate(49.45 393.34 180.7)"/><ellipse cx="393.34" cy="180.7" rx="4.94" ry="0.7" opacity="0.12" transform="rotate(49.45 393.34 180.7)"/><ellipse cx="390.4" cy="177.18" rx="0.72" ry="0.3" opacity="0.18" transform="rotate(49.45 390.4 177.18)"/><ellipse cx="391.22" cy="178.31" rx="1.03" ry="0.3" opacity="0.19" transform="rotate(49.45 391.22 178.31)"/><ellipse cx="392.46" cy="179.62" rx="0.79" ry="0.31" opacity="0.14" transform="rotate(49.45 392.46 179.62)"/><ellipse cx="393.39" cy="180.76" rx="1.22" ry="0.32" opacity="0.14" transform="rotate(49.45 393.39 180.76)"/><ellipse cx="393.96" cy="181.36" rx="0.71" ry="0.4" opacity="0.17" transform="rotate(49.45 393.96 181.36)"/><ellipse cx="395.54" cy="182.83" rx="1.1" ry="0.46" opacity="0.13" transform="rotate(49.45 395.54 182.83)"/><ellipse cx="396.18" cy="184.18" rx="1.22" ry="0.32" opacity="0.18" transform="rotate(49.45 396.18 184.18)"/><path d="M393.39 178.3L397.87 181.3" stroke="#fff" stroke-width="1.5" stroke-linecap="round" opacity="0.13" fill="none"/><path d="M393.39 178.3L397.87 181.3" stroke="#fff" stroke-width="0.7" stroke-linecap="round" opacity="0.19" fill="none"/><path d="M392.27 183.5L397.87 186.3" stroke="#fff" stroke-width="1.5" stroke-linecap="round" opacity="0.13" fill="none"/><path d="M392.27 183.5L397.87 186.3" stroke="#fff" stroke-width="0.7" stroke-linecap="round" opacity="0.19" fill="none"/><ellipse cx="383.13" cy="164.6" rx="0.7" ry="0.42" opacity="0.19"/><ellipse cx="387.4" cy="165.85" rx="0.64" ry="0.45" opacity="0.19"/><ellipse cx="390.04" cy="159.9" rx="0.83" ry="0.47" opacity="0.14"/><ellipse cx="387.65" cy="164.5" rx="0.58" ry="0.57" opacity="0.25"/><ellipse cx="391.43" cy="169.5" rx="0.51" ry="0.52" opacity="0.19"/><ellipse cx="382.65" cy="164.18" rx="0.53" ry="0.55" opacity="0.23"/><ellipse cx="389.92" cy="162.76" rx="0.63" ry="0.41" opacity="0.18"/><ellipse cx="397.5" cy="167.08" rx="0.63" ry="0.6" opacity="0.15"/><ellipse cx="389.93" cy="167.97" rx="0.98" ry="0.51" opacity="0.22"/><ellipse cx="398.41" cy="170.79" rx="0.81" ry="0.59" opacity="0.19"/><ellipse cx="370.6" cy="156.6" rx="2.3" ry="1.8" opacity="0.18"/><ellipse cx="370.6" cy="156.6" rx="1.6" ry="1.3" opacity="0.42"/><ellipse cx="370.6" cy="156.6" rx="1.1" ry="0.8" opacity="0.75"/><ellipse cx="378.96" cy="164.18" rx="1.78" ry="0.61" opacity="0.18"/><ellipse cx="396.75" cy="156.87" rx="0.88" ry="0.5" opacity="0.16"/><ellipse cx="376.97" cy="185.69" rx="0.89" ry="0.41" opacity="0.15"/><ellipse cx="388.49" cy="162.9" rx="0.7" ry="0.51" opacity="0.18"/><ellipse cx="372.62" cy="170.85" rx="1.55" ry="0.51" opacity="0.22"/><ellipse cx="384.19" cy="181.21" rx="1.96" ry="0.45" opacity="0.17"/><ellipse cx="395.91" cy="165.32" rx="1.63" ry="0.56" opacity="0.24"/><ellipse cx="398.7" cy="181.01" rx="0.91" ry="0.54" opacity="0.2"/><ellipse cx="384.3" cy="167.04" rx="1.07" ry="0.57" opacity="0.21"/><ellipse cx="372.53" cy="163.35" rx="1.12" ry="0.4" opacity="0.2"/><ellipse cx="368.54" cy="157.64" rx="0.79" ry="0.38" opacity="0.24"/><ellipse cx="368.06" cy="169.56" rx="1.7" ry="0.49" opacity="0.13"/><ellipse cx="395.19" cy="182.4" rx="0.77" ry="0.43" opacity="0.2"/><ellipse cx="392.67" cy="167.74" rx="1.63" ry="0.43" opacity="0.24"/><ellipse cx="375.77" cy="165.95" rx="1.69" ry="0.6" opacity="0.27"/><ellipse cx="384.43" cy="168.61" rx="1.62" ry="0.54" opacity="0.27"/><ellipse cx="392.84" cy="159.54" rx="1.19" ry="0.55" opacity="0.15"/><ellipse cx="370.65" cy="156.12" rx="1.46" ry="0.63" opacity="0.29"/><ellipse cx="368.81" cy="176.81" rx="1.25" ry="0.54" opacity="0.18"/><ellipse cx="397.6" cy="186.06" rx="0.76" ry="0.56" opacity="0.12"/><ellipse cx="365.53" cy="164.48" rx="1.65" ry="0.65" opacity="0.12"/><ellipse cx="375.88" cy="156.51" rx="1.41" ry="0.49" opacity="0.17"/><ellipse cx="375.13" cy="180.27" rx="1.79" ry="0.44" opacity="0.18"/><ellipse cx="386.24" cy="179.2" rx="1.98" ry="0.47" opacity="0.24"/><ellipse cx="383.65" cy="180.27" rx="0.89" ry="0.4" opacity="0.12"/><ellipse cx="397.61" cy="163.42" rx="1.33" ry="0.39" opacity="0.16"/><ellipse cx="364.69" cy="173.07" rx="0.89" ry="0.54" opacity="0.15"/><ellipse cx="372.19" cy="170.5" rx="1.18" ry="0.43" opacity="0.11"/><ellipse cx="366.32" cy="183.1" rx="1.1" ry="0.37" opacity="0.14"/><ellipse cx="381.4" cy="186.31" rx="0.96" ry="0.61" opacity="0.2"/><path d="M412 160.75C412.53 160.74 414.11 160.77 415.17 160.71C416.22 160.65 417.28 160.48 418.33 160.38C419.39 160.28 420.44 160.14 421.5 160.12C422.56 160.1 423.61 160.22 424.67 160.25C425.72 160.28 426.78 160.28 427.83 160.29C428.89 160.31 429.94 160.34 431 160.34C432.06 160.35 433.11 160.26 434.17 160.33C435.22 160.4 436.28 160.66 437.33 160.76C438.39 160.86 439.97 160.9 440.5 160.93" stroke="#fff" stroke-width="1" stroke-linecap="round" opacity="0.32" fill="none"/><path d="M415.17 160.71L418.33 160.38" stroke="#fff" stroke-width="0.9" stroke-linecap="round" opacity="0.29" fill="none"/><path d="M418.33 160.38L421.5 160.12" stroke="#fff" stroke-width="0.9" stroke-linecap="round" opacity="0.15" fill="none"/><path d="M421.5 160.12L424.67 160.25" stroke="#fff" stroke-width="0.9" stroke-linecap="round" opacity="0.15" fill="none"/><path d="M424.67 160.25L427.83 160.29" stroke="#fff" stroke-width="0.9" stroke-linecap="round" opacity="0.13" fill="none"/><path d="M427.83 160.29L431 160.34" stroke="#fff" stroke-width="0.9" stroke-linecap="round" opacity="0.27" fill="none"/><path d="M431 160.34L434.17 160.33" stroke="#fff" stroke-width="0.9" stroke-linecap="round" opacity="0.22" fill="none"/><path d="M434.17 160.33L437.33 160.76" stroke="#fff" stroke-width="0.9" stroke-linecap="round" opacity="0.16" fill="none"/><path d="M412 166.58C412.53 166.59 414.11 166.61 415.17 166.6C416.22 166.59 417.28 166.58 418.33 166.54C419.39 166.51 420.44 166.45 421.5 166.41C422.56 166.38 423.61 166.36 424.67 166.32C425.72 166.29 426.78 166.17 427.83 166.19C428.89 166.2 429.94 166.36 431 166.42C432.06 166.48 433.11 166.5 434.17 166.55C435.22 166.6 436.28 166.63 437.33 166.7C438.39 166.77 439.97 166.93 440.5 166.97" stroke="#fff" stroke-width="1" stroke-linecap="round" opacity="0.32" fill="none"/><path d="M412 166.58L415.17 166.6" stroke="#fff" stroke-width="0.9" stroke-linecap="round" opacity="0.31" fill="none"/><path d="M415.17 166.6L418.33 166.54" stroke="#fff" stroke-width="0.9" stroke-linecap="round" opacity="0.26" fill="none"/><path d="M418.33 166.54L421.5 166.41" stroke="#fff" stroke-width="0.9" stroke-linecap="round" opacity="0.3" fill="none"/><path d="M421.5 166.41L424.67 166.32" stroke="#fff" stroke-width="0.9" stroke-linecap="round" opacity="0.23" fill="none"/><path d="M424.67 166.32L427.83 166.19" stroke="#fff" stroke-width="0.9" stroke-linecap="round" opacity="0.19" fill="none"/><path d="M427.83 166.19L431 166.42" stroke="#fff" stroke-width="0.9" stroke-linecap="round" opacity="0.25" fill="none"/><path d="M434.17 166.55L437.33 166.7" stroke="#fff" stroke-width="0.9" stroke-linecap="round" opacity="0.25" fill="none"/><path d="M437.33 166.7L440.5 166.97" stroke="#fff" stroke-width="0.9" stroke-linecap="round" opacity="0.17" fill="none"/><path d="M412 172.94C412.53 172.87 414.11 172.63 415.17 172.52C416.22 172.4 417.28 172.31 418.33 172.26C419.39 172.21 420.44 172.22 421.5 172.23C422.56 172.24 423.61 172.34 424.67 172.33C425.72 172.31 426.78 172.1 427.83 172.11C428.89 172.12 429.94 172.34 431 172.39C432.06 172.45 433.11 172.39 434.17 172.44C435.22 172.48 436.28 172.63 437.33 172.66C438.39 172.7 439.97 172.65 440.5 172.65" stroke="#fff" stroke-width="1" stroke-linecap="round" opacity="0.32" fill="none"/><path d="M412 172.94L415.17 172.52" stroke="#fff" stroke-width="0.9" stroke-linecap="round" opacity="0.15" fill="none"/><path d="M415.17 172.52L418.33 172.26" stroke="#fff" stroke-width="0.9" stroke-linecap="round" opacity="0.2" fill="none"/><path d="M418.33 172.26L421.5 172.23" stroke="#fff" stroke-width="0.9" stroke-linecap="round" opacity="0.22" fill="none"/><path d="M421.5 172.23L424.67 172.33" stroke="#fff" stroke-width="0.9" stroke-linecap="round" opacity="0.18" fill="none"/><path d="M424.67 172.33L427.83 172.11" stroke="#fff" stroke-width="0.9" stroke-linecap="round" opacity="0.31" fill="none"/><path d="M427.83 172.11L431 172.39" stroke="#fff" stroke-width="0.9" stroke-linecap="round" opacity="0.29" fill="none"/><path d="M431 172.39L434.17 172.44" stroke="#fff" stroke-width="0.9" stroke-linecap="round" opacity="0.27" fill="none"/><path d="M434.17 172.44L437.33 172.66" stroke="#fff" stroke-width="0.9" stroke-linecap="round" opacity="0.32" fill="none"/><path d="M437.33 172.66L440.5 172.65" stroke="#fff" stroke-width="0.9" stroke-linecap="round" opacity="0.31" fill="none"/><path d="M412 179.67C412.53 179.65 414.11 179.58 415.17 179.55C416.22 179.52 417.28 179.57 418.33 179.5C419.39 179.44 420.44 179.23 421.5 179.17C422.56 179.11 423.61 179.12 424.67 179.14C425.72 179.16 426.78 179.24 427.83 179.3C428.89 179.36 429.94 179.47 431 179.47C432.06 179.48 433.11 179.35 434.17 179.35C435.22 179.35 436.28 179.4 437.33 179.46C438.39 179.52 439.97 179.68 440.5 179.72" stroke="#fff" stroke-width="1" stroke-linecap="round" opacity="0.32" fill="none"/><path d="M415.17 179.55L418.33 179.5" stroke="#fff" stroke-width="0.9" stroke-linecap="round" opacity="0.24" fill="none"/><path d="M418.33 179.5L421.5 179.17" stroke="#fff" stroke-width="0.9" stroke-linecap="round" opacity="0.25" fill="none"/><path d="M421.5 179.17L424.67 179.14" stroke="#fff" stroke-width="0.9" stroke-linecap="round" opacity="0.24" fill="none"/><path d="M431 179.47L434.17 179.35" stroke="#fff" stroke-width="0.9" stroke-linecap="round" opacity="0.22" fill="none"/><path d="M434.17 179.35L437.33 179.46" stroke="#fff" stroke-width="0.9" stroke-linecap="round" opacity="0.14" fill="none"/><path d="M412 185.86C412.53 185.81 414.11 185.63 415.17 185.57C416.22 185.51 417.28 185.54 418.33 185.49C419.39 185.44 420.44 185.31 421.5 185.26C422.56 185.21 423.61 185.21 424.67 185.18C425.72 185.16 426.78 185.1 427.83 185.12C428.89 185.15 429.94 185.28 431 185.34C432.06 185.39 433.11 185.41 434.17 185.45C435.22 185.49 436.28 185.57 437.33 185.59C438.39 185.62 439.97 185.59 440.5 185.59" stroke="#fff" stroke-width="1" stroke-linecap="round" opacity="0.32" fill="none"/><path d="M412 185.86L415.17 185.57" stroke="#fff" stroke-width="0.9" stroke-linecap="round" opacity="0.21" fill="none"/><path d="M415.17 185.57L418.33 185.49" stroke="#fff" stroke-width="0.9" stroke-linecap="round" opacity="0.24" fill="none"/><path d="M421.5 185.26L424.67 185.18" stroke="#fff" stroke-width="0.9" stroke-linecap="round" opacity="0.21" fill="none"/><path d="M427.83 185.12L431 185.34" stroke="#fff" stroke-width="0.9" stroke-linecap="round" opacity="0.18" fill="none"/><path d="M431 185.34L434.17 185.45" stroke="#fff" stroke-width="0.9" stroke-linecap="round" opacity="0.32" fill="none"/><path d="M434.17 185.45L437.33 185.59" stroke="#fff" stroke-width="0.9" stroke-linecap="round" opacity="0.29" fill="none"/><path d="M437.33 185.59L440.5 185.59" stroke="#fff" stroke-width="0.9" stroke-linecap="round" opacity="0.32" fill="none"/><path d="M412 154.2C412.67 154.17 415.33 154.03 416 154" stroke="#fff" stroke-width="1" stroke-linecap="round" opacity="0.22" fill="none"/><path d="M434.5 154.1C435.33 154.12 438.67 154.18 439.5 154.2" stroke="#fff" stroke-width="1" stroke-linecap="round" opacity="0.22" fill="none"/></g></g></g>
<clipPath id="c2754"><rect x="254.2" y="212.7" width="193.6" height="33.6"/></clipPath><g clip-path="url(#c2754)"><g filter="url(#jet)"><rect x="251.2" y="209.7" width="199.6" height="39.6" fill="#000"/><g fill="#fff"><ellipse cx="257.07" cy="235.83" rx="1.59" ry="0.6" opacity="0.16"/><ellipse cx="256.84" cy="218.45" rx="0.99" ry="0.57" opacity="0.15"/><ellipse cx="259.25" cy="220.61" rx="1.08" ry="0.48" opacity="0.32"/><ellipse cx="259.87" cy="214.17" rx="1.06" ry="0.39" opacity="0.33"/><ellipse cx="261.48" cy="239.74" rx="1.77" ry="0.57" opacity="0.35"/><ellipse cx="261.35" cy="221.99" rx="1.8" ry="0.5" opacity="0.3"/><ellipse cx="259.51" cy="227.58" rx="1.17" ry="0.48" opacity="0.2"/><ellipse cx="255.94" cy="240.17" rx="1.74" ry="0.65" opacity="0.29"/><ellipse cx="259.43" cy="237.87" rx="0.88" ry="0.55" opacity="0.23"/><ellipse cx="256.41" cy="220.24" rx="1.38" ry="0.43" opacity="0.23"/><ellipse cx="259.84" cy="226.48" rx="0.87" ry="0.5" opacity="0.18"/><ellipse cx="256.89" cy="219.98" rx="1.18" ry="0.37" opacity="0.28"/><ellipse cx="262.63" cy="226.29" rx="1.63" ry="0.63" opacity="0.13"/><ellipse cx="256.13" cy="239.74" rx="1.79" ry="0.54" opacity="0.16"/><ellipse cx="258.31" cy="241.74" rx="1.85" ry="0.59" opacity="0.17"/><ellipse cx="261.83" cy="225.8" rx="1.63" ry="0.39" opacity="0.35"/><ellipse cx="259.83" cy="237.04" rx="0.98" ry="0.54" opacity="0.26"/><ellipse cx="259.73" cy="225.31" rx="1.65" ry="0.45" opacity="0.19"/><ellipse cx="256.32" cy="235.79" rx="0.85" ry="0.42" opacity="0.14"/><ellipse cx="260.15" cy="231.66" rx="1.41" ry="0.36" opacity="0.23"/><ellipse cx="257.74" cy="216.69" rx="0.7" ry="0.65" opacity="0.15"/><ellipse cx="257.41" cy="222.39" rx="1.48" ry="0.37" opacity="0.23"/><ellipse cx="260.3" cy="214.6" rx="4.7" ry="1.4" opacity="0.17"/><ellipse cx="260.3" cy="214.6" rx="3.9" ry="0.7" opacity="0.25"/><ellipse cx="257.42" cy="214.3" rx="0.9" ry="0.37" opacity="0.47"/><ellipse cx="258.82" cy="214.7" rx="0.88" ry="0.28" opacity="0.35"/><ellipse cx="260.81" cy="214.45" rx="1.11" ry="0.45" opacity="0.28"/><ellipse cx="261.77" cy="214.45" rx="0.87" ry="0.31" opacity="0.3"/><ellipse cx="262.79" cy="214.35" rx="1.15" ry="0.4" opacity="0.21"/><ellipse cx="260.2" cy="219" rx="5.4" ry="1.9" opacity="0.17"/><ellipse cx="260.2" cy="219" rx="4.6" ry="1.2" opacity="0.48"/><ellipse cx="256.59" cy="218.98" rx="1.03" ry="0.62" opacity="0.55"/><ellipse cx="257.72" cy="219.4" rx="0.77" ry="0.81" opacity="0.52"/><ellipse cx="259.23" cy="218.49" rx="0.78" ry="0.63" opacity="0.63"/><ellipse cx="261.56" cy="218.5" rx="1.02" ry="0.54" opacity="0.82"/><ellipse cx="262.48" cy="219.05" rx="0.78" ry="0.5" opacity="0.53"/><ellipse cx="263.98" cy="218.98" rx="0.92" ry="0.63" opacity="0.82"/><ellipse cx="267.5" cy="221.3" rx="4.52" ry="2" opacity="0.17" transform="rotate(34.59 267.5 221.3)"/><ellipse cx="267.5" cy="221.3" rx="3.72" ry="1.3" opacity="0.5" transform="rotate(34.59 267.5 221.3)"/><ellipse cx="265.11" cy="219.76" rx="1.26" ry="0.76" opacity="0.92" transform="rotate(34.59 265.11 219.76)"/><ellipse cx="266.34" cy="220.62" rx="1.2" ry="0.92" opacity="0.48" transform="rotate(34.59 266.34 220.62)"/><ellipse cx="267.27" cy="221.5" rx="1.02" ry="0.67" opacity="0.94" transform="rotate(34.59 267.27 221.5)"/><ellipse cx="268.27" cy="221.47" rx="0.72" ry="0.85" opacity="0.48" transform="rotate(34.59 268.27 221.47)"/><ellipse cx="270.19" cy="223.6" rx="1.19" ry="0.72" opacity="0.76" transform="rotate(34.59 270.19 223.6)"/><ellipse cx="270" cy="226.3" rx="4.06" ry="2.2" opacity="0.17" transform="rotate(101.31 270 226.3)"/><ellipse cx="270" cy="226.3" rx="3.26" ry="1.5" opacity="0.53" transform="rotate(101.31 270 226.3)"/><ellipse cx="270.52" cy="224.06" rx="1.16" ry="0.68" opacity="0.61" transform="rotate(101.31 270.52 224.06)"/><ellipse cx="270.04" cy="225.67" rx="1.17" ry="0.85" opacity="0.44" transform="rotate(101.31 270.04 225.67)"/><ellipse cx="269.79" cy="226.39" rx="1.26" ry="0.75" opacity="0.92" transform="rotate(101.31 269.79 226.39)"/><ellipse cx="269.44" cy="229.56" rx="1.16" ry="0.87" opacity="0.58" transform="rotate(101.31 269.44 229.56)"/><ellipse cx="269.6" cy="226.3" rx="2.4" ry="2.6" opacity="0.18"/><ellipse cx="269.6" cy="226.3" rx="1.7" ry="2.1" opacity="0.5"/><ellipse cx="269.6" cy="226.3" rx="1.2" ry="1.6" opacity="0.9"/><ellipse cx="258.9" cy="229.6" rx="4.1" ry="1.6" opacity="0.17"/><ellipse cx="258.9" cy="229.6" rx="3.3" ry="0.9" opacity="0.46"/><ellipse cx="256.78" cy="229.63" rx="0.82" ry="0.47" opacity="0.62"/><ellipse cx="257.88" cy="229.23" rx="1.19" ry="0.41" opacity="0.44"/><ellipse cx="259.64" cy="229.91" rx="1" ry="0.51" opacity="0.8"/><ellipse cx="261.11" cy="229.72" rx="0.96" ry="0.63" opacity="0.4"/><ellipse cx="259.1" cy="240.4" rx="4.5" ry="1.6" opacity="0.17"/><ellipse cx="259.1" cy="240.4" rx="3.7" ry="0.9" opacity="0.46"/><ellipse cx="256.39" cy="240.67" rx="0.79" ry="0.38" opacity="0.63"/><ellipse cx="257.91" cy="240.39" rx="1.06" ry="0.43" opacity="0.65"/><ellipse cx="258.66" cy="240.61" rx="0.9" ry="0.42" opacity="0.41"/><ellipse cx="260.62" cy="240.73" rx="1.14" ry="0.39" opacity="0.84"/><ellipse cx="262.45" cy="240.67" rx="1.11" ry="0.56" opacity="0.72"/><ellipse cx="258" cy="234.5" rx="3" ry="1.3" opacity="0.17"/><ellipse cx="258" cy="234.5" rx="2.2" ry="0.6" opacity="0.21"/><ellipse cx="256.59" cy="234.32" rx="1.14" ry="0.4" opacity="0.19"/><ellipse cx="258.18" cy="234.51" rx="1.17" ry="0.45" opacity="0.26"/><ellipse cx="259.58" cy="234.54" rx="0.95" ry="0.47" opacity="0.28"/><ellipse cx="275.2" cy="235.6" rx="4.47" ry="1.7" opacity="0.17" transform="rotate(41.5 275.2 235.6)"/><ellipse cx="275.2" cy="235.6" rx="3.67" ry="1" opacity="0.34" transform="rotate(41.5 275.2 235.6)"/><ellipse cx="273.31" cy="234.16" rx="1.25" ry="0.62" opacity="0.42" transform="rotate(41.5 273.31 234.16)"/><ellipse cx="273.88" cy="234.37" rx="1.19" ry="0.65" opacity="0.64" transform="rotate(41.5 273.88 234.37)"/><ellipse cx="275.11" cy="235.63" rx="1.15" ry="0.43" opacity="0.36" transform="rotate(41.5 275.11 235.63)"/><ellipse cx="275.91" cy="236.14" rx="1.28" ry="0.47" opacity="0.62" transform="rotate(41.5 275.91 236.14)"/><ellipse cx="276.97" cy="237.75" rx="0.75" ry="0.44" opacity="0.33" transform="rotate(41.5 276.97 237.75)"/><path d="M280 231.3L286.6 240.3" stroke="#fff" stroke-width="0.7" stroke-linecap="round" opacity="0.3" fill="none"/><path d="M281.6 232.3L288 241.5" stroke="#fff" stroke-width="0.7" stroke-linecap="round" opacity="0.3" fill="none"/><path d="M283.2 233.3L289.4 242.7" stroke="#fff" stroke-width="0.7" stroke-linecap="round" opacity="0.3" fill="none"/><ellipse cx="280" cy="244.5" rx="4.16" ry="1.3" opacity="0.17" transform="rotate(18.43 280 244.5)"/><ellipse cx="280" cy="244.5" rx="3.36" ry="0.6" opacity="0.21" transform="rotate(18.43 280 244.5)"/><ellipse cx="277.29" cy="243.48" rx="0.8" ry="0.27" opacity="0.33" transform="rotate(18.43 277.29 243.48)"/><ellipse cx="278.68" cy="244.15" rx="1.23" ry="0.41" opacity="0.33" transform="rotate(18.43 278.68 244.15)"/><ellipse cx="281.11" cy="244.99" rx="0.79" ry="0.28" opacity="0.31" transform="rotate(18.43 281.11 244.99)"/><ellipse cx="282.28" cy="245.4" rx="0.8" ry="0.42" opacity="0.27" transform="rotate(18.43 282.28 245.4)"/><ellipse cx="285.8" cy="225.5" rx="1.8" ry="1" opacity="0.3"/><ellipse cx="293" cy="225.5" rx="1.3" ry="1.2" opacity="0.3"/><ellipse cx="292.4" cy="229.9" rx="1.6" ry="0.8" opacity="0.28"/><ellipse cx="275.5" cy="218.2" rx="1.2" ry="1.2" opacity="0.24"/><ellipse cx="280.7" cy="216.8" rx="1.4" ry="0.9" opacity="0.24"/><ellipse cx="281.75" cy="219.1" rx="0.7" ry="0.57" opacity="0.19"/><ellipse cx="289.51" cy="219.74" rx="1" ry="0.43" opacity="0.2"/><ellipse cx="277.57" cy="230.14" rx="1.18" ry="0.48" opacity="0.23"/><ellipse cx="278.51" cy="220.2" rx="0.57" ry="0.53" opacity="0.12"/><ellipse cx="286.27" cy="225.06" rx="0.79" ry="0.61" opacity="0.14"/><ellipse cx="280.31" cy="221.24" rx="0.5" ry="0.67" opacity="0.11"/><ellipse cx="276.62" cy="229.06" rx="1.07" ry="0.53" opacity="0.17"/><ellipse cx="277.23" cy="214.72" rx="0.86" ry="0.47" opacity="0.12"/><ellipse cx="289.49" cy="215.05" rx="0.75" ry="0.63" opacity="0.22"/><ellipse cx="276.71" cy="228.06" rx="0.89" ry="0.59" opacity="0.25"/><ellipse cx="316" cy="229.7" rx="6.5" ry="16" opacity="0.14"/><ellipse cx="320.18" cy="233.06" rx="1.7" ry="0.5" opacity="0.29"/><ellipse cx="320.44" cy="233.71" rx="1.19" ry="0.36" opacity="0.36"/><ellipse cx="313.76" cy="227.56" rx="1.07" ry="0.52" opacity="0.25"/><ellipse cx="320.68" cy="232.89" rx="1.43" ry="0.58" opacity="0.26"/><ellipse cx="316.51" cy="237.94" rx="1.64" ry="0.57" opacity="0.39"/><ellipse cx="316.81" cy="231.63" rx="0.94" ry="0.42" opacity="0.26"/><ellipse cx="315.98" cy="242.75" rx="0.76" ry="0.45" opacity="0.35"/><ellipse cx="315.43" cy="241.1" rx="0.91" ry="0.58" opacity="0.26"/><ellipse cx="316.95" cy="215.54" rx="1.22" ry="0.59" opacity="0.35"/><ellipse cx="316.9" cy="227.36" rx="0.75" ry="0.56" opacity="0.26"/><ellipse cx="319.14" cy="233.47" rx="1.22" ry="0.61" opacity="0.18"/><ellipse cx="322.43" cy="216.48" rx="1.96" ry="0.53" opacity="0.27"/><ellipse cx="322.1" cy="230.25" rx="1.36" ry="0.37" opacity="0.36"/><ellipse cx="317.95" cy="221.44" rx="0.85" ry="0.48" opacity="0.4"/><ellipse cx="321.19" cy="228.73" rx="0.75" ry="0.6" opacity="0.2"/><ellipse cx="319.23" cy="229.83" rx="1.95" ry="0.39" opacity="0.36"/><ellipse cx="319.08" cy="214.26" rx="1.43" ry="0.44" opacity="0.33"/><ellipse cx="322.46" cy="235.22" rx="1.34" ry="0.53" opacity="0.21"/><ellipse cx="315.55" cy="217.46" rx="1.64" ry="0.37" opacity="0.29"/><ellipse cx="311.51" cy="231.89" rx="0.77" ry="0.36" opacity="0.31"/><ellipse cx="319.07" cy="242.39" rx="1.58" ry="0.65" opacity="0.18"/><ellipse cx="317.8" cy="234.25" rx="0.93" ry="0.39" opacity="0.21"/><ellipse cx="316.33" cy="239.13" rx="1.62" ry="0.52" opacity="0.16"/><ellipse cx="319.11" cy="230.25" rx="0.92" ry="0.54" opacity="0.21"/><ellipse cx="313.32" cy="228.28" rx="1.68" ry="0.38" opacity="0.26"/><ellipse cx="312.29" cy="235.37" rx="1.76" ry="0.43" opacity="0.34"/><ellipse cx="315.5" cy="220.73" rx="1.06" ry="0.51" opacity="0.37"/><ellipse cx="317.43" cy="213.72" rx="1.72" ry="0.52" opacity="0.26"/><ellipse cx="312.38" cy="227.94" rx="1.6" ry="0.43" opacity="0.18"/><ellipse cx="321.3" cy="227.98" rx="0.79" ry="0.62" opacity="0.17"/><ellipse cx="314.11" cy="233.7" rx="1.56" ry="0.62" opacity="0.19"/><ellipse cx="316.97" cy="242.1" rx="1.31" ry="0.56" opacity="0.27"/><ellipse cx="319.03" cy="244.64" rx="1.14" ry="0.57" opacity="0.24"/><ellipse cx="321.43" cy="238.38" rx="1.82" ry="0.61" opacity="0.31"/><ellipse cx="322.31" cy="218.72" rx="1.45" ry="0.37" opacity="0.3"/><ellipse cx="318.62" cy="222.91" rx="1.76" ry="0.48" opacity="0.2"/><ellipse cx="311.71" cy="232.37" rx="1.2" ry="0.36" opacity="0.23"/><ellipse cx="322.64" cy="228.96" rx="1.59" ry="0.48" opacity="0.16"/><ellipse cx="317.57" cy="220.49" rx="0.86" ry="0.54" opacity="0.33"/><ellipse cx="309.15" cy="244.26" rx="0.73" ry="0.4" opacity="0.23"/><ellipse cx="320.16" cy="237.68" rx="1.67" ry="0.48" opacity="0.4"/><ellipse cx="310.87" cy="244.74" rx="0.77" ry="0.4" opacity="0.35"/><ellipse cx="319.78" cy="235.44" rx="1.02" ry="0.61" opacity="0.28"/><ellipse cx="311.89" cy="216.82" rx="1.99" ry="0.37" opacity="0.2"/><ellipse cx="313.99" cy="242.55" rx="1.78" ry="0.6" opacity="0.32"/><ellipse cx="309.16" cy="237.54" rx="0.95" ry="0.63" opacity="0.41"/><ellipse cx="309.92" cy="237.32" rx="1.01" ry="0.38" opacity="0.38"/><ellipse cx="315.19" cy="223.22" rx="1.43" ry="0.37" opacity="0.26"/><ellipse cx="318.09" cy="241.62" rx="0.86" ry="0.62" opacity="0.17"/><ellipse cx="311.89" cy="224.48" rx="0.92" ry="0.38" opacity="0.32"/><ellipse cx="314.58" cy="219.83" rx="1.37" ry="0.39" opacity="0.33"/><ellipse cx="322.5" cy="228.79" rx="1.25" ry="0.47" opacity="0.24"/><ellipse cx="314.79" cy="219.46" rx="1.09" ry="0.56" opacity="0.27"/><ellipse cx="309.95" cy="218.39" rx="1.79" ry="0.46" opacity="0.37"/><ellipse cx="317.64" cy="233.9" rx="1.16" ry="0.52" opacity="0.26"/><ellipse cx="316.23" cy="244.22" rx="0.84" ry="0.41" opacity="0.39"/><ellipse cx="321.98" cy="239.95" rx="1.82" ry="0.38" opacity="0.34"/><ellipse cx="310.74" cy="241.09" rx="1.21" ry="0.5" opacity="0.29"/><ellipse cx="311.88" cy="231.99" rx="1.82" ry="0.48" opacity="0.26"/><ellipse cx="314.13" cy="219.86" rx="1.07" ry="0.6" opacity="0.41"/><ellipse cx="314.24" cy="222.98" rx="1.14" ry="0.61" opacity="0.21"/><ellipse cx="311.56" cy="223.88" rx="0.81" ry="0.39" opacity="0.2"/><ellipse cx="318.12" cy="243.71" rx="1.04" ry="0.44" opacity="0.3"/><ellipse cx="309.42" cy="216.58" rx="1.45" ry="0.49" opacity="0.24"/><ellipse cx="314.81" cy="214.33" rx="1.04" ry="0.4" opacity="0.21"/><ellipse cx="309.98" cy="240.05" rx="0.72" ry="0.47" opacity="0.19"/><ellipse cx="311.85" cy="238.23" rx="1.95" ry="0.64" opacity="0.23"/><ellipse cx="316.58" cy="227.64" rx="0.8" ry="0.48" opacity="0.31"/><ellipse cx="314.58" cy="239.05" rx="1.28" ry="0.44" opacity="0.39"/><ellipse cx="316.98" cy="221.94" rx="1.88" ry="0.49" opacity="0.31"/><ellipse cx="343.65" cy="241.44" rx="1.65" ry="0.48" opacity="0.18"/><ellipse cx="349.91" cy="240.75" rx="1.48" ry="0.61" opacity="0.22"/><ellipse cx="342.55" cy="223.93" rx="1.05" ry="0.4" opacity="0.3"/><ellipse cx="345.38" cy="216.4" rx="0.97" ry="0.48" opacity="0.28"/><ellipse cx="351.63" cy="238.23" rx="1.08" ry="0.48" opacity="0.31"/><ellipse cx="341.98" cy="234.68" rx="0.77" ry="0.49" opacity="0.21"/><ellipse cx="352.73" cy="244.73" rx="1.68" ry="0.45" opacity="0.29"/><ellipse cx="352.86" cy="216.16" rx="1.25" ry="0.52" opacity="0.17"/><ellipse cx="338.96" cy="239.05" rx="0.97" ry="0.52" opacity="0.1"/><ellipse cx="343.51" cy="244.85" rx="0.7" ry="0.38" opacity="0.3"/><ellipse cx="352.84" cy="230.04" rx="1.08" ry="0.44" opacity="0.26"/><ellipse cx="345.96" cy="228.12" rx="1.6" ry="0.38" opacity="0.19"/><ellipse cx="352.09" cy="243.16" rx="1.33" ry="0.58" opacity="0.29"/><ellipse cx="344.74" cy="218.31" rx="0.84" ry="0.55" opacity="0.18"/><ellipse cx="344.85" cy="215.06" rx="1.93" ry="0.43" opacity="0.24"/><ellipse cx="346.82" cy="225.2" rx="0.97" ry="0.52" opacity="0.17"/><ellipse cx="335.58" cy="219.39" rx="0.75" ry="0.62" opacity="0.14"/><ellipse cx="352.94" cy="233.69" rx="1.94" ry="0.49" opacity="0.16"/><ellipse cx="335.74" cy="233.77" rx="1.6" ry="0.55" opacity="0.3"/><ellipse cx="336.03" cy="234.54" rx="1.61" ry="0.63" opacity="0.16"/><ellipse cx="353.18" cy="214.53" rx="1.47" ry="0.45" opacity="0.21"/><ellipse cx="337.59" cy="226.12" rx="1.15" ry="0.49" opacity="0.19"/><ellipse cx="338.5" cy="219.15" rx="1.31" ry="0.65" opacity="0.29"/><ellipse cx="337.09" cy="234.18" rx="0.89" ry="0.45" opacity="0.32"/><ellipse cx="340.98" cy="217.01" rx="1.43" ry="0.53" opacity="0.21"/><ellipse cx="353.52" cy="230.26" rx="1.17" ry="0.41" opacity="0.23"/><ellipse cx="349.33" cy="229.96" rx="1.21" ry="0.43" opacity="0.29"/><ellipse cx="354.43" cy="232.6" rx="1.62" ry="0.45" opacity="0.13"/><ellipse cx="335.17" cy="233.63" rx="1.89" ry="0.56" opacity="0.25"/><ellipse cx="351.7" cy="227.01" rx="1.26" ry="0.43" opacity="0.28"/><ellipse cx="348.22" cy="230.62" rx="1.71" ry="0.62" opacity="0.11"/><ellipse cx="338.53" cy="228.8" rx="1.63" ry="0.42" opacity="0.2"/><ellipse cx="347.67" cy="223.2" rx="1.57" ry="0.37" opacity="0.19"/><ellipse cx="347.16" cy="241.59" rx="1.36" ry="0.55" opacity="0.25"/><ellipse cx="347.34" cy="228.28" rx="1.11" ry="0.39" opacity="0.3"/><ellipse cx="349.97" cy="234.74" rx="1.68" ry="0.44" opacity="0.14"/><ellipse cx="344.97" cy="228.8" rx="1.54" ry="0.61" opacity="0.19"/><ellipse cx="341.7" cy="236.46" rx="1.85" ry="0.52" opacity="0.23"/><ellipse cx="352.37" cy="243.43" rx="0.76" ry="0.64" opacity="0.12"/><ellipse cx="345.36" cy="229.85" rx="1.97" ry="0.42" opacity="0.11"/><ellipse cx="353.75" cy="228.46" rx="1.3" ry="0.48" opacity="0.16"/><ellipse cx="334.6" cy="231.67" rx="0.98" ry="0.5" opacity="0.32"/><ellipse cx="354.26" cy="223.66" rx="1.13" ry="0.39" opacity="0.23"/><ellipse cx="337.69" cy="217.78" rx="1.89" ry="0.52" opacity="0.3"/><ellipse cx="338.42" cy="219.41" rx="1.45" ry="0.56" opacity="0.14"/><ellipse cx="344.34" cy="231.85" rx="1.35" ry="0.44" opacity="0.2"/><ellipse cx="336.27" cy="216.88" rx="0.78" ry="0.6" opacity="0.15"/><ellipse cx="347.9" cy="217.41" rx="1.85" ry="0.36" opacity="0.28"/><ellipse cx="344.95" cy="243.03" rx="1.86" ry="0.35" opacity="0.11"/><ellipse cx="339.13" cy="215.12" rx="1.82" ry="0.39" opacity="0.25"/><ellipse cx="353.47" cy="236.38" rx="1.99" ry="0.54" opacity="0.19"/><ellipse cx="354.05" cy="220.7" rx="1.42" ry="0.47" opacity="0.22"/><ellipse cx="340.14" cy="244.71" rx="1.99" ry="0.56" opacity="0.21"/><ellipse cx="353.59" cy="244.3" rx="0.76" ry="0.62" opacity="0.12"/><ellipse cx="335.92" cy="221.87" rx="1.18" ry="0.5" opacity="0.31"/><ellipse cx="337.08" cy="234.59" rx="1.35" ry="0.39" opacity="0.32"/><ellipse cx="352.86" cy="224.87" rx="1.83" ry="0.49" opacity="0.25"/><ellipse cx="353.12" cy="234.34" rx="1.17" ry="0.37" opacity="0.2"/><ellipse cx="345.92" cy="222.51" rx="1.45" ry="0.35" opacity="0.16"/><ellipse cx="343.92" cy="229.27" rx="1.62" ry="0.42" opacity="0.16"/><ellipse cx="349.09" cy="222.86" rx="0.9" ry="0.54" opacity="0.18"/><ellipse cx="346.14" cy="245" rx="1.96" ry="0.59" opacity="0.31"/><ellipse cx="350.34" cy="225.32" rx="1.91" ry="0.39" opacity="0.15"/><ellipse cx="344.42" cy="217.69" rx="1.48" ry="0.51" opacity="0.15"/><ellipse cx="349.31" cy="216.4" rx="1.33" ry="0.43" opacity="0.31"/><ellipse cx="336.98" cy="225.99" rx="1.63" ry="0.44" opacity="0.28"/><ellipse cx="336.33" cy="216.15" rx="0.72" ry="0.52" opacity="0.21"/><ellipse cx="345.03" cy="228.95" rx="1.84" ry="0.41" opacity="0.13"/><ellipse cx="339.11" cy="240.61" rx="1.75" ry="0.38" opacity="0.1"/><ellipse cx="354.38" cy="244.99" rx="1.06" ry="0.51" opacity="0.11"/><path d="M338 220.7L344 230.7" stroke="#fff" stroke-width="0.7" stroke-linecap="round" opacity="0.24" fill="none"/><path d="M342 223.7L348 234.7" stroke="#fff" stroke-width="0.7" stroke-linecap="round" opacity="0.24" fill="none"/><path d="M346 226.7L352 238.7" stroke="#fff" stroke-width="0.7" stroke-linecap="round" opacity="0.24" fill="none"/><path d="M350 229.7L356 242.7" stroke="#fff" stroke-width="0.7" stroke-linecap="round" opacity="0.24" fill="none"/><ellipse cx="315.8" cy="225.5" rx="4.8" ry="1.5" opacity="0.17"/><ellipse cx="315.8" cy="225.5" rx="4" ry="0.8" opacity="0.4"/><ellipse cx="312.57" cy="225.63" rx="0.79" ry="0.45" opacity="0.47"/><ellipse cx="314.53" cy="225.52" rx="1.28" ry="0.49" opacity="0.43"/><ellipse cx="315.76" cy="225.69" rx="0.79" ry="0.51" opacity="0.46"/><ellipse cx="317.62" cy="225.79" rx="0.8" ry="0.35" opacity="0.45"/><ellipse cx="319.22" cy="225.61" rx="1.16" ry="0.52" opacity="0.54"/><ellipse cx="315.1" cy="234.3" rx="4.5" ry="1.5" opacity="0.17"/><ellipse cx="315.1" cy="234.3" rx="3.7" ry="0.8" opacity="0.38"/><ellipse cx="312.37" cy="234.38" rx="1.23" ry="0.56" opacity="0.5"/><ellipse cx="313.35" cy="234.36" rx="0.89" ry="0.39" opacity="0.52"/><ellipse cx="315.4" cy="234.27" rx="1.09" ry="0.47" opacity="0.69"/><ellipse cx="316.86" cy="234.12" rx="1.21" ry="0.32" opacity="0.64"/><ellipse cx="317.56" cy="234.14" rx="0.8" ry="0.5" opacity="0.37"/><ellipse cx="314.1" cy="243.1" rx="4.5" ry="1.5" opacity="0.17"/><ellipse cx="314.1" cy="243.1" rx="3.7" ry="0.8" opacity="0.36"/><ellipse cx="311.2" cy="242.9" rx="0.94" ry="0.45" opacity="0.55"/><ellipse cx="312.8" cy="242.77" rx="0.82" ry="0.41" opacity="0.53"/><ellipse cx="314.46" cy="243" rx="1.08" ry="0.48" opacity="0.36"/><ellipse cx="315.35" cy="243.17" rx="1.02" ry="0.35" opacity="0.38"/><ellipse cx="316.51" cy="243.29" rx="1.24" ry="0.49" opacity="0.38"/><ellipse cx="314" cy="217.7" rx="4" ry="1.5" opacity="0.17"/><ellipse cx="314" cy="217.7" rx="3.2" ry="0.8" opacity="0.23"/><ellipse cx="311.55" cy="217.5" rx="0.85" ry="0.46" opacity="0.34"/><ellipse cx="313.08" cy="217.7" rx="1.15" ry="0.53" opacity="0.28"/><ellipse cx="314.93" cy="217.38" rx="1.06" ry="0.34" opacity="0.39"/><ellipse cx="316.15" cy="217.38" rx="1.26" ry="0.39" opacity="0.34"/><ellipse cx="324.5" cy="219.8" rx="5.52" ry="1.9" opacity="0.17" transform="rotate(24.86 324.5 219.8)"/><ellipse cx="324.5" cy="219.8" rx="4.72" ry="1.2" opacity="0.5" transform="rotate(24.86 324.5 219.8)"/><ellipse cx="321.08" cy="217.81" rx="1.13" ry="0.62" opacity="0.65" transform="rotate(24.86 321.08 217.81)"/><ellipse cx="322.96" cy="218.73" rx="0.9" ry="0.79" opacity="0.66" transform="rotate(24.86 322.96 218.73)"/><ellipse cx="324.06" cy="219.14" rx="0.87" ry="0.84" opacity="0.73" transform="rotate(24.86 324.06 219.14)"/><ellipse cx="325.77" cy="220.5" rx="0.81" ry="0.65" opacity="0.43" transform="rotate(24.86 325.77 220.5)"/><ellipse cx="326.25" cy="221.17" rx="0.79" ry="0.63" opacity="0.43" transform="rotate(24.86 326.25 221.17)"/><ellipse cx="327.75" cy="221.15" rx="1" ry="0.81" opacity="0.8" transform="rotate(24.86 327.75 221.15)"/><ellipse cx="328.9" cy="225.7" rx="4.63" ry="1.9" opacity="0.17" transform="rotate(97.91 328.9 225.7)"/><ellipse cx="328.9" cy="225.7" rx="3.83" ry="1.2" opacity="0.5" transform="rotate(97.91 328.9 225.7)"/><ellipse cx="329.48" cy="222.77" rx="1.05" ry="0.69" opacity="0.91" transform="rotate(97.91 329.48 222.77)"/><ellipse cx="328.82" cy="224.72" rx="1.1" ry="0.6" opacity="0.84" transform="rotate(97.91 328.82 224.72)"/><ellipse cx="328.99" cy="226.05" rx="1.2" ry="0.53" opacity="0.45" transform="rotate(97.91 328.99 226.05)"/><ellipse cx="328.72" cy="227.21" rx="1.09" ry="0.69" opacity="0.62" transform="rotate(97.91 328.72 227.21)"/><ellipse cx="328.51" cy="228.46" rx="1.05" ry="0.67" opacity="0.85" transform="rotate(97.91 328.51 228.46)"/><ellipse cx="328.6" cy="228.3" rx="2.2" ry="2.2" opacity="0.18"/><ellipse cx="328.6" cy="228.3" rx="1.5" ry="1.7" opacity="0.46"/><ellipse cx="328.6" cy="228.3" rx="1" ry="1.2" opacity="0.83"/><ellipse cx="332.8" cy="235.1" rx="3.56" ry="1.6" opacity="0.17" transform="rotate(38.66 332.8 235.1)"/><ellipse cx="332.8" cy="235.1" rx="2.76" ry="0.9" opacity="0.32" transform="rotate(38.66 332.8 235.1)"/><ellipse cx="331.92" cy="234.37" rx="1.01" ry="0.55" opacity="0.36" transform="rotate(38.66 331.92 234.37)"/><ellipse cx="333.14" cy="234.83" rx="0.96" ry="0.48" opacity="0.5" transform="rotate(38.66 333.14 234.83)"/><ellipse cx="334" cy="235.66" rx="1.28" ry="0.38" opacity="0.48" transform="rotate(38.66 334 235.66)"/><ellipse cx="340.5" cy="244.5" rx="4.7" ry="1.3" opacity="0.17" transform="rotate(18.92 340.5 244.5)"/><ellipse cx="340.5" cy="244.5" rx="3.9" ry="0.6" opacity="0.21" transform="rotate(18.92 340.5 244.5)"/><ellipse cx="337.94" cy="243.5" rx="0.92" ry="0.46" opacity="0.28" transform="rotate(18.92 337.94 243.5)"/><ellipse cx="339.43" cy="244.03" rx="1.19" ry="0.4" opacity="0.36" transform="rotate(18.92 339.43 244.03)"/><ellipse cx="340.38" cy="244.4" rx="0.87" ry="0.32" opacity="0.31" transform="rotate(18.92 340.38 244.4)"/><ellipse cx="341.75" cy="244.72" rx="1.29" ry="0.37" opacity="0.22" transform="rotate(18.92 341.75 244.72)"/><ellipse cx="343.19" cy="245.33" rx="1.27" ry="0.41" opacity="0.26" transform="rotate(18.92 343.19 245.33)"/><path d="M362.6 219.63C363.15 219.63 364.81 219.69 365.91 219.63C367.02 219.56 368.12 219.32 369.23 219.24C370.33 219.16 371.44 219.18 372.54 219.17C373.65 219.15 374.75 219.11 375.86 219.15C376.96 219.18 378.07 219.35 379.17 219.39C380.28 219.44 381.38 219.4 382.49 219.43C383.59 219.47 385.25 219.57 385.8 219.6" stroke="#fff" stroke-width="1" stroke-linecap="round" opacity="0.61" fill="none"/><path d="M365.91 219.63L369.23 219.24" stroke="#fff" stroke-width="0.9" stroke-linecap="round" opacity="0.27" fill="none"/><path d="M369.23 219.24L372.54 219.17" stroke="#fff" stroke-width="0.9" stroke-linecap="round" opacity="0.57" fill="none"/><path d="M372.54 219.17L375.86 219.15" stroke="#fff" stroke-width="0.9" stroke-linecap="round" opacity="0.43" fill="none"/><path d="M379.17 219.39L382.49 219.43" stroke="#fff" stroke-width="0.9" stroke-linecap="round" opacity="0.26" fill="none"/><path d="M382.49 219.43L385.8 219.6" stroke="#fff" stroke-width="0.9" stroke-linecap="round" opacity="0.49" fill="none"/><path d="M362.6 225.63C363.15 225.61 364.81 225.59 365.91 225.56C367.02 225.53 368.12 225.52 369.23 225.46C370.33 225.4 371.44 225.22 372.54 225.19C373.65 225.17 374.75 225.31 375.86 225.3C376.96 225.29 378.07 225.12 379.17 225.16C380.28 225.2 381.38 225.43 382.49 225.53C383.59 225.63 385.25 225.7 385.8 225.73" stroke="#fff" stroke-width="1" stroke-linecap="round" opacity="0.61" fill="none"/><path d="M362.6 225.63L365.91 225.56" stroke="#fff" stroke-width="0.9" stroke-linecap="round" opacity="0.37" fill="none"/><path d="M365.91 225.56L369.23 225.46" stroke="#fff" stroke-width="0.9" stroke-linecap="round" opacity="0.57" fill="none"/><path d="M375.86 225.3L379.17 225.16" stroke="#fff" stroke-width="0.9" stroke-linecap="round" opacity="0.59" fill="none"/><path d="M379.17 225.16L382.49 225.53" stroke="#fff" stroke-width="0.9" stroke-linecap="round" opacity="0.23" fill="none"/><path d="M362.6 232.72C363.15 232.68 364.81 232.5 365.91 232.47C367.02 232.44 368.12 232.57 369.23 232.52C370.33 232.48 371.44 232.27 372.54 232.19C373.65 232.12 374.75 232.04 375.86 232.09C376.96 232.14 378.07 232.46 379.17 232.5C380.28 232.55 381.38 232.32 382.49 232.34C383.59 232.35 385.25 232.56 385.8 232.6" stroke="#fff" stroke-width="1" stroke-linecap="round" opacity="0.61" fill="none"/><path d="M362.6 232.72L365.91 232.47" stroke="#fff" stroke-width="0.9" stroke-linecap="round" opacity="0.29" fill="none"/><path d="M365.91 232.47L369.23 232.52" stroke="#fff" stroke-width="0.9" stroke-linecap="round" opacity="0.22" fill="none"/><path d="M369.23 232.52L372.54 232.19" stroke="#fff" stroke-width="0.9" stroke-linecap="round" opacity="0.37" fill="none"/><path d="M372.54 232.19L375.86 232.09" stroke="#fff" stroke-width="0.9" stroke-linecap="round" opacity="0.51" fill="none"/><path d="M375.86 232.09L379.17 232.5" stroke="#fff" stroke-width="0.9" stroke-linecap="round" opacity="0.29" fill="none"/><path d="M382.49 232.34L385.8 232.6" stroke="#fff" stroke-width="0.9" stroke-linecap="round" opacity="0.39" fill="none"/><path d="M362.6 238.6C363.15 238.61 364.81 238.69 365.91 238.64C367.02 238.6 368.12 238.4 369.23 238.33C370.33 238.26 371.44 238.2 372.54 238.21C373.65 238.22 374.75 238.4 375.86 238.41C376.96 238.41 378.07 238.21 379.17 238.24C380.28 238.27 381.38 238.5 382.49 238.6C383.59 238.7 385.25 238.82 385.8 238.86" stroke="#fff" stroke-width="1" stroke-linecap="round" opacity="0.61" fill="none"/><path d="M362.6 238.6L365.91 238.64" stroke="#fff" stroke-width="0.9" stroke-linecap="round" opacity="0.52" fill="none"/><path d="M365.91 238.64L369.23 238.33" stroke="#fff" stroke-width="0.9" stroke-linecap="round" opacity="0.5" fill="none"/><path d="M372.54 238.21L375.86 238.41" stroke="#fff" stroke-width="0.9" stroke-linecap="round" opacity="0.37" fill="none"/><path d="M375.86 238.41L379.17 238.24" stroke="#fff" stroke-width="0.9" stroke-linecap="round" opacity="0.26" fill="none"/><path d="M379.17 238.24L382.49 238.6" stroke="#fff" stroke-width="0.9" stroke-linecap="round" opacity="0.5" fill="none"/><path d="M362.6 244.76C363.15 244.72 364.81 244.62 365.91 244.56C367.02 244.5 368.12 244.43 369.23 244.4C370.33 244.36 371.44 244.36 372.54 244.34C373.65 244.32 374.75 244.27 375.86 244.3C376.96 244.33 378.07 244.46 379.17 244.52C380.28 244.59 381.38 244.6 382.49 244.67C383.59 244.75 385.25 244.92 385.8 244.97" stroke="#fff" stroke-width="1" stroke-linecap="round" opacity="0.61" fill="none"/><path d="M362.6 244.76L365.91 244.56" stroke="#fff" stroke-width="0.9" stroke-linecap="round" opacity="0.43" fill="none"/><path d="M365.91 244.56L369.23 244.4" stroke="#fff" stroke-width="0.9" stroke-linecap="round" opacity="0.42" fill="none"/><path d="M369.23 244.4L372.54 244.34" stroke="#fff" stroke-width="0.9" stroke-linecap="round" opacity="0.36" fill="none"/><path d="M382.49 244.67L385.8 244.97" stroke="#fff" stroke-width="0.9" stroke-linecap="round" opacity="0.44" fill="none"/><path d="M362.6 213.2C363.27 213.17 365.93 213.03 366.6 213" stroke="#fff" stroke-width="1" stroke-linecap="round" opacity="0.22" fill="none"/><path d="M379.8 213.1C380.63 213.12 383.97 213.18 384.8 213.2" stroke="#fff" stroke-width="1" stroke-linecap="round" opacity="0.22" fill="none"/><ellipse cx="382.56" cy="226.34" rx="1.3" ry="0.5" opacity="0.25"/><ellipse cx="375.74" cy="228.23" rx="1.63" ry="0.54" opacity="0.19"/><ellipse cx="371.83" cy="242.68" rx="1.2" ry="0.87" opacity="0.23"/><ellipse cx="364.68" cy="232.64" rx="1.19" ry="0.48" opacity="0.24"/><ellipse cx="381.61" cy="245.06" rx="1.19" ry="0.47" opacity="0.2"/><ellipse cx="382.11" cy="222.45" rx="1.51" ry="0.64" opacity="0.16"/><ellipse cx="385.59" cy="236.27" rx="1.76" ry="0.79" opacity="0.23"/><ellipse cx="367.09" cy="237.77" rx="0.72" ry="0.78" opacity="0.21"/><ellipse cx="371.6" cy="232.5" rx="1.76" ry="0.74" opacity="0.15"/><ellipse cx="385.13" cy="238.94" rx="0.96" ry="0.61" opacity="0.16"/><ellipse cx="372.64" cy="240.77" rx="1.06" ry="0.87" opacity="0.15"/><ellipse cx="370.52" cy="223.2" rx="1.55" ry="0.45" opacity="0.13"/><ellipse cx="381.44" cy="237.75" rx="0.78" ry="0.61" opacity="0.11"/><ellipse cx="382.28" cy="242.03" rx="0.65" ry="0.79" opacity="0.14"/><ellipse cx="385.6" cy="218.64" rx="1.73" ry="0.55" opacity="0.19"/><ellipse cx="375.18" cy="239.41" rx="1.02" ry="0.79" opacity="0.23"/><ellipse cx="377.81" cy="215.37" rx="1.14" ry="0.51" opacity="0.26"/><ellipse cx="372.09" cy="242.2" rx="1.1" ry="0.53" opacity="0.13"/><ellipse cx="379.2" cy="216.96" rx="1.17" ry="0.67" opacity="0.25"/><ellipse cx="382.02" cy="215.95" rx="1.03" ry="0.61" opacity="0.22"/><ellipse cx="393.83" cy="236.11" rx="1.08" ry="0.53" opacity="0.21"/><ellipse cx="394.37" cy="241.26" rx="1.79" ry="0.46" opacity="0.21"/><ellipse cx="394.69" cy="225" rx="1.24" ry="0.39" opacity="0.34"/><ellipse cx="396.56" cy="222" rx="1.04" ry="0.4" opacity="0.23"/><ellipse cx="396.31" cy="239.33" rx="1.12" ry="0.41" opacity="0.16"/><ellipse cx="398.67" cy="218.86" rx="0.9" ry="0.38" opacity="0.25"/><ellipse cx="395.65" cy="237.77" rx="1.17" ry="0.6" opacity="0.18"/><ellipse cx="396.04" cy="238.64" rx="1.83" ry="0.59" opacity="0.28"/><ellipse cx="396.92" cy="227.46" rx="1.91" ry="0.45" opacity="0.22"/><ellipse cx="398.49" cy="231.3" rx="1.88" ry="0.45" opacity="0.32"/><ellipse cx="398.97" cy="218.12" rx="1.89" ry="0.56" opacity="0.34"/><ellipse cx="397.2" cy="242.12" rx="1.4" ry="0.62" opacity="0.31"/><ellipse cx="394.58" cy="242.26" rx="0.91" ry="0.5" opacity="0.2"/><ellipse cx="396.52" cy="222.89" rx="1.1" ry="0.57" opacity="0.22"/><ellipse cx="397.13" cy="218.52" rx="0.91" ry="0.56" opacity="0.22"/><ellipse cx="397.54" cy="243.08" rx="0.82" ry="0.43" opacity="0.32"/><ellipse cx="398.5" cy="239.66" rx="0.9" ry="0.48" opacity="0.32"/><ellipse cx="400.75" cy="236.7" rx="1.96" ry="0.45" opacity="0.28"/><ellipse cx="400.46" cy="218.97" rx="1.49" ry="0.44" opacity="0.25"/><ellipse cx="400.04" cy="227.82" rx="0.86" ry="0.5" opacity="0.26"/><ellipse cx="395.21" cy="239.67" rx="1.09" ry="0.49" opacity="0.25"/><ellipse cx="393.22" cy="242.73" rx="1.51" ry="0.43" opacity="0.34"/><ellipse cx="398.3" cy="214.6" rx="4.7" ry="1.4" opacity="0.17"/><ellipse cx="398.3" cy="214.6" rx="3.9" ry="0.7" opacity="0.25"/><ellipse cx="395.63" cy="214.6" rx="1.11" ry="0.32" opacity="0.33"/><ellipse cx="396.13" cy="214.66" rx="1.02" ry="0.45" opacity="0.38"/><ellipse cx="398.62" cy="214.54" rx="1.14" ry="0.31" opacity="0.47"/><ellipse cx="399.85" cy="214.71" rx="0.97" ry="0.33" opacity="0.38"/><ellipse cx="401.73" cy="214.83" rx="0.93" ry="0.47" opacity="0.46"/><ellipse cx="398.2" cy="219" rx="5.4" ry="1.9" opacity="0.17"/><ellipse cx="398.2" cy="219" rx="4.6" ry="1.2" opacity="0.48"/><ellipse cx="394.51" cy="219.45" rx="1.04" ry="0.67" opacity="0.83"/><ellipse cx="396.27" cy="219.07" rx="0.8" ry="0.86" opacity="0.52"/><ellipse cx="397.32" cy="218.53" rx="1" ry="0.65" opacity="0.46"/><ellipse cx="399.26" cy="219.11" rx="0.79" ry="0.63" opacity="0.79"/><ellipse cx="400.43" cy="218.82" rx="1.24" ry="0.68" opacity="0.51"/><ellipse cx="402.1" cy="219.23" rx="0.86" ry="0.67" opacity="0.58"/><ellipse cx="405.5" cy="221.3" rx="4.52" ry="2" opacity="0.17" transform="rotate(34.59 405.5 221.3)"/><ellipse cx="405.5" cy="221.3" rx="3.72" ry="1.3" opacity="0.5" transform="rotate(34.59 405.5 221.3)"/><ellipse cx="402.85" cy="219.65" rx="1" ry="0.92" opacity="0.58" transform="rotate(34.59 402.85 219.65)"/><ellipse cx="404.66" cy="220.86" rx="0.79" ry="0.95" opacity="0.52" transform="rotate(34.59 404.66 220.86)"/><ellipse cx="405.23" cy="220.83" rx="0.9" ry="0.6" opacity="0.86" transform="rotate(34.59 405.23 220.83)"/><ellipse cx="406.23" cy="222.47" rx="0.78" ry="0.83" opacity="0.76" transform="rotate(34.59 406.23 222.47)"/><ellipse cx="407.8" cy="222.43" rx="1.2" ry="0.9" opacity="0.79" transform="rotate(34.59 407.8 222.43)"/><ellipse cx="408" cy="226.3" rx="4.06" ry="2.2" opacity="0.17" transform="rotate(101.31 408 226.3)"/><ellipse cx="408" cy="226.3" rx="3.26" ry="1.5" opacity="0.53" transform="rotate(101.31 408 226.3)"/><ellipse cx="408.43" cy="223.16" rx="1.29" ry="0.64" opacity="0.87" transform="rotate(101.31 408.43 223.16)"/><ellipse cx="408.33" cy="225.57" rx="1.23" ry="0.69" opacity="0.68" transform="rotate(101.31 408.33 225.57)"/><ellipse cx="407.77" cy="226.89" rx="1.07" ry="0.82" opacity="0.91" transform="rotate(101.31 407.77 226.89)"/><ellipse cx="407.24" cy="229.29" rx="0.83" ry="0.73" opacity="0.99" transform="rotate(101.31 407.24 229.29)"/><ellipse cx="407.6" cy="226.3" rx="2.4" ry="2.6" opacity="0.18"/><ellipse cx="407.6" cy="226.3" rx="1.7" ry="2.1" opacity="0.5"/><ellipse cx="407.6" cy="226.3" rx="1.2" ry="1.6" opacity="0.9"/><ellipse cx="396.9" cy="229.6" rx="4.1" ry="1.6" opacity="0.17"/><ellipse cx="396.9" cy="229.6" rx="3.3" ry="0.9" opacity="0.46"/><ellipse cx="395.03" cy="229.91" rx="1.06" ry="0.43" opacity="0.64"/><ellipse cx="396.04" cy="229.46" rx="1.16" ry="0.54" opacity="0.42"/><ellipse cx="397.62" cy="229.3" rx="1.23" ry="0.57" opacity="0.53"/><ellipse cx="398.94" cy="229.3" rx="0.81" ry="0.64" opacity="0.63"/><ellipse cx="397.1" cy="240.4" rx="4.5" ry="1.6" opacity="0.17"/><ellipse cx="397.1" cy="240.4" rx="3.7" ry="0.9" opacity="0.46"/><ellipse cx="394.76" cy="240.17" rx="1.15" ry="0.59" opacity="0.43"/><ellipse cx="395.51" cy="240.45" rx="1.04" ry="0.49" opacity="0.83"/><ellipse cx="397.49" cy="240.71" rx="0.84" ry="0.61" opacity="0.41"/><ellipse cx="398.74" cy="240.55" rx="0.88" ry="0.54" opacity="0.61"/><ellipse cx="399.63" cy="240.53" rx="1.29" ry="0.6" opacity="0.73"/><ellipse cx="396" cy="234.5" rx="3" ry="1.3" opacity="0.17"/><ellipse cx="396" cy="234.5" rx="2.2" ry="0.6" opacity="0.21"/><ellipse cx="394.76" cy="234.37" rx="0.92" ry="0.44" opacity="0.25"/><ellipse cx="395.38" cy="234.27" rx="1.13" ry="0.28" opacity="0.36"/><ellipse cx="397.3" cy="234.44" rx="1.15" ry="0.42" opacity="0.32"/><ellipse cx="413.2" cy="235.6" rx="4.47" ry="1.7" opacity="0.17" transform="rotate(41.5 413.2 235.6)"/><ellipse cx="413.2" cy="235.6" rx="3.67" ry="1" opacity="0.34" transform="rotate(41.5 413.2 235.6)"/><ellipse cx="411.01" cy="233.84" rx="0.97" ry="0.57" opacity="0.63" transform="rotate(41.5 411.01 233.84)"/><ellipse cx="412.38" cy="234.69" rx="0.96" ry="0.68" opacity="0.37" transform="rotate(41.5 412.38 234.69)"/><ellipse cx="413.5" cy="235.51" rx="0.81" ry="0.68" opacity="0.61" transform="rotate(41.5 413.5 235.51)"/><ellipse cx="414.02" cy="236.23" rx="1.04" ry="0.48" opacity="0.3" transform="rotate(41.5 414.02 236.23)"/><ellipse cx="415.61" cy="237.14" rx="1.26" ry="0.42" opacity="0.35" transform="rotate(41.5 415.61 237.14)"/><path d="M418 231.3L424.6 240.3" stroke="#fff" stroke-width="0.7" stroke-linecap="round" opacity="0.3" fill="none"/><path d="M419.6 232.3L426 241.5" stroke="#fff" stroke-width="0.7" stroke-linecap="round" opacity="0.3" fill="none"/><path d="M421.2 233.3L427.4 242.7" stroke="#fff" stroke-width="0.7" stroke-linecap="round" opacity="0.3" fill="none"/><ellipse cx="418" cy="244.5" rx="4.16" ry="1.3" opacity="0.17" transform="rotate(18.43 418 244.5)"/><ellipse cx="418" cy="244.5" rx="3.36" ry="0.6" opacity="0.21" transform="rotate(18.43 418 244.5)"/><ellipse cx="415.4" cy="243.54" rx="0.99" ry="0.32" opacity="0.29" transform="rotate(18.43 415.4 243.54)"/><ellipse cx="417.36" cy="244.17" rx="1.12" ry="0.42" opacity="0.34" transform="rotate(18.43 417.36 244.17)"/><ellipse cx="419.11" cy="244.94" rx="1.05" ry="0.36" opacity="0.28" transform="rotate(18.43 419.11 244.94)"/><ellipse cx="420.13" cy="245.2" rx="1.17" ry="0.4" opacity="0.38" transform="rotate(18.43 420.13 245.2)"/><ellipse cx="423.8" cy="225.5" rx="1.8" ry="1" opacity="0.3"/><ellipse cx="431" cy="225.5" rx="1.3" ry="1.2" opacity="0.3"/><ellipse cx="430.4" cy="229.9" rx="1.6" ry="0.8" opacity="0.28"/><ellipse cx="413.5" cy="218.2" rx="1.2" ry="1.2" opacity="0.24"/><ellipse cx="418.7" cy="216.8" rx="1.4" ry="0.9" opacity="0.24"/><ellipse cx="427.37" cy="220.35" rx="0.67" ry="0.56" opacity="0.25"/><ellipse cx="415.15" cy="221.43" rx="0.85" ry="0.43" opacity="0.24"/><ellipse cx="426.66" cy="220.49" rx="1.05" ry="0.46" opacity="0.12"/><ellipse cx="423.25" cy="220.7" rx="0.76" ry="0.65" opacity="0.22"/><ellipse cx="423.23" cy="230.35" rx="0.73" ry="0.65" opacity="0.23"/><ellipse cx="422.11" cy="219.35" rx="0.82" ry="0.63" opacity="0.25"/><ellipse cx="418.06" cy="226.44" rx="1.13" ry="0.68" opacity="0.13"/><ellipse cx="420.68" cy="217.96" rx="1.04" ry="0.63" opacity="0.25"/><ellipse cx="419.68" cy="227.59" rx="0.52" ry="0.47" opacity="0.17"/><ellipse cx="421.66" cy="223.84" rx="0.9" ry="0.57" opacity="0.21"/></g></g></g>
<text x="433.75" y="30.25" font-size="15.5" font-weight="bold" fill="#22a949">-</text><g fill="none" stroke="#22a949" stroke-width="2"><circle cx="443.05" cy="23.45" r="3.1"/><path d="M443.05 26.55V32.95M439.35 29.4H446.75"/></g>
<text x="435.3" y="148" font-size="12.2" text-anchor="middle" fill="#f15f2c">+</text><g fill="none" stroke="#f15f2c" stroke-width="2"><circle cx="444" cy="142.3" r="3.1"/><path d="M444 145.4V151.8M440.3 148.25H447.7"/></g>
<text x="484.6" y="13.9" font-size="18.6" font-weight="bold" fill="#231f20">D</text>
<line x1="562.7" y1="15.9" x2="635.5" y2="16.8" stroke="#333" stroke-width="1.3"/>
<text x="599.1" y="17.52" font-size="16.8" text-anchor="middle" fill="#231f20">*</text>
<rect x="501.8" y="35.6" width="1.5" height="205.4" fill="#636467"/>
<rect x="502.55" y="240.1" width="2.8" height="1" fill="#636467"/>
<text x="500.3" y="244.8" font-size="12.4" text-anchor="end" fill="#3a3a3c">0</text>
<rect x="502.55" y="219.62" width="2.8" height="1" fill="#636467"/>
<text x="500.3" y="224.32" font-size="12.4" text-anchor="end" fill="#3a3a3c">10</text>
<rect x="502.55" y="199.14" width="2.8" height="1" fill="#636467"/>
<text x="500.3" y="203.84" font-size="12.4" text-anchor="end" fill="#3a3a3c">20</text>
<rect x="502.55" y="178.66" width="2.8" height="1" fill="#636467"/>
<text x="500.3" y="183.36" font-size="12.4" text-anchor="end" fill="#3a3a3c">30</text>
<rect x="502.55" y="158.18" width="2.8" height="1" fill="#636467"/>
<text x="500.3" y="162.88" font-size="12.4" text-anchor="end" fill="#3a3a3c">40</text>
<rect x="502.55" y="137.7" width="2.8" height="1" fill="#636467"/>
<text x="500.3" y="142.4" font-size="12.4" text-anchor="end" fill="#3a3a3c">50</text>
<rect x="502.55" y="117.22" width="2.8" height="1" fill="#636467"/>
<text x="500.3" y="121.92" font-size="12.4" text-anchor="end" fill="#3a3a3c">60</text>
<rect x="502.55" y="96.74" width="2.8" height="1" fill="#636467"/>
<text x="500.3" y="101.44" font-size="12.4" text-anchor="end" fill="#3a3a3c">70</text>
<rect x="502.55" y="76.26" width="2.8" height="1" fill="#636467"/>
<text x="500.3" y="80.96" font-size="12.4" text-anchor="end" fill="#3a3a3c">80</text>
<rect x="502.55" y="55.78" width="2.8" height="1" fill="#636467"/>
<text x="500.3" y="60.48" font-size="12.4" text-anchor="end" fill="#3a3a3c">90</text>
<rect x="502.55" y="35.3" width="2.8" height="1" fill="#636467"/>
<text x="500.3" y="40" font-size="12.4" text-anchor="end" fill="#3a3a3c">100</text>
<rect x="501.8" y="239.95" width="183.2" height="1.6" fill="#636467"/>
<text transform="translate(476 130.55) rotate(-90)" font-size="12.65" text-anchor="middle" fill="#231f20">Song similarity (%)</text>
<path d="M559.5 54C559.4 56.67 559.27 62.67 558.9 70C558.53 77.33 557.8 89.67 557.3 98C556.8 106.33 556.47 113.33 555.9 120C555.33 126.67 554.88 132.17 553.9 138C552.92 143.83 551.48 149.67 550 155C548.52 160.33 546.58 165.5 545 170C543.42 174.5 541.63 178.33 540.5 182C539.37 185.67 538.62 189 538.2 192C537.78 195 537.75 197.67 538 200C538.25 202.33 539.08 204.33 539.7 206C540.32 207.67 541.37 209.33 541.7 210L584.5 210C584.73 209.33 585.48 207.67 585.9 206C586.32 204.33 586.8 202.33 587 200C587.2 197.67 587.43 195 587.1 192C586.77 189 586.1 185.67 585 182C583.9 178.33 582.17 174.5 580.5 170C578.83 165.5 576.57 160.33 575 155C573.43 149.67 572.08 143.83 571.1 138C570.12 132.17 569.67 126.67 569.1 120C568.53 113.33 568.2 106.33 567.7 98C567.2 89.67 566.47 77.33 566.1 70C565.73 62.67 565.6 56.67 565.5 54Z" fill="#c3dfc3" stroke="#787878" stroke-width="0.9" stroke-linejoin="round"/>
<g fill="#66bb73" fill-opacity="0.42"><circle cx="564.2" cy="53.7" r="5"/><circle cx="557.3" cy="98" r="5"/><circle cx="564.6" cy="114.8" r="5"/><circle cx="566.7" cy="144.3" r="5"/><circle cx="569.5" cy="162.6" r="5"/><circle cx="574.3" cy="159.9" r="5"/><circle cx="552.6" cy="182" r="5"/><circle cx="580.8" cy="179.5" r="5"/><circle cx="539.6" cy="200.1" r="5"/><circle cx="546.9" cy="204.7" r="5"/><circle cx="557.3" cy="205.8" r="5"/><circle cx="568.8" cy="209.6" r="5"/><circle cx="569.5" cy="199.9" r="5"/><circle cx="575.2" cy="195.9" r="5"/><circle cx="579.3" cy="201.6" r="5"/><circle cx="569.2" cy="210" r="5"/></g>
<line x1="562.5" y1="201" x2="562.5" y2="210" stroke="#7d7f82" stroke-width="1"/>
<line x1="562.5" y1="98.4" x2="562.5" y2="201.6" stroke="#7d7f82" stroke-width="1.6"/><line x1="562.5" y1="147.9" x2="562.5" y2="201.6" stroke="#7d7f82" stroke-width="3.3"/>
<path d="M631 41.6C630.53 44.67 629.43 51.93 628.2 60C626.97 68.07 625.18 80.83 623.6 90C622.02 99.17 620.23 107.5 618.7 115C617.17 122.5 615.6 128.67 614.4 135C613.2 141.33 611.83 147.5 611.5 153C611.17 158.5 611.68 163.17 612.4 168C613.12 172.83 614.58 177.57 615.8 182C617.02 186.43 619.05 192.5 619.7 194.6L653.4 194.6C654 192.5 655.87 186.43 657 182C658.13 177.57 659.6 172.83 660.2 168C660.8 163.17 661.07 158.5 660.6 153C660.13 147.5 658.67 141.33 657.4 135C656.13 128.67 654.57 122.5 653 115C651.43 107.5 649.53 99.17 648 90C646.47 80.83 644.97 68.07 643.8 60C642.63 51.93 641.47 44.67 641 41.6Z" fill="#fccab5" stroke="#787878" stroke-width="0.9" stroke-linejoin="round"/>
<g fill="#f47c52" fill-opacity="0.42"><circle cx="638.7" cy="41.5" r="5"/><circle cx="628.6" cy="71.2" r="5"/><circle cx="646" cy="86.3" r="5"/><circle cx="626.7" cy="92.6" r="5"/><circle cx="639.7" cy="109" r="5"/><circle cx="637.6" cy="126.2" r="5"/><circle cx="647.7" cy="129.4" r="5"/><circle cx="656.6" cy="140.1" r="5"/><circle cx="654.5" cy="144.7" r="5"/><circle cx="618.7" cy="147.5" r="5"/><circle cx="632" cy="153.2" r="5"/><circle cx="655.1" cy="162.6" r="5"/><circle cx="655.5" cy="173.2" r="5"/><circle cx="626" cy="176.3" r="5"/><circle cx="635.1" cy="184.1" r="5"/><circle cx="622.9" cy="187.3" r="5"/><circle cx="650.7" cy="194.8" r="5"/></g>
<line x1="636" y1="41.6" x2="636" y2="194.6" stroke="#7d7f82" stroke-width="1.6"/><line x1="636" y1="107.9" x2="636" y2="174.2" stroke="#7d7f82" stroke-width="3.3"/>
<text x="553.8" y="262.4" font-size="22" font-weight="bold" fill="#22a949">-</text><g fill="none" stroke="#22a949" stroke-width="2.15"><circle cx="565.4" cy="252.9" r="3.95"/><path d="M565.4 256.85V265.1M560.8 260.2H570"/></g>
<text x="623.7" y="260.25" font-size="16" font-weight="bold" text-anchor="middle" fill="#f15f2c">+</text><g fill="none" stroke="#f15f2c" stroke-width="2.15"><circle cx="634.4" cy="252.9" r="3.95"/><path d="M634.4 256.85V265.1M629.8 260.2H639"/></g>
<text x="14.4" y="286.4" font-size="18.6" font-weight="bold" fill="#231f20">E</text>
<line x1="74.7" y1="290.4" x2="198" y2="290.4" stroke="#333" stroke-width="1.3"/>
<text x="135.7" y="293.32" font-size="16.8" text-anchor="middle" fill="#231f20">*</text>
<line x1="74.7" y1="303.7" x2="135.9" y2="303.7" stroke="#333" stroke-width="1.3"/>
<text x="106.3" y="306.62" font-size="16.8" text-anchor="middle" fill="#231f20">*</text>
<line x1="136.7" y1="314.4" x2="198" y2="314.4" stroke="#333" stroke-width="1.3"/>
<text x="168.3" y="312.1" font-size="12.4" text-anchor="middle" fill="#231f20">n.s.</text>
<rect x="35.1" y="313" width="1.3" height="137.4" fill="#38383a"/>
<rect x="35.75" y="434.25" width="1.8" height="1" fill="#38383a"/>
<text x="34" y="439.55" font-size="12" text-anchor="end" fill="#3a3a3c">4</text>
<rect x="35.75" y="403.95" width="1.8" height="1" fill="#38383a"/>
<text x="34" y="409.25" font-size="12" text-anchor="end" fill="#3a3a3c">6</text>
<rect x="35.75" y="373.65" width="1.8" height="1" fill="#38383a"/>
<text x="34" y="378.95" font-size="12" text-anchor="end" fill="#3a3a3c">8</text>
<rect x="35.75" y="343.35" width="1.8" height="1" fill="#38383a"/>
<text x="34" y="348.65" font-size="12" text-anchor="end" fill="#3a3a3c">10</text>
<rect x="35.75" y="313.05" width="1.8" height="1" fill="#38383a"/>
<text x="34" y="318.35" font-size="12" text-anchor="end" fill="#3a3a3c">12</text>
<rect x="35.75" y="419.15" width="1.44" height="0.9" fill="#38383a"/>
<rect x="35.75" y="388.85" width="1.44" height="0.9" fill="#38383a"/>
<rect x="35.75" y="358.55" width="1.44" height="0.9" fill="#38383a"/>
<rect x="35.75" y="328.25" width="1.44" height="0.9" fill="#38383a"/>
<rect x="35.1" y="449.4" width="182.6" height="1.4" fill="#38383a"/>
<text transform="translate(15.9 380) rotate(-90)" font-size="12.65" text-anchor="middle" fill="#231f20">Syllable rate (syll/s)</text>
<path d="M67.4 329.6C67.53 332.17 68.02 340.43 68.2 345C68.38 349.57 68.55 353.5 68.5 357C68.45 360.5 68.3 363.5 67.9 366C67.5 368.5 67.1 370 66.1 372C65.1 374 63.6 376 61.9 378C60.2 380 57.52 382.17 55.9 384C54.28 385.83 53.05 387.5 52.2 389C51.35 390.5 50.85 391.5 50.8 393C50.75 394.5 51.17 396.17 51.9 398C52.63 399.83 53.87 401.83 55.2 404C56.53 406.17 58.45 408.67 59.9 411C61.35 413.33 62.63 415.62 63.9 418C65.17 420.38 66.9 424.08 67.5 425.3L82.3 425.3C82.77 424.08 83.97 420.38 85.1 418C86.23 415.62 87.6 413.33 89.1 411C90.6 408.67 92.67 406.17 94.1 404C95.53 401.83 96.93 399.83 97.7 398C98.47 396.17 98.82 394.5 98.7 393C98.58 391.5 98 390.5 97 389C96 387.5 94.28 385.83 92.7 384C91.12 382.17 89.07 380 87.5 378C85.93 376 84.33 374 83.3 372C82.27 370 81.77 368.5 81.3 366C80.83 363.5 80.58 360.5 80.5 357C80.42 353.5 80.62 349.57 80.8 345C80.98 340.43 81.47 332.17 81.6 329.6Z" fill="#c3dfc3" stroke="#a3a3a3" stroke-width="0.8" stroke-linejoin="round"/>
<g fill="#66bb73" fill-opacity="0.45"><circle cx="70.1" cy="329.9" r="3.3"/><circle cx="75.2" cy="329.9" r="3.3"/><circle cx="77.9" cy="349.9" r="3.3"/><circle cx="76.4" cy="361" r="3.3"/><circle cx="90.7" cy="383.8" r="3.3"/><circle cx="90.1" cy="386.3" r="3.3"/><circle cx="95.6" cy="391.6" r="3.3"/><circle cx="78.5" cy="393" r="3.3"/><circle cx="62.7" cy="395.2" r="3.3"/><circle cx="61" cy="396.4" r="3.3"/><circle cx="60" cy="403" r="3.3"/><circle cx="81" cy="407.2" r="3.3"/><circle cx="77.9" cy="418" r="3.3"/><circle cx="72.1" cy="425.3" r="3.3"/></g>
<line x1="74.5" y1="329.6" x2="74.5" y2="425.3" stroke="#7d7f82" stroke-width="1"/><line x1="74.5" y1="366" x2="74.5" y2="401.1" stroke="#7d7f82" stroke-width="3"/><circle cx="74.5" cy="391.5" r="1.1" fill="#fff"/>
<path d="M168.5 381.3C167.92 382.75 166.37 386.88 165 390C163.63 393.12 161.78 396.83 160.3 400C158.82 403.17 157.13 406.18 156.1 409C155.07 411.82 154.23 414.4 154.1 416.9C153.97 419.4 154.43 421.65 155.3 424C156.17 426.35 157.7 428.67 159.3 431C160.9 433.33 163.2 435.8 164.9 438C166.6 440.2 168.73 443.17 169.5 444.2L186.9 444.2C187.58 443.17 189.4 440.2 191 438C192.6 435.8 194.95 433.33 196.5 431C198.05 428.67 199.5 426.35 200.3 424C201.1 421.65 201.5 419.4 201.3 416.9C201.1 414.4 200.13 411.82 199.1 409C198.07 406.18 196.5 403.17 195.1 400C193.7 396.83 192 393.12 190.7 390C189.4 386.88 187.87 382.75 187.3 381.3Z" fill="#fccab5" stroke="#a3a3a3" stroke-width="0.8" stroke-linejoin="round"/>
<g fill="#f47c52" fill-opacity="0.45"><circle cx="181.4" cy="381.3" r="3.3"/><circle cx="176" cy="384.7" r="3.3"/><circle cx="185.7" cy="392.7" r="3.3"/><circle cx="177.3" cy="396.3" r="3.3"/><circle cx="184.5" cy="397.5" r="3.3"/><circle cx="188.6" cy="402.8" r="3.3"/><circle cx="191.8" cy="408.4" r="3.3"/><circle cx="188.6" cy="411.3" r="3.3"/><circle cx="156" cy="416.4" r="3.3"/><circle cx="167.3" cy="418.1" r="3.3"/><circle cx="174.1" cy="417.3" r="3.3"/><circle cx="160.3" cy="425.3" r="3.3"/><circle cx="172.4" cy="424.8" r="3.3"/><circle cx="183.8" cy="425.8" r="3.3"/><circle cx="167.3" cy="432.6" r="3.3"/><circle cx="173.4" cy="438.6" r="3.3"/><circle cx="185.5" cy="444.2" r="3.3"/></g>
<line x1="177.5" y1="381.3" x2="177.5" y2="444.2" stroke="#7d7f82" stroke-width="1"/><line x1="177.5" y1="397.5" x2="177.5" y2="425.3" stroke="#7d7f82" stroke-width="3"/><circle cx="177.5" cy="416.4" r="1.1" fill="#fff"/>
<circle cx="131.3" cy="406.7" r="4" fill="#00a7e7"/>
<text x="59.85" y="470.2" font-size="22" font-weight="bold" fill="#22a949">-</text><g fill="none" stroke="#22a949" stroke-width="2.15"><circle cx="71.45" cy="460.7" r="3.95"/><path d="M71.45 464.65V472.9M66.85 468H76.05"/></g>
<g transform="translate(112.9 455.6)"><path d="M8.5 0L19 4.9H24.3V13.2H19L8.5 18Z" fill="#00a7e7"/><path d="M1 0.3L5.9 4.5M0 9.1H6.3M1 17.6L5.9 13.2" stroke="#00a7e7" stroke-width="1.4" fill="none"/></g>
<text x="169" y="468.25" font-size="16" font-weight="bold" text-anchor="middle" fill="#f15f2c">+</text><g fill="none" stroke="#f15f2c" stroke-width="2.15"><circle cx="179.7" cy="460.9" r="3.95"/><path d="M179.7 464.85V473.1M175.1 468.2H184.3"/></g>
<text x="247.6" y="285.8" font-size="18.6" font-weight="bold" fill="#231f20">F</text>
<line x1="317.4" y1="291" x2="420.6" y2="291" stroke="#333" stroke-width="1.3"/>
<text x="369.9" y="293.82" font-size="16.8" text-anchor="middle" fill="#231f20">*</text>
<line x1="317.4" y1="304.6" x2="368.4" y2="304.6" stroke="#333" stroke-width="1.3"/>
<text x="340.5" y="308.12" font-size="16.8" text-anchor="middle" fill="#231f20">*</text>
<line x1="366.3" y1="309.8" x2="420" y2="309.8" stroke="#333" stroke-width="1.3"/>
<text x="393.3" y="311.62" font-size="16.8" text-anchor="middle" fill="#231f20">*</text>
<rect x="280.15" y="312.7" width="1.3" height="137.7" fill="#38383a"/>
<rect x="280.8" y="443.2" width="1.3" height="1" fill="#38383a"/>
<text x="275.8" y="448.4" font-size="12.8" text-anchor="end" fill="#3a3a3c">80</text>
<rect x="280.8" y="419.42" width="1.3" height="1" fill="#38383a"/>
<text x="275.8" y="424.62" font-size="12.8" text-anchor="end" fill="#3a3a3c">120</text>
<rect x="280.8" y="395.64" width="1.3" height="1" fill="#38383a"/>
<text x="275.8" y="400.84" font-size="12.8" text-anchor="end" fill="#3a3a3c">160</text>
<rect x="280.8" y="371.86" width="1.3" height="1" fill="#38383a"/>
<text x="275.8" y="377.06" font-size="12.8" text-anchor="end" fill="#3a3a3c">200</text>
<rect x="280.8" y="348.08" width="1.3" height="1" fill="#38383a"/>
<text x="275.8" y="353.28" font-size="12.8" text-anchor="end" fill="#3a3a3c">240</text>
<rect x="280.8" y="324.3" width="1.3" height="1" fill="#38383a"/>
<text x="275.8" y="329.5" font-size="12.8" text-anchor="end" fill="#3a3a3c">280</text>
<rect x="280.8" y="431.36" width="1.04" height="0.9" fill="#38383a"/>
<rect x="280.8" y="407.58" width="1.04" height="0.9" fill="#38383a"/>
<rect x="280.8" y="383.8" width="1.04" height="0.9" fill="#38383a"/>
<rect x="280.8" y="360.02" width="1.04" height="0.9" fill="#38383a"/>
<rect x="280.8" y="336.24" width="1.04" height="0.9" fill="#38383a"/>
<rect x="280.8" y="312.46" width="1.04" height="0.9" fill="#38383a"/>
<rect x="280.15" y="449.4" width="177.35" height="1.4" fill="#38383a"/>
<text transform="translate(248.6 372.1) rotate(-90)" font-size="12.65" text-anchor="middle" fill="#231f20">Mean syllable duration (ms)</text>
<path d="M312.5 362.9C312.33 364.42 312.13 369.15 311.5 372C310.87 374.85 310 377.33 308.7 380C307.4 382.67 305.4 385.33 303.7 388C302 390.67 299.9 393.42 298.5 396C297.1 398.58 295.6 401.17 295.3 403.5C295 405.83 295.67 407.75 296.7 410C297.73 412.25 300.1 414.67 301.5 417C302.9 419.33 304.23 421.67 305.1 424C305.97 426.33 306.32 428.77 306.7 431C307.08 433.23 307.28 436.33 307.4 437.4L326.8 437.4C326.98 436.33 327.42 433.23 327.9 431C328.38 428.77 328.8 426.33 329.7 424C330.6 421.67 331.97 419.33 333.3 417C334.63 414.67 336.77 412.25 337.7 410C338.63 407.75 339.4 405.83 338.9 403.5C338.4 401.17 336.4 398.58 334.7 396C333 393.42 330.43 390.67 328.7 388C326.97 385.33 325.33 382.67 324.3 380C323.27 377.33 322.93 374.85 322.5 372C322.07 369.15 321.83 364.42 321.7 362.9Z" fill="#c3dfc3" stroke="#a3a3a3" stroke-width="0.8" stroke-linejoin="round"/>
<g fill="#66bb73" fill-opacity="0.45"><circle cx="314.2" cy="362.9" r="3.3"/><circle cx="314.7" cy="375" r="3.3"/><circle cx="310.3" cy="389.5" r="3.3"/><circle cx="319" cy="394.6" r="3.3"/><circle cx="332.1" cy="401.9" r="3.3"/><circle cx="308.6" cy="403.6" r="3.3"/><circle cx="320.7" cy="404.8" r="3.3"/><circle cx="303.8" cy="407.9" r="3.3"/><circle cx="306.9" cy="410.8" r="3.3"/><circle cx="326.8" cy="424.6" r="3.3"/><circle cx="311" cy="430.2" r="3.3"/><circle cx="319.5" cy="437.4" r="3.3"/><circle cx="324.4" cy="437.4" r="3.3"/></g>
<line x1="317.1" y1="362.9" x2="317.1" y2="437.4" stroke="#7d7f82" stroke-width="1"/><line x1="317.1" y1="395" x2="317.1" y2="421" stroke="#7d7f82" stroke-width="3"/>
<path d="M416.6 315.2C416.53 316.83 416.6 321.7 416.2 325C415.8 328.3 415.3 331.1 414.2 335C413.1 338.9 411.6 343.7 409.6 348.4C407.6 353.1 403.93 358.77 402.2 363.2C400.47 367.63 399.82 371.5 399.2 375C398.58 378.5 398.5 381.2 398.5 384.2C398.5 387.2 398.62 390.03 399.2 393C399.78 395.97 400.57 398.75 402 402C403.43 405.25 406.83 410.75 407.8 412.5L433.8 412.5C434.7 410.75 437.83 405.25 439.2 402C440.57 398.75 441.42 395.97 442 393C442.58 390.03 442.7 387.2 442.7 384.2C442.7 381.2 442.62 378.5 442 375C441.38 371.5 440.73 367.63 439 363.2C437.27 358.77 433.6 353.1 431.6 348.4C429.6 343.7 428.1 338.9 427 335C425.9 331.1 425.4 328.3 425 325C424.6 321.7 424.67 316.83 424.6 315.2Z" fill="#fccab5" stroke="#a3a3a3" stroke-width="0.8" stroke-linejoin="round"/>
<g fill="#f47c52" fill-opacity="0.45"><circle cx="422.7" cy="315.8" r="3.3"/><circle cx="425.7" cy="333.1" r="3.3"/><circle cx="421.1" cy="348.4" r="3.3"/><circle cx="424.8" cy="362.1" r="3.3"/><circle cx="418.3" cy="363.8" r="3.3"/><circle cx="422.1" cy="375.2" r="3.3"/><circle cx="417.5" cy="375.8" r="3.3"/><circle cx="414.7" cy="377.9" r="3.3"/><circle cx="434.1" cy="384.6" r="3.3"/><circle cx="432.6" cy="387.4" r="3.3"/><circle cx="415.8" cy="398.5" r="3.3"/><circle cx="432.2" cy="399.4" r="3.3"/><circle cx="413.7" cy="403.4" r="3.3"/><circle cx="428.8" cy="409.7" r="3.3"/><circle cx="409.5" cy="412.5" r="3.3"/></g>
<line x1="420.6" y1="315.2" x2="420.6" y2="412.5" stroke="#7d7f82" stroke-width="1"/><line x1="420.6" y1="362.5" x2="420.6" y2="400.3" stroke="#7d7f82" stroke-width="3"/>
<circle cx="368.4" cy="390.1" r="4" fill="#00a7e7"/>
<text x="307.8" y="468.9" font-size="22" font-weight="bold" fill="#22a949">-</text><g fill="none" stroke="#22a949" stroke-width="2.15"><circle cx="319.4" cy="459.4" r="3.95"/><path d="M319.4 463.35V471.6M314.8 466.7H324"/></g>
<g transform="translate(356.2 455)"><path d="M8.5 0L19 4.9H24.3V13.2H19L8.5 18Z" fill="#00a7e7"/><path d="M1 0.3L5.9 4.5M0 9.1H6.3M1 17.6L5.9 13.2" stroke="#00a7e7" stroke-width="1.4" fill="none"/></g>
<text x="417" y="466.75" font-size="16" font-weight="bold" text-anchor="middle" fill="#f15f2c">+</text><g fill="none" stroke="#f15f2c" stroke-width="2.15"><circle cx="427.7" cy="459.4" r="3.95"/><path d="M427.7 463.35V471.6M423.1 466.7H432.3"/></g>
<text x="476.2" y="286.4" font-size="18.6" font-weight="bold" fill="#231f20">G</text>
<line x1="539.2" y1="290.2" x2="643.9" y2="290.2" stroke="#333" stroke-width="1.3"/>
<text x="588.8" y="286.2" font-size="12.4" text-anchor="middle" fill="#231f20">n.s.</text>
<line x1="539.2" y1="307.9" x2="594.5" y2="307.9" stroke="#333" stroke-width="1.3"/>
<text x="564.9" y="309.62" font-size="16.8" text-anchor="middle" fill="#231f20">*</text>
<line x1="594.5" y1="316.7" x2="643.9" y2="316.7" stroke="#333" stroke-width="1.3"/>
<text x="620.2" y="318.62" font-size="16.8" text-anchor="middle" fill="#231f20">*</text>
<rect x="503.7" y="308.5" width="1.3" height="141.5" fill="#38383a"/>
<rect x="504.35" y="448.8" width="1.3" height="1" fill="#38383a"/>
<text x="498.1" y="454.3" font-size="12.6" text-anchor="end" fill="#3a3a3c">0</text>
<rect x="504.35" y="408.56" width="1.3" height="1" fill="#38383a"/>
<text x="498.1" y="414.06" font-size="12.6" text-anchor="end" fill="#3a3a3c">40</text>
<rect x="504.35" y="368.32" width="1.3" height="1" fill="#38383a"/>
<text x="498.1" y="373.82" font-size="12.6" text-anchor="end" fill="#3a3a3c">80</text>
<rect x="504.35" y="328.08" width="1.3" height="1" fill="#38383a"/>
<text x="498.1" y="333.58" font-size="12.6" text-anchor="end" fill="#3a3a3c">120</text>
<rect x="504.35" y="428.73" width="1.04" height="0.9" fill="#38383a"/>
<rect x="504.35" y="388.49" width="1.04" height="0.9" fill="#38383a"/>
<rect x="504.35" y="348.25" width="1.04" height="0.9" fill="#38383a"/>
<rect x="504.05" y="448.9" width="179.55" height="1.4" fill="#38383a"/>
<text transform="translate(474.5 378.7) rotate(-90)" font-size="12.55" text-anchor="middle" fill="#231f20">Mean gap duration (ms)</text>
<path d="M536.5 351C536.57 352.5 536.87 357.28 536.9 360C536.93 362.72 537.07 364.97 536.7 367.3C536.33 369.63 535.62 371.98 534.7 374C533.78 376.02 533.2 377.3 531.2 379.4C529.2 381.5 524.98 384.33 522.7 386.6C520.42 388.87 518.58 390.77 517.5 393C516.42 395.23 516.27 397.67 516.2 400C516.13 402.33 516.25 404.67 517.1 407C517.95 409.33 519.53 411.83 521.3 414C523.07 416.17 525.9 418.23 527.7 420C529.5 421.77 531.37 423.83 532.1 424.6L547.3 424.6C548.1 423.83 550.23 421.77 552.1 420C553.97 418.23 556.73 416.17 558.5 414C560.27 411.83 561.92 409.33 562.7 407C563.48 404.67 563.6 402.33 563.2 400C562.8 397.67 561.8 395.23 560.3 393C558.8 390.77 556.22 388.87 554.2 386.6C552.18 384.33 549.78 381.5 548.2 379.4C546.62 377.3 545.62 376.02 544.7 374C543.78 371.98 543.07 369.63 542.7 367.3C542.33 364.97 542.47 362.72 542.5 360C542.53 357.28 542.83 352.5 542.9 351Z" fill="#c3dfc3" stroke="#a3a3a3" stroke-width="0.8" stroke-linejoin="round"/>
<g fill="#66bb73" fill-opacity="0.45"><circle cx="537.1" cy="351.7" r="3.3"/><circle cx="542.1" cy="375" r="3.3"/><circle cx="556.6" cy="389" r="3.3"/><circle cx="530.5" cy="390.7" r="3.3"/><circle cx="525.2" cy="392.7" r="3.3"/><circle cx="519.1" cy="393.9" r="3.3"/><circle cx="521.5" cy="395.1" r="3.3"/><circle cx="556.6" cy="398.7" r="3.3"/><circle cx="552.3" cy="405.2" r="3.3"/><circle cx="554.7" cy="407.2" r="3.3"/><circle cx="560.3" cy="406.7" r="3.3"/><circle cx="536.1" cy="412" r="3.3"/><circle cx="523.5" cy="412.7" r="3.3"/><circle cx="540.2" cy="424.6" r="3.3"/></g>
<line x1="539.7" y1="375" x2="539.7" y2="424.6" stroke="#7d7f82" stroke-width="1"/><line x1="539.7" y1="391" x2="539.7" y2="410.8" stroke="#7d7f82" stroke-width="3"/>
<path d="M641.4 345.6C641.3 347.33 641.25 352.38 640.8 356C640.35 359.62 639.47 364.3 638.7 367.3C637.93 370.3 637.17 371.98 636.2 374C635.23 376.02 634.3 377.57 632.9 379.4C631.5 381.23 629.35 383.23 627.8 385C626.25 386.77 624.67 388.12 623.6 390C622.53 391.88 621.53 394.3 621.4 396.3C621.27 398.3 622.13 400.38 622.8 402C623.47 403.62 624.37 404.73 625.4 406C626.43 407.27 628.4 409 629 409.6L661.4 409.6C661.83 409 663.17 407.27 664 406C664.83 404.73 665.8 403.62 666.4 402C667 400.38 667.8 398.3 667.6 396.3C667.4 394.3 666.3 391.88 665.2 390C664.1 388.12 662.55 386.77 661 385C659.45 383.23 657.3 381.23 655.9 379.4C654.5 377.57 653.57 376.02 652.6 374C651.63 371.98 650.87 370.3 650.1 367.3C649.33 364.3 648.45 359.62 648 356C647.55 352.38 647.5 347.33 647.4 345.6Z" fill="#fccab5" stroke="#a3a3a3" stroke-width="0.8" stroke-linejoin="round"/>
<g fill="#f47c52" fill-opacity="0.45"><circle cx="642.9" cy="346.4" r="3.3"/><circle cx="646.1" cy="368.5" r="3.3"/><circle cx="640" cy="383" r="3.3"/><circle cx="658.9" cy="385.4" r="3.3"/><circle cx="656.9" cy="390.2" r="3.3"/><circle cx="655" cy="392.7" r="3.3"/><circle cx="646.1" cy="391.5" r="3.3"/><circle cx="628.6" cy="394.4" r="3.3"/><circle cx="635.7" cy="394.4" r="3.3"/><circle cx="622.3" cy="398.7" r="3.3"/><circle cx="649" cy="399.4" r="3.3"/><circle cx="632.7" cy="402.8" r="3.3"/><circle cx="634.7" cy="404.3" r="3.3"/><circle cx="630.8" cy="406" r="3.3"/><circle cx="642.4" cy="409.1" r="3.3"/><circle cx="650.4" cy="409.6" r="3.3"/></g>
<line x1="644.4" y1="368.5" x2="644.4" y2="409.6" stroke="#7d7f82" stroke-width="1"/><line x1="644.4" y1="385" x2="644.4" y2="403.6" stroke="#7d7f82" stroke-width="3"/>
<circle cx="594.5" cy="328.3" r="4" fill="#00a7e7"/>
<text x="527.8" y="469.5" font-size="22" font-weight="bold" fill="#22a949">-</text><g fill="none" stroke="#22a949" stroke-width="2.15"><circle cx="539.4" cy="460" r="3.95"/><path d="M539.4 463.95V472.2M534.8 467.3H544"/></g>
<g transform="translate(583.4 454.8)"><path d="M8.5 0L19 4.9H24.3V13.2H19L8.5 18Z" fill="#00a7e7"/><path d="M1 0.3L5.9 4.5M0 9.1H6.3M1 17.6L5.9 13.2" stroke="#00a7e7" stroke-width="1.4" fill="none"/></g>
<text x="635.6" y="467.35" font-size="16" font-weight="bold" text-anchor="middle" fill="#f15f2c">+</text><g fill="none" stroke="#f15f2c" stroke-width="2.15"><circle cx="646.3" cy="460" r="3.95"/><path d="M646.3 463.95V472.2M641.7 467.3H650.9"/></g>
</svg>
</body>
</html>
